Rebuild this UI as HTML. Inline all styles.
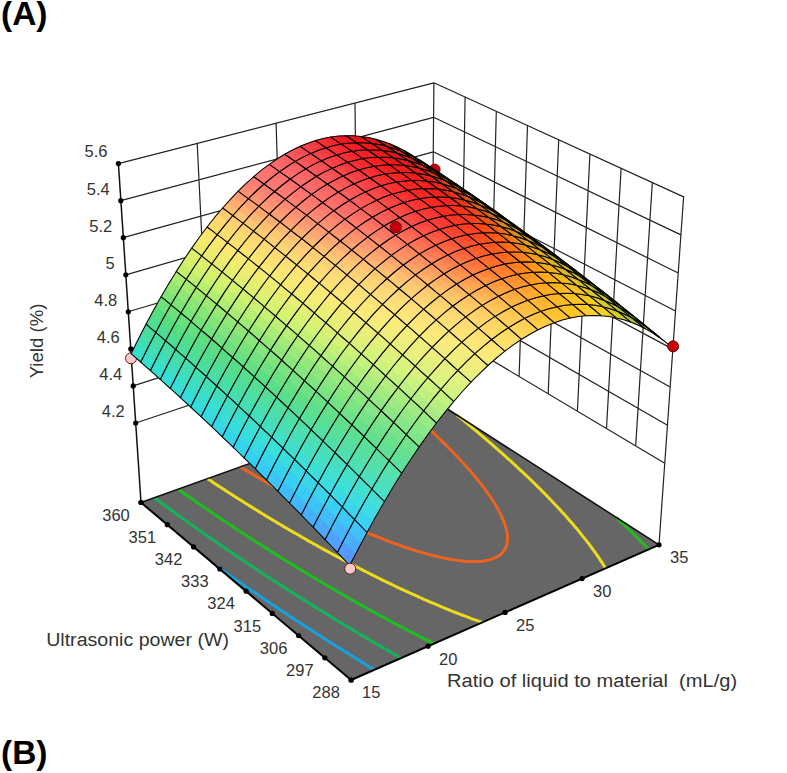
<!DOCTYPE html>
<html><head><meta charset="utf-8"><style>.m{fill:none;stroke:#000;stroke-width:1.05px;stroke-opacity:1;stroke-linejoin:round}html,body{margin:0;padding:0;background:#fff}body{width:787px;height:773px;position:relative;overflow:hidden}</style></head>
<body><svg width="787" height="773" viewBox="0 0 787 773" style="position:absolute;left:0;top:0"><path d="M135.7 423L431.7 324.4 M431.7 324.4L664.8 463.2 M133.2 385.9L432 289.9 M432 289.9L667.5 425.2 M130.8 348.9L432.3 255.4 M432.3 255.4L670.2 387.1 M128.3 311.8L432.6 220.9 M432.6 220.9L672.8 349.1 M125.8 274.8L433 186.3 M433 186.3L675.5 311 M123.3 237.7L433.3 151.8 M433.3 151.8L678.2 273 M120.8 200.7L433.6 117.3 M433.6 117.3L680.9 234.9 M118.4 163.6L433.9 82.8 M433.9 82.8L683.6 196.9 M209.7 398.4L197.2 143.4 M283.7 373.7L276.1 123.2 M357.7 349.1L355 103 M635.7 445.9L652.3 182.6 M606.5 428.5L621.1 168.4 M577.4 411.2L589.9 154.1 M548.2 393.8L558.7 139.8 M519.1 376.5L527.5 125.6 M490 359.1L496.3 111.3 M460.8 341.8L465.1 97.1 M431 398.5L433.9 82.8 M659 544.8L683.6 196.9" stroke="#222" stroke-width="1.2" fill="none" stroke-linecap="round"/><polygon points="351.1,680 659,544.8 431,398.5 141,502.5" fill="#666"/><polyline points="374.4,669.7 372.2,668.4 370.8,667.5 368.6,666.2 366.8,665.1 365,664 362.8,662.6 361.4,661.7 359.2,660.4 357.1,659.1 355.6,658.2 353.5,656.9 351.8,655.8 350,654.7 347.8,653.3 346.4,652.5 344.3,651.1 342.2,649.8 340.8,649 338.7,647.6 336.6,646.3 335.3,645.5 333.2,644.1 331.1,642.8 329.7,642 327.7,640.7 325.7,639.4 324.3,638.5 322.2,637.2 320.3,636 318.9,635 316.8,633.7 314.9,632.5 313.5,631.6 311.5,630.3 309.5,629 308.1,628.1 306.2,626.8 304.2,625.5 302.8,624.7 300.9,623.4 298.9,622.1 297.6,621.3 295.6,620 293.7,618.7 292.4,617.8 290.4,616.6 288.5,615.3 286.7,614.1 285.3,613.2 283.4,611.9 281.5,610.6 280.2,609.8 278.3,608.5 276.4,607.2 274.9,606.2 273.2,605.1 271.3,603.9 269.5,602.6 268.2,601.8 266.4,600.5 264.5,599.3 262.7,598.1 261.4,597.2 259.5,595.9 257.7,594.7 256.4,593.8 254.6,592.6 252.8,591.4 251,590.1 249.8,589.3 248,588.1 246.2,586.8 244.3,585.6 243.2,584.8 241.4,583.5 239.6,582.3 237.8,581.1 236.6,580.2 234.8,579 233.1,577.8 231.3,576.6 230.1,575.7 228.4,574.5 226.6,573.3 224.9,572.1 223.3,571 222,570 220.2,568.8 218.5,567.6 216.8,566.4 216.3,566" fill="none" stroke="#18a0dc" stroke-width="3" stroke-linejoin="round"/><polyline points="401.1,658 398.8,656.7 397.3,655.9 395.1,654.6 393.6,653.8 391.3,652.5 389.8,651.6 387.6,650.3 385.7,649.2 383.9,648.2 381.7,646.9 380.2,646.1 378,644.8 376.6,643.9 374.4,642.7 372.3,641.5 370.7,640.6 368.6,639.3 367.1,638.4 365,637.2 363.2,636.1 361.4,635.1 359.3,633.8 357.8,632.9 355.7,631.7 353.9,630.6 352.2,629.6 350.1,628.3 348.7,627.5 346.6,626.2 344.5,625 343.1,624.1 341,622.9 339.6,622 337.6,620.8 335.5,619.5 334.1,618.7 332.1,617.4 330.1,616.2 328.7,615.3 326.7,614.1 324.8,613 323.3,612 321.3,610.8 319.8,609.8 317.9,608.7 315.9,607.5 314.6,606.6 312.6,605.4 310.6,604.2 309.3,603.3 307.4,602.1 305.4,600.9 304.1,600 302.1,598.8 300.2,597.6 298.9,596.8 297,595.5 295,594.3 293.6,593.4 291.8,592.3 289.9,591 288.1,589.9 286.7,589 284.8,587.8 282.9,586.6 281.7,585.8 279.8,584.5 277.9,583.3 276.7,582.5 274.8,581.3 272.9,580.1 271.2,579 269.8,578.1 268,576.9 266.2,575.7 264.9,574.9 263.1,573.7 261.3,572.5 259.5,571.3 258.2,570.5 256.4,569.3 254.6,568.1 253.4,567.3 251.6,566.1 249.8,564.9 248.1,563.7 246.9,562.9 245.1,561.7 243.3,560.5 241.5,559.3 240.4,558.5 238.6,557.3 236.9,556.2 235.1,555 234,554.2 232.2,553 230.5,551.8 228.8,550.7 227.6,549.9 225.9,548.7 224.2,547.5 222.5,546.4 221.2,545.5 219.6,544.4 218,543.2 216.3,542.1 214.6,540.9 213.5,540.1 211.8,539 210.1,537.8 208.4,536.7 207.1,535.7 205.7,534.7 204,533.6 202.4,532.4 200.7,531.3 199.6,530.5 198,529.4 196.4,528.2 194.8,527.1 193.1,525.9 192,525.1 190.5,524 188.9,522.9 187.3,521.7 185.7,520.6 184.1,519.5 183,518.7 181.4,517.6 179.8,516.4 178.3,515.3 176.7,514.2 175.6,513.4 174.1,512.3 172.5,511.2 171,510 169.4,508.9 167.9,507.8 166.9,507 165.3,505.9 163.8,504.8 162.3,503.7 160.7,502.6 159.2,501.5 157.7,500.3 156.7,499.6 155.2,498.5 154.2,497.8" fill="none" stroke="#14b45a" stroke-width="3" stroke-linejoin="round"/><polyline points="433.9,643.6 431.5,642.5 429.9,641.6 428,640.7 425.9,639.6 424.4,638.8 422,637.6 420.4,636.8 418.1,635.6 416.5,634.8 414.2,633.6 412.6,632.8 410.3,631.6 408.8,630.8 406.5,629.6 404.9,628.8 402.6,627.6 401.1,626.8 398.9,625.6 397.3,624.8 395.1,623.6 393.6,622.8 391.3,621.6 389.8,620.8 387.6,619.6 386.1,618.8 383.9,617.6 382.4,616.8 380.2,615.6 378.8,614.8 376.6,613.6 375.1,612.8 372.9,611.6 371.2,610.6 369.3,609.6 367.2,608.4 365.7,607.6 363.6,606.4 362.2,605.6 360,604.4 358.6,603.6 356.5,602.4 354.6,601.4 353,600.4 350.9,599.2 349.5,598.4 347.4,597.2 346,596.5 343.9,595.3 341.9,594.1 340.5,593.3 338.5,592.1 337.1,591.3 335,590.1 333,588.9 331.7,588.1 329.6,587 328.3,586.2 326.3,585 324.3,583.8 322.9,583 320.9,581.8 319.1,580.8 317.6,579.9 315.6,578.7 314.3,577.9 312.4,576.7 310.4,575.6 309.1,574.8 307.2,573.6 305.2,572.4 303.9,571.7 302,570.5 300.1,569.3 298.8,568.5 296.9,567.4 295,566.2 293.7,565.4 291.8,564.3 289.9,563.1 288.6,562.3 286.8,561.2 284.9,560 283.6,559.2 281.8,558.1 279.9,556.9 278.7,556.1 276.8,555 275,553.8 273.8,553 271.9,551.9 270.1,550.7 268.8,549.9 267.1,548.8 265.3,547.7 263.5,546.5 262.3,545.8 260.5,544.6 258.7,543.5 257.5,542.7 255.7,541.6 253.9,540.4 252.2,539.3 251,538.5 249.2,537.4 247.5,536.2 246,535.3 244.6,534.3 242.8,533.2 241.1,532.1 240,531.3 238.2,530.2 236.5,529.1 234.8,527.9 233.7,527.2 232,526 230.3,524.9 228.6,523.8 227.4,523 225.8,521.9 224.1,520.8 222.4,519.7 220.9,518.7 219.6,517.8 218,516.7 216.3,515.6 214.7,514.5 213.6,513.7 211.9,512.6 210.3,511.5 208.7,510.4 207.1,509.3 206,508.5 204.3,507.4 202.7,506.3 201.1,505.2 199.8,504.3 198.5,503.4 196.9,502.3 195.3,501.2 193.7,500.1 192.2,499.1 191.1,498.3 189.5,497.2 187.9,496.1 186.4,495 184.8,493.9 183.8,493.2 182.2,492.1 180.7,491 179.2,489.9 178.1,489.2" fill="none" stroke="#1ebe1e" stroke-width="3" stroke-linejoin="round"/><polyline points="616.5,517.6 617.6,518.6 618.9,519.8 620,520.9 621.3,522.1 622.4,523.2 623.6,524.3 624.8,525.5 625.9,526.5 627.2,527.8 628.2,528.8 629.6,530.2 630.6,531.1 632,532.5 633,533.5 634.4,534.9 635.4,535.8 636.8,537.3 637.7,538.2 638.9,539.4 640.1,540.6 641.1,541.6 642.5,543 643.5,544 644.9,545.5 645.8,546.4 647,547.6 648.2,548.9 648.7,549.4" fill="none" stroke="#1ebe1e" stroke-width="3" stroke-linejoin="round"/><polyline points="482.3,622.4 480.4,621.8 478.5,621.1 476.6,620.4 474.3,619.6 472,618.8 470.2,618.1 468.4,617.4 466.6,616.7 464.5,615.9 462.1,615 460.3,614.4 458.6,613.7 456.8,613 454.3,612 452.4,611.3 450.7,610.6 449,609.9 446.4,608.8 444.7,608.1 443,607.4 441,606.6 438.7,605.7 437.1,604.9 435.4,604.2 432.9,603.2 431.2,602.5 429.6,601.8 427.1,600.7 425.5,600 423.8,599.3 421.4,598.2 419.8,597.5 418.2,596.7 415.8,595.7 414.2,594.9 412.5,594.2 410.2,593.1 408.6,592.4 406.4,591.4 404.7,590.6 403.2,589.9 400.8,588.8 399.3,588.1 397.1,587.1 395.4,586.3 393.9,585.5 391.6,584.4 390.1,583.7 387.8,582.6 386.3,581.9 384.2,580.9 382.6,580.1 380.9,579.3 378.9,578.2 377.4,577.5 375.2,576.4 373.7,575.7 371.5,574.6 370,573.8 367.9,572.7 366.4,572 364.2,570.9 362.8,570.2 360.7,569.1 359.2,568.3 357.1,567.2 355.7,566.5 353.6,565.4 352.2,564.7 350.1,563.6 348.7,562.8 346.6,561.7 345.2,561 343.1,559.9 341.7,559.2 339.7,558 338.2,557.2 336.2,556.2 334.3,555.2 332.8,554.4 330.8,553.3 329.5,552.5 327.5,551.4 326.1,550.7 324.1,549.6 322.4,548.7 320.8,547.8 318.8,546.7 317.5,545.9 315.5,544.8 314.2,544.1 312.3,543 310.3,541.9 309,541.2 307.1,540.1 305.7,539.3 303.9,538.3 302,537.2 300.7,536.4 298.8,535.3 297,534.3 295.6,533.5 293.7,532.4 292.5,531.7 290.6,530.6 288.7,529.5 287.5,528.8 285.6,527.7 283.8,526.6 282.6,525.9 280.7,524.8 278.9,523.7 277.7,523 275.9,521.9 274,520.8 272.8,520.1 271,519 269.2,517.9 268,517.2 266.3,516.1 264.5,515 263.3,514.3 261.5,513.2 259.8,512.1 258.6,511.4 256.8,510.3 255.1,509.2 253.3,508.1 252.2,507.4 250.5,506.4 248.7,505.3 247.6,504.6 245.9,503.5 244.2,502.4 242.5,501.3 241.3,500.6 239.6,499.5 237.9,498.5 236.6,497.6 235.1,496.7 233.5,495.6 231.8,494.6 230.6,493.8 229,492.8 227.4,491.7 225.7,490.7 224.5,489.8 223,488.9 221.4,487.8 219.7,486.8 218.1,485.7 217,485 215.4,483.9 213.8,482.9 212.2,481.8 211.2,481.1 209.6,480.1 208,479 207.5,478.7" fill="none" stroke="#ebdc1e" stroke-width="3" stroke-linejoin="round"/><polyline points="456.7,415 457.9,415.9 459.2,417 460.6,418.1 461.5,418.8 462.8,419.9 464.1,421 465,421.7 466.4,422.8 467.7,423.9 468.6,424.7 469.9,425.8 471.3,426.9 472.2,427.6 473.5,428.8 474.9,429.9 475.7,430.6 477.1,431.7 478.4,432.9 479.3,433.6 480.7,434.8 482,435.9 482.9,436.6 484.2,437.8 485.6,438.9 486.5,439.7 487.8,440.8 489.1,442 490,442.8 491.4,443.9 492.3,444.7 493.6,445.9 494.9,447 495.8,447.8 497.2,449 498.3,450 499.4,451 500.7,452.1 501.6,452.9 503,454.1 504.1,455.2 505.2,456.1 506.5,457.3 507.4,458.1 508.7,459.3 509.7,460.2 511,461.3 512.3,462.6 513.2,463.4 514.5,464.6 515.4,465.4 516.7,466.6 517.6,467.5 518.9,468.7 520.1,469.8 521.2,470.8 522.5,472 523.4,472.8 524.7,474.1 525.6,474.9 526.9,476.2 527.8,477 529.1,478.3 530,479.2 531.3,480.4 532.2,481.3 533.5,482.6 534.4,483.4 535.7,484.7 536.6,485.6 537.9,486.9 538.8,487.7 540.1,489 540.9,489.9 542.2,491.2 543.1,492.1 544.4,493.4 545.3,494.3 546.6,495.6 547.5,496.5 548.8,497.9 549.6,498.8 550.8,500 551.8,501 552.7,502 553.9,503.3 554.8,504.2 556.1,505.5 556.9,506.4 558.2,507.8 559.1,508.7 560,509.7 561.2,511 562,512 563.3,513.4 564.2,514.3 565.1,515.3 566.3,516.6 567.1,517.6 568.3,519 569.2,520 570,520.9 571.3,522.3 572.1,523.3 573,524.3 574.2,525.7 575,526.7 575.9,527.8 577.1,529.1 577.9,530.1 578.8,531.2 579.9,532.6 580.7,533.6 581.5,534.6 582.7,536.1 583.5,537.1 584.3,538.1 585.4,539.4 586.3,540.6 587.1,541.6 587.9,542.6 589.1,544.2 589.8,545.2 590.6,546.2 591.4,547.3 592.5,548.8 593.3,549.9 594,550.9 594.8,552 595.8,553.4 596.7,554.6 597.4,555.7 598.1,556.8 598.9,557.8 599.8,559.2 600.7,560.6 601.4,561.6 602.1,562.7 602.8,563.8 603.5,565 604.2,566.2 605.1,567.5 605.6,568.3" fill="none" stroke="#ebdc1e" stroke-width="3" stroke-linejoin="round"/><polyline points="405.2,407.7 406.5,408.8 407.3,409.5 408.6,410.6 409.8,411.7 410.7,412.4 411.9,413.5 413.2,414.6 414,415.3 415.3,416.4 416.4,417.4 417.3,418.2 418.6,419.3 419.4,420.1 420.7,421.2 421.9,422.3 422.7,423.1 424,424.2 425.2,425.3 426,426.1 427.3,427.2 428.1,428 429.3,429.1 430.5,430.2 431.4,431 432.6,432.2 433.4,432.9 434.6,434.1 435.6,435 436.7,436 437.9,437.2 438.7,438 439.9,439.1 440.7,439.9 441.9,441.1 442.7,441.9 444,443.1 444.8,443.9 446,445.1 447,446.1 448,447.1 449.1,448.2 450,449.1 451.1,450.2 451.9,451.1 453.1,452.3 453.9,453.1 455,454.3 455.9,455.2 456.9,456.2 457.9,457.3 458.7,458.2 459.8,459.3 460.6,460.2 461.7,461.4 462.5,462.3 463.7,463.5 464.4,464.4 465.6,465.7 466.3,466.5 467.2,467.5 468.2,468.7 469,469.5 470.1,470.8 470.9,471.7 471.8,472.8 472.7,473.9 473.5,474.8 474.6,476.1 475.3,477 476.1,477.9 477.1,479.2 477.9,480.1 478.7,481.1 479.7,482.3 480.4,483.2 481.2,484.2 482.2,485.5 482.9,486.4 483.6,487.4 484.6,488.7 485.3,489.7 486,490.6 486.8,491.8 487.6,493 488.3,493.9 489,494.9 489.9,496.1 490.6,497.2 491.3,498.2 491.9,499.2 492.6,500.3 493.5,501.6 494.1,502.6 494.7,503.6 495.3,504.6 495.9,505.6 496.6,506.8 497.4,508.1 497.9,509.1 498.5,510.1 499,511.2 499.6,512.2 500.1,513.2 500.6,514.3 501.1,515.3 501.7,516.5 502.2,517.6 502.7,518.7 503.2,519.8 503.6,520.9 504,522 504.4,523 504.8,524.1 505.1,525.1 505.5,526.3 505.8,527.4 506.1,528.6 506.4,529.8 506.7,530.9 506.9,531.9 507,532.8 507.2,534 507.4,535.2 507.4,536.3 507.5,537.1 507.5,538.4 507.5,539.5 507.5,540.4 507.3,541.8 507.2,542.6 507,543.9 506.8,544.7 506.4,546 506,547 505.6,548 505,549.2 504.3,550.3 503.6,551.3 502.7,552.3 501.7,553.5 500.7,554.4 499.6,555.3 497.8,556.4 496.4,557.2 494.3,558.2 492,559.1 490.2,559.6 487.7,560.2 485.8,560.6 483.9,560.9 481.6,561.2 479.6,561.4 477.6,561.5 475.3,561.5 472.9,561.6 471.1,561.5 469.2,561.5 466.8,561.3 465.3,561.2 462.8,561 461.2,560.8 459,560.6 457,560.3 455.3,560.1 453,559.7 450.9,559.4 449.4,559.1 447.3,558.7 445.2,558.3 443,557.8 441.2,557.4 439.5,557.1 437.8,556.7 435.8,556.2 433.8,555.7 431.8,555.2 429.8,554.7 427.9,554.2 426,553.6 424.1,553.1 422.2,552.6 420.3,552 418.5,551.5 416.7,550.9 414.9,550.4 413.1,549.8 411.1,549.2 409,548.5 406.9,547.8 405.1,547.2 403.4,546.6 401.7,546 400,545.4 398.1,544.7 395.8,543.9 394.1,543.3 392.5,542.7 390.8,542.1 388.8,541.3 386.7,540.5 385.1,539.9 383.5,539.3 381.6,538.5 379.5,537.7 378,537.1 376.4,536.5 374,535.5 372.5,534.9 371,534.3 368.8,533.4 367.1,532.7 365.6,532 363.5,531.1 361.8,530.4 360.3,529.8 358.1,528.8 356.6,528.1 355.2,527.5 353,526.5 351.5,525.9 349.5,525 347.9,524.2 346.4,523.6 344.3,522.6 342.9,521.9 340.7,520.9 339.3,520.3 337.6,519.5 335.8,518.6 334.4,517.9 332.3,517 331,516.3 328.9,515.3 327.5,514.6 325.5,513.6 324.1,513 322.1,512 320.7,511.3 318.7,510.3 317.4,509.6 315.4,508.6 314.1,507.9 312.1,506.9 310.8,506.3 308.8,505.3 307.5,504.6 305.6,503.6 304.3,502.9 302.3,501.9 300.8,501.1 299.1,500.2 297.2,499.2 296,498.5 294.1,497.5 292.8,496.9 290.9,495.8 289.5,495.1 287.8,494.2 286,493.1 284.7,492.5 282.9,491.5 281.5,490.7 279.8,489.8 278,488.8 276.8,488.1 275,487.1 273.3,486.1 272,485.4 270.2,484.4 269,483.7 267.2,482.7 265.5,481.7 264.3,481 262.5,480 260.8,479 259.6,478.3 257.9,477.3 256.1,476.3 255,475.6 253.3,474.6 251.6,473.6 250.4,472.9 248.7,471.9 247,470.9 245.7,470.1 244.2,469.2 242.5,468.2 240.9,467.2 240.3,466.9" fill="none" stroke="#ec6420" stroke-width="3" stroke-linejoin="round"/><path d="M141 502.5L431 398.5L659 544.8" stroke="#111" stroke-width="1.6" fill="none"/><path d="M141 502.5L351.1 680L659 544.8" stroke="#000" stroke-width="2" fill="none" stroke-linejoin="round"/><path d="M141 502.5L118.4 163.6" stroke="#111" stroke-width="1.5"/><circle cx="131" cy="358.3" r="5.5" fill="#ffc8c8" stroke="#602020" stroke-width="1"/><circle cx="434.6" cy="169.6" r="5.5" fill="#c8000a" stroke="#700000" stroke-width="1"/><path fill="#49e0c8" d="M384.4 502.1L390.5 491.8 383.8 485.2 377.7 495.4z"/><path fill="#4ae0c4" d="M378.1 495.7L384.2 485.5 377.5 478.9 371.4 489.1z"/><path fill="#50e0b9" d="M390.2 492.3L396.3 482.3 389.6 475.7 383.5 485.7z"/><path fill="#51e0b5" d="M383.9 485.9L390 476 383.3 469.5 377.2 479.4z"/><path fill="#56e0ab" d="M396 482.8L402.1 473.1 395.4 466.5 389.3 476.2z"/><path fill="#57e0a8" d="M389.6 476.4L395.7 466.8 389 460.3 382.9 469.9z"/><path class="m" stroke="#044633" d="M384.4 501.7 393.1 487.1 401.8 473.1 395.4 466.8 389 460.6 380.4 474.5 371.8 489 378.1 495.3z"/><path fill="#5de09f" d="M401.8 473.5L407.9 464.1 401.2 457.5 395.1 466.9z"/><path fill="#5ee09b" d="M395.4 467.2L401.5 457.8 394.8 451.3 388.7 460.7z"/><path fill="#63e093" d="M407.6 464.5L413.7 455.3 406.9 448.8 400.8 457.9z"/><path fill="#64e08f" d="M401.2 458.2L407.3 449.1 400.6 442.6 394.5 451.7z"/><path fill="#6fe28d" d="M413.4 455.7L419.5 446.8 412.7 440.3 406.6 449.2z"/><path fill="#72e38b" d="M407 449.5L413.1 440.6 406.3 434.2 400.2 443z"/><path class="m" stroke="#09451f" d="M401.8 473.1 410.5 459.7 419.2 446.9 412.7 440.7 406.3 434.5 397.7 447.3 389 460.6 395.4 466.8z"/><path fill="#3cd2f4" d="M367 532.8L373.1 521.9 366.5 515.2 360.4 526.1z"/><path fill="#3cd3f1" d="M360.8 526.4L366.8 515.4 360.3 508.8 354.2 519.7z"/><path fill="#3edae6" d="M372.8 522.3L378.9 511.6 372.3 505 366.2 515.6z"/><path fill="#3edce3" d="M366.5 515.9L372.6 505.2 366 498.6 359.9 509.3z"/><path fill="#42e0d8" d="M378.6 512.1L384.7 501.6 378.1 495 372 505.4z"/><path fill="#43e0d4" d="M372.3 505.7L378.4 495.2 371.8 488.7 365.7 499.1z"/><path class="m" stroke="#004449" d="M367 532.5 375.7 516.8 384.4 501.7 378.1 495.3 371.8 489 363.1 504 354.5 519.6 360.8 526z"/><path fill="#7de48a" d="M419.2 447.2L425.3 438.6 418.5 432.1 412.4 440.7z"/><path fill="#81e589" d="M412.8 441L418.9 432.4 412.1 426 406 434.6z"/><path fill="#8be788" d="M425 439L431.1 430.6 424.3 424.2 418.2 432.5z"/><path fill="#8ee786" d="M418.5 432.8L424.6 424.5 417.8 418.1 411.7 426.4z"/><path fill="#97e986" d="M430.8 431L436.9 422.9 430 416.5 423.9 424.5z"/><path fill="#9aea84" d="M424.3 424.9L430.4 416.8 423.6 410.4 417.5 418.5z"/><path class="m" stroke="#1a4817" d="M419.2 446.9 427.9 434.6 436.5 423 430 416.8 423.6 410.7 415 422.3 406.3 434.5 412.7 440.7z"/><path fill="#5598fd" d="M349.7 565.8L355.8 554.1 349.2 547.4 343.2 559z"/><path fill="#539cfd" d="M343.5 559.2L349.6 547.6 343 540.9 337 552.5z"/><path fill="#4cacfa" d="M355.5 554.6L361.6 543.1 355 536.4 348.9 547.8z"/><path fill="#49b0fa" d="M349.2 548.1L355.3 536.6 348.8 530 342.7 541.4z"/><path fill="#43c0f7" d="M361.3 543.6L367.4 532.4 360.7 525.7 354.7 536.9z"/><path fill="#41c4f7" d="M355 537.1L361.1 525.9 354.5 519.3 348.4 530.4z"/><path class="m" stroke="#083252" d="M349.7 565.5 358.4 548.7 367 532.5 360.8 526 354.5 519.6 345.9 535.7 337.3 552.4 343.5 558.9z"/><path fill="#a5ec84" d="M436.6 423.3L442.7 415.5 435.8 409 429.7 416.9z"/><path fill="#aaec83" d="M430.1 417.2L436.1 409.4 429.3 403 423.2 410.8z"/><path fill="#b4ee83" d="M442.3 415.9L448.4 408.3 441.5 401.9 435.4 409.4z"/><path fill="#b9ef82" d="M435.8 409.7L441.9 402.2 435 395.9 429 403.4z"/><path fill="#c2f182" d="M448.1 408.7L454.2 401.4 447.2 395 441.2 402.3z"/><path fill="#c7f281" d="M441.6 402.6L447.6 395.3 440.7 389 434.7 396.2z"/><path class="m" stroke="#2e4b12" d="M436.5 423 445.2 411.9 453.8 401.4 447.3 395.3 440.8 389.3 432.2 399.7 423.6 410.7 430 416.8z"/><path fill="#cff380" d="M453.8 401.7L459.9 394.7 453 388.4 446.9 395.3z"/><path fill="#d4f47f" d="M447.3 395.7L453.3 388.7 446.4 382.4 440.4 389.4z"/><path fill="#d9f380" d="M459.6 395.1L465.6 388.4 458.7 382 452.6 388.7z"/><path fill="#dcf37f" d="M453 389.1L459 382.3 452.1 376 446.1 382.7z"/><path fill="#e0f280" d="M465.3 388.7L471.3 382.2 464.4 375.9 458.3 382.3z"/><path fill="#e3f17f" d="M458.7 382.7L464.7 376.2 457.8 370 451.8 376.4z"/><path class="m" stroke="#404e0d" d="M453.8 401.4 462.4 391.5 471 382.2 464.4 376.2 457.8 370.3 449.3 379.5 440.8 389.3 447.3 395.3z"/><path fill="#4be0c1" d="M371.8 489.4L377.9 479.2 371.2 472.7 365.2 482.9z"/><path fill="#4ce0bd" d="M365.5 483.1L371.6 473 365 466.6 359 476.7z"/><path fill="#52e0b2" d="M377.5 479.6L383.6 469.7 377 463.3 370.9 473.2z"/><path fill="#53e0ae" d="M371.3 473.4L377.3 463.5 370.7 457.2 364.7 467z"/><path fill="#58e0a4" d="M383.3 470.2L389.4 460.5 382.7 454.1 376.7 463.7z"/><path fill="#59e0a0" d="M377 464L383.1 454.4 376.4 448 370.4 457.6z"/><path class="m" stroke="#054630" d="M371.8 489 380.4 474.5 389 460.6 382.7 454.5 376.5 448.4 367.9 462.2 359.3 476.6 365.5 482.8z"/><path fill="#e6f07f" d="M471 382.6L477 376.4 470.1 370.1 464 376.2z"/><path fill="#e9f07e" d="M464.4 376.6L470.4 370.4 463.5 364.2 457.5 370.3z"/><path fill="#ecef7e" d="M476.7 376.7L482.7 370.8 475.7 364.5 469.7 370.4z"/><path fill="#eeee7d" d="M470.1 370.8L476.1 364.9 469.1 358.6 463.2 364.5z"/><path fill="#f1ed7c" d="M482.4 371.2L488.4 365.5 481.4 359.2 475.4 364.8z"/><path fill="#f4ed7c" d="M475.8 365.2L481.8 359.6 474.8 353.3 468.8 358.9z"/><path class="m" stroke="#4a4b0b" d="M471 382.2 479.5 373.6 488 365.5 481.4 359.6 474.8 353.7 466.4 361.7 457.8 370.3 464.4 376.2z"/><path fill="#5fe097" d="M389.1 461L395.1 451.6 388.5 445.2 382.4 454.5z"/><path fill="#60e094" d="M382.7 454.8L388.8 445.5 382.2 439.1 376.1 448.5z"/><path fill="#67e08d" d="M394.8 452L400.9 442.9 394.2 436.5 388.1 445.6z"/><path fill="#6ae18b" d="M388.5 445.9L394.6 436.8 387.9 430.5 381.8 439.5z"/><path fill="#76e38a" d="M400.6 443.3L406.7 434.5 399.9 428.1 393.9 436.9z"/><path fill="#79e488" d="M394.2 437.2L400.3 428.4 393.6 422.1 387.6 430.9z"/><path class="m" stroke="#0c461d" d="M389 460.6 397.7 447.3 406.3 434.5 400 428.4 393.6 422.4 385 435.1 376.5 448.4 382.7 454.5z"/><path fill="#3cd5ee" d="M354.5 520L360.6 509.1 354 502.5 348 513.4z"/><path fill="#3cd7eb" d="M348.3 513.6L354.4 502.7 347.9 496.3 341.8 507.1z"/><path fill="#3edde0" d="M360.3 509.5L366.3 498.9 359.8 492.3 353.7 503z"/><path fill="#3edfdd" d="M354.1 503.2L360.1 492.6 353.6 486.1 347.5 496.7z"/><path fill="#44e0d0" d="M366 499.3L372.1 488.9 365.5 482.4 359.4 492.8z"/><path fill="#45e0cd" d="M359.8 493L365.8 482.7 359.3 476.2 353.2 486.6z"/><path class="m" stroke="#004646" d="M354.5 519.6 363.1 504 371.8 489 365.5 482.8 359.3 476.6 350.7 491.5 342.2 507 348.3 513.3z"/><path fill="#84e687" d="M406.3 434.9L412.4 426.3 405.7 419.9 399.6 428.5z"/><path fill="#87e686" d="M400 428.8L406 420.2 399.3 414 393.3 422.5z"/><path fill="#91e885" d="M412.1 426.7L418.2 418.4 411.4 412 405.3 420.3z"/><path fill="#95e984" d="M405.7 420.6L411.8 412.3 405.1 406.1 399 414.4z"/><path fill="#9fea83" d="M417.8 418.8L423.9 410.7 417.1 404.4 411.1 412.4z"/><path fill="#a4eb82" d="M411.4 412.7L417.5 404.7 410.8 398.5 404.7 406.5z"/><path class="m" stroke="#1d4916" d="M406.3 434.5 415 422.3 423.6 410.7 417.2 404.7 410.8 398.8 402.2 410.3 393.6 422.4 400 428.4z"/><path fill="#50a0fc" d="M337.3 552.8L343.4 541.1 336.9 534.5 330.9 546.1z"/><path fill="#4ea3fb" d="M331.2 546.3L337.2 534.7 330.8 528.2 324.8 539.8z"/><path fill="#47b4f9" d="M343.1 541.6L349.1 530.2 342.6 523.6 336.6 535z"/><path fill="#45b8f8" d="M336.9 535.2L342.9 523.8 336.5 517.3 330.5 528.6z"/><path fill="#3ec7f6" d="M348.8 530.7L354.8 519.5 348.3 512.9 342.3 524.1z"/><path fill="#3ccbf6" d="M342.6 524.3L348.7 513.2 342.2 506.7 336.1 517.8z"/><path class="m" stroke="#063552" d="M337.3 552.4 345.9 535.7 354.5 519.6 348.3 513.3 342.2 507 333.6 523.1 325.1 539.6 331.2 546z"/><path fill="#afed82" d="M423.6 411.1L429.7 403.3 422.9 397 416.8 404.8z"/><path fill="#b4ee81" d="M417.2 405.1L423.2 397.3 416.5 391.1 410.4 398.9z"/><path fill="#bef081" d="M429.3 403.7L435.4 396.2 428.6 389.9 422.5 397.4z"/><path fill="#c3f180" d="M422.9 397.7L428.9 390.2 422.2 384 416.1 391.5z"/><path fill="#ccf280" d="M435.1 396.6L441.1 389.3 434.3 383.1 428.2 390.3z"/><path fill="#d1f37e" d="M428.6 390.6L434.6 383.4 427.9 377.2 421.8 384.4z"/><path class="m" stroke="#334c10" d="M423.6 410.7 432.2 399.7 440.8 389.3 434.3 383.4 427.9 377.5 419.3 387.9 410.8 398.8 417.2 404.7z"/><path fill="#f5ec7a" d="M488.1 365.8L494 360.5 487 354.2 481.1 359.5z"/><path fill="#f8eb79" d="M481.4 359.9L487.4 354.6 480.4 348.3 474.5 353.7z"/><path fill="#faea77" d="M493.7 360.8L499.7 355.7 492.6 349.4 486.7 354.5z"/><path fill="#fce976" d="M487.1 354.9L493 349.8 486 343.6 480.1 348.7z"/><path fill="#fce773" d="M499.3 356L505.3 351.2 498.2 345 492.3 349.7z"/><path fill="#fde573" d="M492.7 350.1L498.6 345.3 491.6 339.1 485.7 343.9z"/><path class="m" stroke="#52490a" d="M488 365.5 496.5 358 504.9 351.2 498.3 345.3 491.6 339.5 483.2 346.3 474.8 353.7 481.4 359.6z"/><path fill="#d8f47f" d="M440.8 389.7L446.8 382.7 440 376.5 433.9 383.4z"/><path fill="#daf37e" d="M434.3 383.8L440.3 376.8 433.5 370.6 427.5 377.6z"/><path fill="#dff27f" d="M446.5 383.1L452.5 376.4 445.6 370.2 439.6 376.8z"/><path fill="#e2f17e" d="M440 377.2L446 370.5 439.2 364.3 433.2 371z"/><path fill="#e6f07f" d="M452.2 376.7L458.2 370.3 451.3 364.1 445.3 370.5z"/><path fill="#e8f07e" d="M445.7 370.9L451.7 364.4 444.9 358.3 438.9 364.7z"/><path class="m" stroke="#434d0d" d="M440.8 389.3 449.3 379.5 457.8 370.3 451.3 364.5 444.9 358.7 436.4 367.8 427.9 377.5 434.3 383.4z"/><path fill="#ecef7e" d="M457.9 370.7L463.9 364.5 457 358.3 451 364.4z"/><path fill="#eeee7e" d="M451.4 364.8L457.4 358.7 450.5 352.5 444.5 358.7z"/><path fill="#f1ed7d" d="M463.5 364.9L469.5 359 462.6 352.8 456.7 358.7z"/><path fill="#f4ed7d" d="M457 359L463 353.2 456.1 347 450.2 352.9z"/><path fill="#f6ec7b" d="M469.2 359.3L475.2 353.7 468.2 347.5 462.3 353.1z"/><path fill="#f9eb7b" d="M462.7 353.5L468.6 347.9 461.7 341.8 455.8 347.4z"/><path class="m" stroke="#4d4a0b" d="M457.8 370.3 466.4 361.7 474.8 353.7 468.3 347.9 461.8 342.2 453.3 350.1 444.9 358.7 451.3 364.5z"/><path fill="#4de0b9" d="M359.3 476.9L365.4 466.8 358.8 460.5 352.8 470.6z"/><path fill="#4ee0b5" d="M353.1 470.8L359.2 460.8 352.7 454.5 346.7 464.5z"/><path fill="#54e0aa" d="M365 467.3L371.1 457.4 364.5 451.1 358.5 460.9z"/><path fill="#54e0a7" d="M358.8 461.2L364.9 451.4 358.3 445.2 352.3 454.9z"/><path fill="#5ae09d" d="M370.7 457.9L376.8 448.3 370.2 442 364.2 451.6z"/><path fill="#5be099" d="M364.5 451.8L370.6 442.3 364 436.1 358 445.6z"/><path class="m" stroke="#06462d" d="M359.3 476.6 367.9 462.2 376.5 448.4 370.2 442.4 364 436.4 355.5 450.1 347 464.4 353.1 470.5z"/><path fill="#61e090" d="M376.5 448.7L382.5 439.4 375.9 433.1 369.9 442.4z"/><path fill="#62e08c" d="M370.2 442.7L376.3 433.4 369.7 427.2 363.7 436.5z"/><path fill="#6ee28a" d="M382.2 439.8L388.3 430.7 381.6 424.5 375.6 433.6z"/><path fill="#71e289" d="M375.9 433.8L382 424.8 375.4 418.6 369.4 427.6z"/><path fill="#7de487" d="M387.9 431.2L394 422.4 387.3 416.1 381.3 424.9z"/><path fill="#80e586" d="M381.7 425.2L387.7 416.4 381.1 410.3 375.1 419z"/><path class="m" stroke="#0f461c" d="M376.5 448.4 385 435.1 393.6 422.4 387.3 416.5 381.1 410.6 372.6 423.2 364 436.4 370.2 442.4z"/><path fill="#fde36f" d="M505 351.5L510.8 347 503.8 340.7 497.9 345.3z"/><path fill="#fde16e" d="M498.3 345.7L504.2 341.1 497.2 334.9 491.3 339.4z"/><path fill="#fde069" d="M510.5 347.3L516.4 343 509.3 336.8 503.5 341z"/><path fill="#fedd69" d="M503.9 341.4L509.7 337.2 502.7 331 496.9 335.2z"/><path fill="#fedc64" d="M516.1 343.3L522 339.3 514.9 333.1 509 337.1z"/><path fill="#fed963" d="M509.4 337.5L515.3 333.5 508.2 327.4 502.4 331.3z"/><path class="m" stroke="#534408" d="M504.9 351.2 513.3 344.9 521.6 339.3 514.9 333.5 508.3 327.7 500 333.3 491.6 339.5 498.3 345.3z"/><path fill="#3cd8e8" d="M342.2 507.4L348.2 496.5 341.7 490.1 335.7 500.9z"/><path fill="#3cdae5" d="M336.1 501.2L342.1 490.4 335.6 484 329.7 494.8z"/><path fill="#3ee0da" d="M347.9 497L353.9 486.4 347.4 480 341.4 490.6z"/><path fill="#3fe0d6" d="M341.7 490.8L347.8 480.2 341.3 473.9 335.3 484.5z"/><path fill="#46e0c9" d="M353.6 486.8L359.6 476.5 353.1 470.1 347.1 480.5z"/><path fill="#47e0c5" d="M347.4 480.7L353.5 470.4 347 464.1 341 474.4z"/><path class="m" stroke="#004743" d="M342.2 507 350.7 491.5 359.3 476.6 353.1 470.5 347 464.4 338.5 479.3 330 494.7 336.1 500.8z"/><path fill="#8be785" d="M393.6 422.8L399.7 414.2 393 408 387 416.6z"/><path fill="#8ee783" d="M387.4 416.8L393.4 408.3 386.8 402.2 380.8 410.7z"/><path fill="#98e982" d="M399.4 414.7L405.4 406.4 398.7 400.2 392.7 408.4z"/><path fill="#9cea81" d="M393.1 408.7L399.1 400.5 392.5 394.4 386.4 402.6z"/><path fill="#a8ec81" d="M405.1 406.8L411.1 398.8 404.4 392.6 398.4 400.6z"/><path fill="#aded80" d="M398.8 400.9L404.8 392.9 398.1 386.8 392.1 394.8z"/><path class="m" stroke="#214915" d="M393.6 422.4 402.2 410.3 410.8 398.8 404.4 392.9 398.2 387.2 389.6 398.6 381.1 410.6 387.3 416.5z"/><path fill="#4ca7fb" d="M325.1 540L331.1 528.4 324.7 521.9 318.7 533.5z"/><path fill="#4aabfa" d="M319.1 533.7L325 522.1 318.7 515.7 312.7 527.3z"/><path fill="#43bbf8" d="M330.8 528.9L336.8 517.5 330.4 511.1 324.4 522.4z"/><path fill="#40bff7" d="M324.7 522.6L330.7 511.3 324.3 504.9 318.4 516.2z"/><path fill="#3acff5" d="M336.5 518L342.5 506.9 336 500.5 330.1 511.6z"/><path fill="#39d1f3" d="M330.4 511.8L336.4 500.7 330 494.4 324 505.4z"/><path class="m" stroke="#053951" d="M325.1 539.6 333.6 523.1 342.2 507 336.1 500.8 330 494.7 321.5 510.7 313.1 527.1 319.1 533.3z"/><path fill="#b9ef80" d="M410.8 399.2L416.8 391.4 410.1 385.3 404.1 393z"/><path fill="#bdf07f" d="M404.5 393.3L410.5 385.6 403.8 379.5 397.8 387.2z"/><path fill="#c8f27f" d="M416.5 391.8L422.5 384.3 415.8 378.2 409.8 385.7z"/><path fill="#ccf27d" d="M410.2 386L416.2 378.5 409.5 372.5 403.5 379.9z"/><path fill="#d5f47e" d="M422.2 384.7L428.2 377.5 421.5 371.4 415.5 378.6z"/><path fill="#d8f37d" d="M415.8 378.9L421.8 371.7 415.1 365.7 409.1 372.8z"/><path class="m" stroke="#384d0f" d="M410.8 398.8 419.3 387.9 427.9 377.5 421.5 371.8 415.2 366 406.7 376.3 398.2 387.2 404.4 392.9z"/><path fill="#fbea79" d="M474.8 354L480.8 348.7 473.9 342.6 467.9 347.9z"/><path fill="#fce878" d="M468.3 348.2L474.2 342.9 467.3 336.9 461.4 342.1z"/><path fill="#fde676" d="M480.5 349L486.4 344 479.5 337.9 473.5 342.9z"/><path fill="#fde475" d="M473.9 343.3L479.8 338.2 472.9 332.2 467 337.2z"/><path fill="#fde272" d="M486.1 344.3L492 339.5 485 333.4 479.1 338.2z"/><path fill="#fee071" d="M479.5 338.5L485.4 333.8 478.5 327.7 472.6 332.5z"/><path class="m" stroke="#534609" d="M474.8 353.7 483.2 346.3 491.6 339.5 485.1 333.8 478.5 328.1 470.2 334.8 461.8 342.2 468.3 347.9z"/><path fill="#ddf27e" d="M427.9 377.9L433.9 371 427.1 364.9 421.1 371.8z"/><path fill="#e0f17d" d="M421.5 372.1L427.5 365.2 420.8 359.2 414.8 366.1z"/><path fill="#e4f17e" d="M433.6 371.3L439.6 364.7 432.8 358.6 426.8 365.2z"/><path fill="#e7f07e" d="M427.2 365.6L433.2 358.9 426.4 352.9 420.5 359.5z"/><path fill="#ebef7e" d="M439.2 365L445.2 358.6 438.4 352.6 432.5 358.9z"/><path fill="#eeee7d" d="M432.8 359.3L438.8 352.9 432.1 346.9 426.1 353.3z"/><path class="m" stroke="#464c0c" d="M427.9 377.5 436.4 367.8 444.9 358.7 438.5 352.9 432.1 347.3 423.6 356.4 415.2 366 421.5 371.8z"/><path fill="#fed85d" d="M521.7 339.6L527.5 335.9 520.4 329.7 514.6 333.4z"/><path fill="#fed55c" d="M515 333.8L520.8 330.1 513.7 324 507.9 327.6z"/><path fill="#fed457" d="M527.2 336.2L533 332.8 525.9 326.6 520.1 330z"/><path fill="#ffd156" d="M520.5 330.4L526.3 327 519.2 320.8 513.4 324.2z"/><path fill="#ffd150" d="M532.7 333L538.4 329.9 531.3 323.7 525.6 326.8z"/><path fill="#ffcd4f" d="M526 327.3L531.7 324.1 524.7 318 518.9 321.1z"/><path class="m" stroke="#544007" d="M521.6 339.3 529.9 334.2 538.1 329.8 531.4 324 524.7 318.3 516.5 322.7 508.3 327.7 514.9 333.5z"/><path fill="#f1ed7d" d="M444.9 359L450.9 352.9 444.1 346.8 438.1 352.9z"/><path fill="#f4ed7d" d="M438.5 353.3L444.4 347.2 437.7 341.2 431.7 347.3z"/><path fill="#f7ec7c" d="M450.6 353.2L456.5 347.4 449.7 341.4 443.7 347.2z"/><path fill="#faeb7c" d="M444.1 347.5L450.1 341.7 443.3 335.7 437.3 341.5z"/><path fill="#fcea7b" d="M456.2 347.7L462.1 342.2 455.3 336.2 449.4 341.7z"/><path fill="#fce87a" d="M449.7 342.1L455.7 336.5 448.9 330.6 443 336.1z"/><path class="m" stroke="#50490a" d="M444.9 358.7 453.3 350.1 461.8 342.2 455.3 336.5 448.9 330.9 440.5 338.8 432.1 347.3 438.5 352.9z"/><path fill="#4fdfb2" d="M347 464.8L353 454.7 346.6 448.6 340.6 458.6z"/><path fill="#4fdfae" d="M340.9 458.8L346.9 448.8 340.5 442.7 334.5 452.7z"/><path fill="#55dfa3" d="M352.7 455.2L358.7 445.4 352.2 439.2 346.2 449z"/><path fill="#56df9f" d="M346.6 449.3L352.6 439.5 346.1 433.4 340.2 443.1z"/><path fill="#5cdf95" d="M358.4 445.9L364.4 436.3 357.9 430.2 351.9 439.7z"/><path fill="#5ddf92" d="M352.2 439.9L358.2 430.4 351.8 424.4 345.8 433.8z"/><path class="m" stroke="#074629" d="M347 464.4 355.5 450.1 364 436.4 357.9 430.5 351.8 424.7 343.3 438.4 334.9 452.6 340.9 458.5z"/><path fill="#fede6d" d="M491.7 339.8L497.6 335.3 490.6 329.2 484.7 333.7z"/><path fill="#fedc6c" d="M485.1 334.1L491 329.6 484 323.6 478.2 328z"/><path fill="#feda68" d="M497.2 335.6L503.1 331.4 496.1 325.3 490.3 329.5z"/><path fill="#ffd767" d="M490.7 329.9L496.5 325.7 489.6 319.7 483.7 323.9z"/><path fill="#ffd662" d="M502.8 331.7L508.6 327.8 501.6 321.7 495.8 325.6z"/><path fill="#ffd361" d="M496.2 326L502 322.1 495.1 316 489.3 320z"/><path class="m" stroke="#544107" d="M491.6 339.5 500 333.3 508.3 327.7 501.7 322 495.1 316.4 486.8 321.9 478.5 328.1 485.1 333.8z"/><path fill="#64e08b" d="M364.1 436.8L370.1 427.5 363.6 421.3 357.6 430.6z"/><path fill="#68e189" d="M357.9 430.9L363.9 421.6 357.4 415.6 351.4 424.8z"/><path fill="#74e387" d="M369.7 427.9L375.8 418.9 369.2 412.8 363.2 421.8z"/><path fill="#78e386" d="M363.6 422L369.6 413.1 363.1 407 357.1 416z"/><path fill="#83e584" d="M375.4 419.3L381.4 410.6 374.9 404.5 368.9 413.2z"/><path fill="#86e683" d="M369.2 413.5L375.2 404.7 368.7 398.7 362.7 407.4z"/><path class="m" stroke="#12471a" d="M364 436.4 372.6 423.2 381.1 410.6 374.9 404.8 368.7 399.1 360.3 411.6 351.8 424.7 357.9 430.5z"/><path fill="#3cdbe2" d="M330 495.1L336 484.3 329.6 478 323.6 488.8z"/><path fill="#3cdddf" d="M324 489L329.9 478.2 323.6 472.1 317.6 482.8z"/><path fill="#40e0d2" d="M335.7 484.7L341.6 474.2 335.2 467.9 329.3 478.5z"/><path fill="#41e0cf" d="M329.6 478.7L335.6 468.2 329.2 462 323.3 472.5z"/><path fill="#48e0c1" d="M341.3 474.6L347.3 464.3 340.9 458.1 334.9 468.4z"/><path fill="#48dfbe" d="M335.3 468.6L341.2 458.4 334.8 452.2 328.9 462.5z"/><path class="m" stroke="#014640" d="M330 494.7 338.5 479.3 347 464.4 340.9 458.5 334.9 452.6 326.4 467.4 318 482.7 324 488.7z"/><path fill="#91e882" d="M381.1 411L387.1 402.5 380.6 396.4 374.6 404.9z"/><path fill="#94e881" d="M374.9 405.2L380.9 396.7 374.4 390.7 368.4 399.2z"/><path fill="#a1eb80" d="M386.8 402.9L392.8 394.7 386.2 388.6 380.2 396.8z"/><path fill="#a5eb7f" d="M380.6 397.1L386.6 388.9 380 382.9 374 391.1z"/><path fill="#b2ee7f" d="M392.5 395.1L398.5 387.1 391.9 381.1 385.9 389z"/><path fill="#b7ef7e" d="M386.3 389.3L392.2 381.4 385.7 375.4 379.7 383.3z"/><path class="m" stroke="#254a13" d="M381.1 410.6 389.6 398.6 398.2 387.2 391.9 381.4 385.7 375.8 377.2 387.1 368.7 399.1 374.9 404.8z"/><path fill="#48aefa" d="M313.1 527.5L319 516 312.7 509.6 306.8 521.1z"/><path fill="#46b2f9" d="M307.1 521.3L313 509.8 306.7 503.6 300.8 515z"/><path fill="#3ec3f7" d="M318.7 516.4L324.7 505.1 318.3 498.8 312.4 510.1z"/><path fill="#3cc6f6" d="M312.7 510.3L318.6 499.1 312.3 492.8 306.4 504.1z"/><path fill="#39d3f0" d="M324.3 505.6L330.3 494.6 323.9 488.3 318 499.3z"/><path fill="#39d4ed" d="M318.3 499.5L324.3 488.5 318 482.3 312 493.3z"/><path class="m" stroke="#033c51" d="M313.1 527.1 321.5 510.7 330 494.7 324 488.7 318 482.7 309.6 498.5 301.2 514.9 307.1 521z"/><path fill="#c2f17d" d="M398.2 387.5L404.2 379.8 397.5 373.8 391.6 381.5z"/><path fill="#c7f17c" d="M391.9 381.8L397.9 374.1 391.3 368.2 385.3 375.8z"/><path fill="#d1f37c" d="M403.8 380.2L409.8 372.8 403.2 366.8 397.2 374.2z"/><path fill="#d5f47c" d="M397.6 374.5L403.6 367.1 397 361.2 391 368.5z"/><path fill="#dbf37d" d="M409.5 373.2L415.5 366 408.8 360 402.9 367.2z"/><path fill="#ddf27c" d="M403.2 367.5L409.2 360.3 402.6 354.4 396.6 361.5z"/><path class="m" stroke="#3d4e0e" d="M398.2 387.2 406.7 376.3 415.2 366 408.9 360.4 402.6 354.8 394.2 365 385.7 375.8 391.9 381.4z"/><path fill="#ffce49" d="M538.1 330.2L543.9 327.3 536.8 321.1 531 323.9z"/><path fill="#ffc948" d="M531.4 324.4L537.2 321.5 530.1 315.4 524.4 318.2z"/><path fill="#ffcb42" d="M543.6 327.5L549.3 324.9 542.2 318.7 536.5 321.3z"/><path fill="#ffc542" d="M536.9 321.8L542.6 319.2 535.5 313.1 529.8 315.6z"/><path fill="#ffc83c" d="M549 325.2L554.7 322.8 547.5 316.7 541.9 319z"/><path fill="#ffc23b" d="M542.3 319.4L547.9 317.1 540.9 311 535.2 313.3z"/><path class="m" stroke="#543e06" d="M538.1 329.8 546.2 326 554.3 322.7 547.6 317 540.9 311.3 532.8 314.5 524.7 318.3 531.4 324z"/><path fill="#fde678" d="M461.8 342.5L467.7 337.2 460.9 331.2 455 336.5z"/><path fill="#fde477" d="M455.3 336.8L461.3 331.6 454.4 325.6 448.5 330.9z"/><path fill="#fde274" d="M467.4 337.6L473.3 332.5 466.4 326.5 460.6 331.5z"/><path fill="#fedf74" d="M460.9 331.9L466.8 326.9 460 321 454.1 326z"/><path fill="#fedd70" d="M473 332.9L478.9 328.1 472 322.1 466.1 326.8z"/><path fill="#fedb70" d="M466.5 327.2L472.4 322.5 465.6 316.6 459.7 321.3z"/><path class="m" stroke="#534308" d="M461.8 342.2 470.2 334.8 478.5 328.1 472 322.5 465.6 316.9 457.3 323.6 448.9 330.9 455.3 336.5z"/><path fill="#e3f17d" d="M415.2 366.4L421.2 359.5 414.5 353.5 408.5 360.4z"/><path fill="#e5f07d" d="M408.9 360.7L414.8 353.9 408.2 348 402.2 354.8z"/><path fill="#eaef7d" d="M420.8 359.9L426.8 353.2 420.1 347.3 414.1 353.9z"/><path fill="#ecee7d" d="M414.5 354.2L420.5 347.6 413.8 341.8 407.9 348.3z"/><path fill="#f0ee7d" d="M426.5 353.6L432.4 347.3 425.7 341.3 419.8 347.7z"/><path fill="#f3ed7d" d="M420.1 348L426.1 341.7 419.4 335.8 413.5 342.1z"/><path class="m" stroke="#494b0c" d="M415.2 366 423.6 356.4 432.1 347.3 425.7 341.7 419.4 336.2 411 345.2 402.6 354.8 408.9 360.4z"/><path fill="#ffd25c" d="M508.3 328.1L514.1 324.4 507.1 318.3 501.3 322z"/><path fill="#ffcd5b" d="M501.7 322.4L507.5 318.7 500.6 312.7 494.8 316.3z"/><path fill="#ffcd55" d="M513.8 324.7L519.6 321.3 512.6 315.2 506.8 318.6z"/><path fill="#ffc854" d="M507.2 319L513 315.6 506 309.6 500.3 313z"/><path fill="#ffc84e" d="M519.3 321.5L525 318.4 518 312.3 512.3 315.5z"/><path fill="#ffc34e" d="M512.7 315.9L518.4 312.8 511.4 306.8 505.7 309.9z"/><path class="m" stroke="#543c06" d="M508.3 327.7 516.5 322.7 524.7 318.3 518.1 312.7 511.5 307.1 503.3 311.5 495.1 316.4 501.7 322z"/><path fill="#f7ec7c" d="M432.1 347.6L438 341.5 431.3 335.6 425.4 341.7z"/><path fill="#f9eb7c" d="M425.8 342L431.7 336 425 330.1 419.1 336.2z"/><path fill="#fcea7b" d="M437.7 341.9L443.7 336.1 436.9 330.2 431 336z"/><path fill="#fce87b" d="M431.4 336.3L437.3 330.5 430.6 324.7 424.7 330.5z"/><path fill="#fde679" d="M443.3 336.4L449.2 330.9 442.5 325 436.6 330.5z"/><path fill="#fde479" d="M437 330.9L442.9 325.4 436.2 319.6 430.3 325z"/><path class="m" stroke="#53480a" d="M432.1 347.3 440.5 338.8 448.9 330.9 442.5 325.4 436.2 319.9 427.8 327.7 419.4 336.2 425.7 341.7z"/><path fill="#50dfab" d="M334.9 452.9L340.8 442.9 334.5 436.9 328.5 446.9z"/><path fill="#51dfa7" d="M328.9 447.1L334.8 437.1 328.5 431.2 322.5 441.1z"/><path fill="#57df9c" d="M340.5 443.4L346.5 433.6 340.1 427.6 334.1 437.3z"/><path fill="#58df99" d="M334.5 437.6L340.4 427.9 334.1 421.9 328.1 431.6z"/><path fill="#5edf8f" d="M346.1 434.1L352.1 424.6 345.7 418.6 339.8 428.1z"/><path fill="#5fdf8b" d="M340.1 428.3L346.1 418.9 339.7 412.9 333.7 422.4z"/><path class="m" stroke="#084626" d="M334.9 452.6 343.3 438.4 351.8 424.7 345.7 419 339.7 413.3 331.3 426.9 322.9 441 328.8 446.8z"/><path fill="#fed96c" d="M478.6 328.4L484.4 324 477.5 318 471.7 322.4z"/><path fill="#ffd76b" d="M472.1 322.8L477.9 318.4 471.1 312.5 465.2 316.9z"/><path fill="#ffd566" d="M484.1 324.3L489.9 320.1 483.1 314.1 477.2 318.3z"/><path fill="#ffd166" d="M477.6 318.7L483.4 314.5 476.6 308.6 470.8 312.8z"/><path fill="#ffcf61" d="M489.6 320.4L495.5 316.5 488.6 310.5 482.7 314.4z"/><path fill="#ffca60" d="M483.1 314.8L488.9 310.9 482.1 305 476.3 308.9z"/><path class="m" stroke="#543e06" d="M478.5 328.1 486.8 321.9 495.1 316.4 488.6 310.8 482.1 305.4 473.9 310.8 465.6 316.9 472 322.5z"/><path fill="#6be188" d="M351.8 425.1L357.8 415.8 351.3 409.8 345.4 419z"/><path fill="#6ee287" d="M345.7 419.3L351.7 410.1 345.3 404.2 339.4 413.4z"/><path fill="#7be485" d="M357.4 416.3L363.4 407.3 357 401.3 351 410.3z"/><path fill="#7ee483" d="M351.4 410.5L357.3 401.6 350.9 395.7 345 404.6z"/><path fill="#8ae782" d="M363.1 407.7L369.1 399 362.6 393.1 356.6 401.8z"/><path fill="#8de781" d="M357 402L363 393.3 356.5 387.5 350.6 396.1z"/><path class="m" stroke="#154719" d="M351.8 424.7 360.3 411.6 368.7 399.1 362.6 393.4 356.5 387.8 348.1 400.3 339.7 413.3 345.7 419z"/><path fill="#3bdedc" d="M318 483L323.9 472.3 317.6 466.2 311.7 476.9z"/><path fill="#3ce0d9" d="M312 477.1L317.9 466.4 311.7 460.3 305.8 471z"/><path fill="#42dfcb" d="M323.6 472.7L329.5 462.3 323.2 456.2 317.3 466.6z"/><path fill="#43dfc7" d="M317.6 466.9L323.6 456.4 317.3 450.4 311.4 460.8z"/><path fill="#49dfba" d="M329.2 462.7L335.2 452.5 328.8 446.4 322.9 456.6z"/><path fill="#4adfb7" d="M323.2 456.9L329.2 446.6 322.9 440.6 316.9 450.8z"/><path class="m" stroke="#02463d" d="M318 482.7 326.4 467.4 334.9 452.6 328.8 446.8 322.9 441 314.5 455.7 306.1 470.9 312 476.8z"/><path fill="#98e97f" d="M368.8 399.4L374.7 391 368.2 385.1 362.3 393.5z"/><path fill="#9cea7e" d="M362.6 393.8L368.6 385.3 362.1 379.5 356.2 387.9z"/><path fill="#aaec7e" d="M374.4 391.4L380.4 383.2 373.9 377.3 367.9 385.5z"/><path fill="#aeed7d" d="M368.3 385.8L374.2 377.6 367.8 371.8 361.8 379.9z"/><path fill="#bbef7d" d="M380.1 383.6L386 375.7 379.5 369.8 373.5 377.7z"/><path fill="#bff07c" d="M373.9 378L379.9 370.1 373.4 364.3 367.4 372.2z"/><path class="m" stroke="#2a4b12" d="M368.7 399.1 377.2 387.1 385.7 375.8 379.5 370.2 373.4 364.6 365 375.9 356.5 387.8 362.6 393.4z"/><path fill="#ffc636" d="M554.4 323.1L560 321 552.9 314.9 547.3 316.9z"/><path fill="#ffc035" d="M547.7 317.4L553.3 315.3 546.2 309.2 540.6 311.2z"/><path fill="#ffc531" d="M559.7 321.3L565.3 319.5 558.2 313.3 552.6 315.1z"/><path fill="#ffbf30" d="M553 315.5L558.6 313.8 551.5 307.7 545.9 309.4z"/><path fill="#ffc52c" d="M565.1 319.7L570.6 318.2 563.5 312 557.9 313.5z"/><path fill="#ffbf2b" d="M558.3 314L563.9 312.5 556.8 306.4 551.2 307.9z"/><path class="m" stroke="#543d06" d="M554.3 322.7 562.3 320.1 570.3 318 563.6 312.4 556.9 306.7 548.9 308.7 540.9 311.3 547.6 317z"/><path fill="#43b5f9" d="M301.2 515.3L307.1 503.8 300.8 497.6 295 509z"/><path fill="#41b9f8" d="M295.3 509.3L301.2 497.8 295 491.7 289.1 503.1z"/><path fill="#3acaf6" d="M306.8 504.3L312.7 493 306.4 486.9 300.5 498.1z"/><path fill="#38cdf5" d="M300.9 498.3L306.7 487.1 300.5 481 294.7 492.2z"/><path fill="#39d6eb" d="M312.4 493.5L318.3 482.5 312 476.4 306.1 487.4z"/><path fill="#39d7e8" d="M306.4 487.6L312.3 476.6 306.1 470.6 300.2 481.5z"/><path class="m" stroke="#013e50" d="M301.2 514.9 309.6 498.5 318 482.7 312 476.8 306.1 470.9 297.8 486.7 289.4 503 295.3 508.9z"/><path fill="#cbf27b" d="M385.7 376.1L391.7 368.5 385.1 362.6 379.2 370.2z"/><path fill="#cff37a" d="M379.5 370.5L385.5 362.9 379 357.1 373 364.7z"/><path fill="#d8f37b" d="M391.3 368.9L397.3 361.5 390.8 355.6 384.8 363z"/><path fill="#daf27b" d="M385.2 363.3L391.1 355.9 384.6 350.1 378.7 357.5z"/><path fill="#e0f17c" d="M397 361.9L402.9 354.7 396.4 348.9 390.4 356z"/><path fill="#e3f07b" d="M390.8 356.3L396.7 349.2 390.2 343.4 384.3 350.5z"/><path class="m" stroke="#404e0d" d="M385.7 375.8 394.2 365 402.6 354.8 396.4 349.3 390.2 343.8 381.8 353.9 373.4 364.6 379.5 370.2z"/><path fill="#ffc347" d="M524.8 318.7L530.5 315.8 523.5 309.8 517.7 312.6z"/><path fill="#ffbe47" d="M518.1 313L523.8 310.2 516.9 304.2 511.2 307z"/><path fill="#ffbf41" d="M530.2 316.1L535.9 313.5 528.8 307.5 523.2 310z"/><path fill="#ffba40" d="M523.6 310.5L529.2 307.9 522.2 301.9 516.6 304.5z"/><path fill="#ffbc3a" d="M535.6 313.8L541.2 311.4 534.2 305.4 528.6 307.7z"/><path fill="#ffb639" d="M529 308.1L534.6 305.8 527.6 299.9 522 302.2z"/><path class="m" stroke="#543906" d="M524.7 318.3 532.8 314.5 540.9 311.3 534.3 305.7 527.7 300.2 519.6 303.4 511.5 307.1 518.1 312.7z"/><path fill="#fee177" d="M448.9 331.3L454.8 326 448.1 320.1 442.2 325.4z"/><path fill="#fedf76" d="M442.5 325.7L448.4 320.5 441.7 314.7 435.8 319.9z"/><path fill="#fedd73" d="M454.5 326.3L460.4 321.3 453.6 315.5 447.7 320.4z"/><path fill="#ffdb73" d="M448.1 320.8L454 315.9 447.3 310 441.4 315z"/><path fill="#ffd96f" d="M460.1 321.7L465.9 317 459.1 311.1 453.3 315.8z"/><path fill="#ffd66f" d="M453.7 316.2L459.5 311.5 452.8 305.7 446.9 310.4z"/><path class="m" stroke="#544107" d="M448.9 330.9 457.3 323.6 465.6 316.9 459.2 311.5 452.8 306 444.5 312.7 436.2 319.9 442.5 325.4z"/><path fill="#e8ef7c" d="M402.6 355.1L408.6 348.3 402 342.5 396 349.3z"/><path fill="#eaef7c" d="M396.4 349.6L402.3 342.8 395.8 337 389.9 343.8z"/><path fill="#efee7c" d="M408.2 348.7L414.2 342.1 407.6 336.3 401.6 342.8z"/><path fill="#f2ed7c" d="M402 343.2L407.9 336.6 401.4 330.9 395.5 337.4z"/><path fill="#f6ec7c" d="M413.9 342.4L419.8 336.1 413.2 330.3 407.2 336.6z"/><path fill="#f8ec7c" d="M407.6 337L413.5 330.7 406.9 324.9 401 331.2z"/><path class="m" stroke="#4c4a0b" d="M402.6 354.8 411 345.2 419.4 336.2 413.2 330.7 407 325.3 398.6 334.3 390.2 343.8 396.4 349.3z"/><path fill="#ffc95a" d="M495.2 316.7L500.9 313.1 494 307.2 488.2 310.8z"/><path fill="#ffc45a" d="M488.6 311.2L494.4 307.6 487.5 301.7 481.8 305.3z"/><path fill="#ffc354" d="M500.6 313.4L506.4 310 499.5 304.1 493.7 307.4z"/><path fill="#ffbe53" d="M494.1 307.8L499.9 304.5 493 298.6 487.2 302z"/><path fill="#ffbd4d" d="M506.1 310.3L511.8 307.2 504.9 301.3 499.2 304.3z"/><path fill="#ffb84c" d="M499.6 304.8L505.3 301.7 498.4 295.8 492.7 298.9z"/><path class="m" stroke="#543705" d="M495.1 316.4 503.3 311.5 511.5 307.1 505 301.6 498.5 296.2 490.3 300.5 482.1 305.4 488.6 310.8z"/><path fill="#fceb7c" d="M419.5 336.5L425.4 330.5 418.7 324.7 412.8 330.7z"/><path fill="#fce97b" d="M413.2 331L419.1 325 412.5 319.3 406.6 325.3z"/><path fill="#fde67a" d="M425.1 330.8L431 325.1 424.3 319.3 418.4 325z"/><path fill="#fde479" d="M418.8 325.4L424.7 319.6 418.1 313.9 412.2 319.7z"/><path fill="#fee178" d="M430.6 325.4L436.5 319.9 429.9 314.2 424 319.6z"/><path fill="#fedf77" d="M424.4 320L430.2 314.5 423.6 308.8 417.7 314.3z"/><path class="m" stroke="#534509" d="M419.4 336.2 427.8 327.7 436.2 319.9 429.9 314.5 423.6 309.2 415.3 316.9 407 325.3 413.2 330.7z"/><path fill="#ffd36b" d="M465.6 317.3L471.5 312.8 464.7 307 458.8 311.4z"/><path fill="#ffcf6a" d="M459.2 311.8L465 307.4 458.3 301.6 452.5 306z"/><path fill="#ffcc65" d="M471.1 313.2L477 309 470.2 303.2 464.3 307.3z"/><path fill="#ffc865" d="M464.7 307.7L470.5 303.5 463.8 297.8 458 301.9z"/><path fill="#ffc660" d="M476.7 309.3L482.5 305.4 475.6 299.6 469.8 303.4z"/><path fill="#ffc15f" d="M470.2 303.9L476 300 469.2 294.2 463.5 298.1z"/><path class="m" stroke="#543906" d="M465.6 316.9 473.9 310.8 482.1 305.4 475.7 299.9 469.3 294.6 461.1 300 452.8 306 459.2 311.5z"/><path fill="#52dfa4" d="M322.9 441.3L328.8 431.4 322.5 425.5 316.6 435.4z"/><path fill="#53dfa0" d="M316.9 435.6L322.9 425.7 316.6 419.9 310.7 429.8z"/><path fill="#59df95" d="M328.5 431.9L334.4 422.2 328.1 416.3 322.2 425.9z"/><path fill="#5adf92" d="M322.5 426.2L328.4 416.5 322.2 410.7 316.3 420.3z"/><path fill="#60df89" d="M334.1 422.6L340 413.2 333.7 407.3 327.8 416.7z"/><path fill="#64e088" d="M328.1 417L334 407.6 327.8 401.8 321.8 411.1z"/><path class="m" stroke="#084523" d="M322.9 441 331.3 426.9 339.7 413.3 333.7 407.7 327.8 402.1 319.4 415.6 311 429.7 316.9 435.3z"/><path fill="#71e285" d="M339.7 413.6L345.6 404.4 339.3 398.6 333.4 407.8z"/><path fill="#74e384" d="M333.7 408L339.6 398.9 333.3 393.1 327.4 402.2z"/><path fill="#81e582" d="M345.3 404.9L351.3 396 344.9 390.1 339 399z"/><path fill="#84e581" d="M339.3 399.3L345.2 390.4 338.9 384.6 333 393.5z"/><path fill="#90e87f" d="M350.9 396.4L356.9 387.7 350.5 381.9 344.6 390.6z"/><path fill="#93e87e" d="M344.9 390.8L350.8 382.2 344.5 376.5 338.6 385.1z"/><path class="m" stroke="#184818" d="M339.7 413.3 348.1 400.3 356.5 387.8 350.5 382.3 344.5 376.8 336.1 389.2 327.8 402.1 333.7 407.7z"/><path fill="#3ddfd6" d="M306.1 471.3L312 460.6 305.8 454.6 299.9 465.2z"/><path fill="#3ddfd2" d="M300.2 465.5L306.1 454.8 299.9 448.9 294.1 459.5z"/><path fill="#44dfc4" d="M311.7 461L317.6 450.6 311.4 444.6 305.5 455.1z"/><path fill="#45dfc1" d="M305.8 455.3L311.7 444.9 305.5 439 299.6 449.4z"/><path fill="#4bdfb3" d="M317.3 451.1L323.2 440.9 316.9 434.9 311 445.1z"/><path fill="#4cdfb0" d="M311.4 445.3L317.3 435.2 311 429.3 305.2 439.5z"/><path class="m" stroke="#03463a" d="M306.1 470.9 314.5 455.7 322.9 441 316.9 435.3 311 429.7 302.7 444.3 294.4 459.4 300.2 465.1z"/><path fill="#ffc528" d="M570.4 318.4L575.9 317.1 568.7 311 563.2 312.2z"/><path fill="#ffc027" d="M563.6 312.7L569.1 311.4 562 305.4 556.5 306.6z"/><path fill="#fec625" d="M575.6 317.3L581.1 316.4 574 310.2 568.5 311.2z"/><path fill="#ffc224" d="M568.9 311.7L574.4 310.7 567.3 304.6 561.8 305.6z"/><path fill="#fec823" d="M580.9 316.6L586.3 315.8 579.1 309.7 573.7 310.4z"/><path fill="#ffc421" d="M574.1 310.9L579.5 310.2 572.4 304.1 567 304.8z"/><path class="m" stroke="#543f07" d="M570.3 318 578.2 316.6 586 315.7 579.2 310 572.5 304.4 564.7 305.3 556.9 306.7 563.6 312.4z"/><path fill="#a0eb7d" d="M356.6 388.2L362.5 379.8 356.1 374 350.2 382.3z"/><path fill="#a5eb7c" d="M350.5 382.6L356.4 374.2 350.1 368.5 344.2 376.9z"/><path fill="#b3ee7c" d="M362.2 380.2L368.1 372 361.7 366.3 355.8 374.4z"/><path fill="#b7ef7b" d="M356.1 374.7L362 366.6 355.7 360.8 349.7 368.9z"/><path fill="#c4f17b" d="M367.8 372.5L373.7 364.6 367.3 358.8 361.4 366.7z"/><path fill="#c8f27a" d="M361.7 367L367.6 359.1 361.2 353.4 355.3 361.3z"/><path class="m" stroke="#2f4c11" d="M356.5 387.8 365 375.9 373.4 364.6 367.3 359.2 361.3 353.8 352.9 365 344.5 376.8 350.5 382.3z"/><path fill="#ffba34" d="M541 311.7L546.6 309.6 539.5 303.6 533.9 305.6z"/><path fill="#ffb433" d="M534.3 306.1L539.9 304.1 532.9 298.1 527.3 300.1z"/><path fill="#ffb82f" d="M546.3 309.9L551.9 308.1 544.8 302.1 539.3 303.8z"/><path fill="#ffb22e" d="M539.7 304.3L545.2 302.5 538.2 296.6 532.7 298.3z"/><path fill="#ffb82a" d="M551.6 308.3L557.2 306.8 550.1 300.8 544.6 302.3z"/><path fill="#ffb229" d="M545 302.8L550.5 301.3 543.5 295.3 538 296.8z"/><path class="m" stroke="#543806" d="M540.9 311.3 548.9 308.7 556.9 306.7 550.2 301.2 543.6 295.7 535.7 297.7 527.7 300.2 534.3 305.7z"/><path fill="#3fbcf8" d="M289.4 503.3L295.3 491.9 289.1 485.8 283.3 497.2z"/><path fill="#3dbff7" d="M283.6 497.4L289.5 486.1 283.4 480.1 277.5 491.4z"/><path fill="#36d0f4" d="M295 492.4L300.9 481.2 294.7 475.2 288.8 486.3z"/><path fill="#36d1f2" d="M289.2 486.5L295 475.4 288.9 469.4 283 480.6z"/><path fill="#39d9e5" d="M300.5 481.7L306.4 470.8 300.2 464.8 294.4 475.7z"/><path fill="#39dae2" d="M294.7 475.9L300.6 465 294.4 459.1 288.6 469.9z"/><path class="m" stroke="#00414f" d="M289.4 503 297.8 486.7 306.1 470.9 300.2 465.1 294.4 459.4 286.1 475.1 277.9 491.3 283.6 497.1z"/><path fill="#d4f479" d="M373.4 365L379.3 357.4 372.9 351.6 367 359.2z"/><path fill="#d6f379" d="M367.3 359.5L373.2 351.9 366.8 346.3 360.9 353.8z"/><path fill="#ddf27a" d="M379 357.8L385 350.4 378.5 344.7 372.5 352z"/><path fill="#dff17a" d="M372.9 352.3L378.8 345 372.4 339.4 366.5 346.7z"/><path fill="#e5f07b" d="M384.6 350.8L390.6 343.8 384.1 338.1 378.1 345.1z"/><path fill="#e8ef7a" d="M378.5 345.4L384.4 338.4 378 332.7 372.1 339.8z"/><path class="m" stroke="#434d0d" d="M373.4 364.6 381.8 353.9 390.2 343.8 384.1 338.4 378 333.1 369.6 343.1 361.3 353.8 367.3 359.2z"/><path fill="#ffb846" d="M511.5 307.5L517.3 304.6 510.3 298.7 504.6 301.5z"/><path fill="#ffb145" d="M505 302L510.7 299.1 503.8 293.3 498.1 296.1z"/><path fill="#ffb43f" d="M517 304.9L522.6 302.3 515.7 296.4 510 299z"/><path fill="#ffab3f" d="M510.4 299.4L516.1 296.9 509.2 291 503.5 293.5z"/><path fill="#ffb039" d="M522.4 302.6L528 300.3 521 294.4 515.4 296.7z"/><path fill="#ffa638" d="M515.8 297.1L521.4 294.8 514.5 289 508.9 291.3z"/><path class="m" stroke="#543405" d="M511.5 307.1 519.6 303.4 527.7 300.2 521.1 294.7 514.6 289.3 506.5 292.5 498.5 296.2 505 301.6z"/><path fill="#fedd75" d="M436.2 320.3L442.1 315 435.4 309.3 429.5 314.5z"/><path fill="#ffdb75" d="M429.9 314.9L435.8 309.7 429.1 304 423.3 309.2z"/><path fill="#ffd872" d="M441.8 315.4L447.6 310.4 440.9 304.7 435.1 309.6z"/><path fill="#ffd571" d="M435.5 310L441.3 305.1 434.7 299.4 428.8 304.3z"/><path fill="#ffd26e" d="M447.3 310.7L453.2 306.1 446.5 300.3 440.6 305z"/><path fill="#ffce6e" d="M441 305.4L446.8 300.7 440.2 295.1 434.3 299.7z"/><path class="m" stroke="#543e07" d="M436.2 319.9 444.5 312.7 452.8 306 446.5 300.7 440.2 295.4 431.9 302 423.6 309.2 429.9 314.5z"/><path fill="#edee7b" d="M390.2 344.1L396.2 337.3 389.6 331.6 383.7 338.4z"/><path fill="#efed7b" d="M384.1 338.8L390 332 383.5 326.3 377.6 333.1z"/><path fill="#f4ec7b" d="M395.8 337.7L401.7 331.2 395.2 325.5 389.3 332z"/><path fill="#f6ec7b" d="M389.7 332.3L395.6 325.8 389.1 320.2 383.2 326.7z"/><path fill="#fbeb7b" d="M401.4 331.6L407.3 325.3 400.8 319.6 394.9 325.9z"/><path fill="#fcea7b" d="M395.2 326.2L401.1 319.9 394.6 314.4 388.8 320.6z"/><path class="m" stroke="#4f4a0b" d="M390.2 343.8 398.6 334.3 407 325.3 400.8 320 394.7 314.7 386.3 323.6 378 333.1 384.1 338.4z"/><path fill="#ffbf59" d="M482.1 305.7L487.9 302.1 481.1 296.3 475.3 299.9z"/><path fill="#ffb959" d="M475.7 300.3L481.5 296.7 474.7 290.9 468.9 294.5z"/><path fill="#ffb853" d="M487.6 302.4L493.4 299 486.5 293.2 480.8 296.5z"/><path fill="#ffaf52" d="M481.2 297L486.9 293.6 480.1 287.9 474.4 291.2z"/><path fill="#ffaf4c" d="M493.1 299.3L498.8 296.2 491.9 290.4 486.2 293.5z"/><path fill="#ffa74b" d="M486.6 293.9L492.3 290.9 485.5 285.1 479.8 288.2z"/><path class="m" stroke="#543205" d="M482.1 305.4 490.3 300.5 498.5 296.2 492 290.8 485.6 285.5 477.4 289.7 469.3 294.6 475.7 299.9z"/><path fill="#fde77a" d="M407 325.6L412.9 319.6 406.3 314 400.4 320z"/><path fill="#fde57a" d="M400.8 320.3L406.7 314.3 400.2 308.8 394.3 314.7z"/><path fill="#fee279" d="M412.6 320L418.4 314.3 411.9 308.6 406 314.3z"/><path fill="#fee078" d="M406.4 314.7L412.2 309 405.7 303.4 399.8 309.1z"/><path fill="#fedd77" d="M418.1 314.6L424 309.2 417.4 303.5 411.5 309z"/><path fill="#ffdb76" d="M411.9 309.3L417.8 303.9 411.2 298.3 405.4 303.8z"/><path class="m" stroke="#534308" d="M407 325.3 415.3 316.9 423.6 309.2 417.4 303.9 411.3 298.7 403 306.4 394.7 314.7 400.8 320z"/><path fill="#ffcb6a" d="M452.8 306.4L458.7 302 451.9 296.3 446.1 300.7z"/><path fill="#ffc769" d="M446.5 301L452.3 296.7 445.7 291 439.8 295.4z"/><path fill="#ffc464" d="M458.3 302.3L464.2 298.2 457.4 292.5 451.6 296.6z"/><path fill="#ffbf64" d="M452 297L457.8 292.9 451.1 287.2 445.3 291.3z"/><path fill="#ffbb5f" d="M463.8 298.5L469.6 294.6 462.9 288.9 457.1 292.8z"/><path fill="#ffb45e" d="M457.5 293.2L463.3 289.3 456.6 283.7 450.8 287.5z"/><path class="m" stroke="#543505" d="M452.8 306 461.1 300 469.3 294.6 462.9 289.3 456.6 284 448.4 289.4 440.2 295.4 446.5 300.7z"/><path fill="#54df9d" d="M311.1 430L316.9 420.1 310.7 414.3 304.9 424.2z"/><path fill="#54df9a" d="M305.2 424.4L311.1 414.6 304.9 408.9 299.1 418.7z"/><path fill="#5adf8f" d="M316.6 420.6L322.5 410.9 316.3 405.2 310.4 414.8z"/><path fill="#5bdf8c" d="M310.7 415L316.6 405.4 310.4 399.7 304.6 409.3z"/><path fill="#67e086" d="M322.2 411.4L328.1 402 321.8 396.3 316 405.6z"/><path fill="#6ae185" d="M316.3 405.9L322.2 396.5 316 390.9 310.1 400.2z"/><path class="m" stroke="#094520" d="M311 429.7 319.4 415.6 327.8 402.1 321.9 396.6 316 391.2 307.7 404.6 299.4 418.6 305.2 424.1z"/><path fill="#77e383" d="M327.8 402.5L333.7 393.3 327.4 387.6 321.5 396.7z"/><path fill="#7ae482" d="M321.9 397L327.7 387.9 321.5 382.2 315.6 391.3z"/><path fill="#87e680" d="M333.3 393.8L339.3 384.9 333 379.2 327.1 388.1z"/><path fill="#8ae67f" d="M327.4 388.3L333.3 379.5 327.1 373.8 321.2 382.7z"/><path fill="#96e97d" d="M338.9 385.3L344.8 376.7 338.5 371 332.6 379.6z"/><path fill="#9ae97c" d="M333 379.9L338.9 371.3 332.6 365.7 326.7 374.3z"/><path class="m" stroke="#1b4817" d="M327.8 402.1 336.1 389.2 344.5 376.8 338.5 371.4 332.6 366.1 324.3 378.4 316 391.2 321.9 396.6z"/><path fill="#3edfcf" d="M294.4 459.8L300.3 449.1 294.1 443.3 288.3 453.9z"/><path fill="#3fdfcc" d="M288.6 454.1L294.5 443.5 288.4 437.7 282.5 448.3z"/><path fill="#45dfbd" d="M299.9 449.6L305.8 439.2 299.7 433.4 293.8 443.8z"/><path fill="#46dfba" d="M294.1 444L300 433.6 293.9 427.9 288 438.2z"/><path fill="#4ddfad" d="M305.5 439.7L311.4 429.5 305.2 423.7 299.3 433.9z"/><path fill="#4ddfa9" d="M299.7 434.1L305.5 424 299.4 418.2 293.5 428.3z"/><path class="m" stroke="#034637" d="M294.4 459.4 302.7 444.3 311 429.7 305.2 424.1 299.4 418.6 291.1 433.1 282.9 448.2 288.6 453.8z"/><path fill="#ffb926" d="M556.9 307.1L562.4 305.8 555.4 299.8 549.9 301z"/><path fill="#ffb225" d="M550.3 301.5L555.8 300.3 548.8 294.3 543.3 295.5z"/><path fill="#ffbb23" d="M562.2 306.1L567.7 305.1 560.6 299.1 555.1 300z"/><path fill="#ffb422" d="M555.5 300.5L561 299.5 554 293.6 548.5 294.5z"/><path fill="#ffbe20" d="M567.4 305.3L572.8 304.6 565.8 298.6 560.3 299.3z"/><path fill="#ffb71f" d="M560.7 299.8L566.2 299.1 559.1 293.1 553.7 293.8z"/><path class="m" stroke="#543b06" d="M556.9 306.7 564.7 305.3 572.5 304.4 565.9 298.9 559.2 293.5 551.4 294.3 543.6 295.7 550.2 301.2z"/><path fill="#fdca21" d="M586.1 316L591.5 315.6 584.3 309.4 578.9 309.9z"/><path fill="#fec620" d="M579.3 310.4L584.7 309.9 577.6 303.9 572.2 304.3z"/><path fill="#fdcd20" d="M591.2 315.8L596.6 315.6 589.4 309.4 584.1 309.6z"/><path fill="#fec91f" d="M584.5 310.1L589.8 309.9 582.7 303.9 577.4 304z"/><path fill="#fcd120" d="M596.4 315.7L601.7 315.8 594.5 309.7 589.2 309.6z"/><path fill="#fdcd1e" d="M589.6 310.1L594.9 310.2 587.8 304.1 582.5 304z"/><path class="m" stroke="#544208" d="M586 315.7 593.7 315.4 601.3 315.7 594.6 310 587.9 304.5 580.2 304.2 572.5 304.4 579.2 310z"/><path fill="#a9ec7b" d="M344.5 377.2L350.4 368.8 344.1 363.1 338.2 371.5z"/><path fill="#aded7a" d="M338.6 371.7L344.5 363.4 338.2 357.8 332.3 366.1z"/><path fill="#bbef7a" d="M350.1 369.2L356 361.1 349.7 355.5 343.8 363.6z"/><path fill="#bff079" d="M344.1 363.8L350 355.8 343.7 350.2 337.8 358.2z"/><path fill="#ccf279" d="M355.7 361.5L361.6 353.7 355.2 348.1 349.3 355.9z"/><path fill="#d0f378" d="M349.7 356.2L355.6 348.4 349.3 342.8 343.4 350.6z"/><path class="m" stroke="#334c10" d="M344.5 376.8 352.9 365 361.3 353.8 355.2 348.4 349.3 343.2 340.9 354.3 332.6 366.1 338.5 371.4z"/><path fill="#ffad32" d="M527.7 300.6L533.3 298.5 526.4 292.6 520.8 294.6z"/><path fill="#ffa332" d="M521.2 295.1L526.8 293.1 519.8 287.2 514.2 289.2z"/><path fill="#ffac2d" d="M533.1 298.8L538.6 297 531.7 291.1 526.1 292.9z"/><path fill="#ffa12c" d="M526.5 293.3L532.1 291.6 525.1 285.8 519.6 287.5z"/><path fill="#ffab28" d="M538.4 297.3L543.9 295.8 536.9 289.9 531.4 291.4z"/><path fill="#ffa127" d="M531.8 291.8L537.3 290.4 530.4 284.5 524.9 286z"/><path class="m" stroke="#543305" d="M527.7 300.2 535.7 297.7 543.6 295.7 537 290.2 530.5 284.9 522.6 286.8 514.6 289.3 521.1 294.7z"/><path fill="#3bc3f7" d="M277.9 491.6L283.7 480.3 277.6 474.4 271.8 485.7z"/><path fill="#3ac6f6" d="M272.1 485.9L277.9 474.6 271.9 468.7 266.1 480z"/><path fill="#36d3ef" d="M283.4 480.8L289.2 469.7 283.1 463.8 277.3 474.9z"/><path fill="#36d4ec" d="M277.6 475.1L283.4 464 277.4 458.2 271.6 469.2z"/><path fill="#39dce0" d="M288.9 470.1L294.7 459.3 288.6 453.4 282.8 464.3z"/><path fill="#39dddd" d="M283.1 464.5L288.9 453.6 282.9 447.8 277 458.6z"/><path class="m" stroke="#00424d" d="M277.9 491.3 286.1 475.1 294.4 459.4 288.6 453.8 282.9 448.2 274.6 463.8 266.4 479.9 272.1 485.5z"/><path fill="#d9f279" d="M361.3 354.1L367.2 346.6 360.8 341 354.9 348.5z"/><path fill="#dbf278" d="M355.3 348.8L361.2 341.3 354.8 335.7 348.9 343.2z"/><path fill="#e2f079" d="M366.8 347L372.8 339.7 366.4 334.1 360.5 341.4z"/><path fill="#e4f079" d="M360.8 341.7L366.7 334.4 360.4 328.9 354.5 336.1z"/><path fill="#eaef7a" d="M372.4 340.1L378.3 333 371.9 327.5 366 334.5z"/><path fill="#edee79" d="M366.4 334.8L372.3 327.8 365.9 322.3 360 329.2z"/><path class="m" stroke="#454c0c" d="M361.3 353.8 369.6 343.1 378 333.1 371.9 327.8 365.9 322.6 357.6 332.6 349.3 343.2 355.2 348.4z"/><path fill="#ffa845" d="M498.5 296.5L504.2 293.7 497.3 287.9 491.6 290.7z"/><path fill="#ff9f44" d="M492 291.1L497.7 288.3 490.9 282.6 485.2 285.4z"/><path fill="#ffa13e" d="M503.9 294L509.6 291.4 502.7 285.7 497 288.2z"/><path fill="#ff983d" d="M497.4 288.6L503.1 286.1 496.3 280.4 490.6 282.9z"/><path fill="#ff9c37" d="M509.3 291.7L514.9 289.4 508 283.7 502.4 285.9z"/><path fill="#ff9237" d="M502.8 286.3L508.4 284.1 501.6 278.4 496 280.6z"/><path class="m" stroke="#542b04" d="M498.5 296.2 506.5 292.5 514.6 289.3 508.1 284 501.7 278.7 493.6 281.8 485.6 285.5 492 290.8z"/><path fill="#ffd974" d="M423.7 309.5L429.5 304.3 422.9 298.7 417.1 303.9z"/><path fill="#ffd574" d="M417.4 304.2L423.3 299.1 416.7 293.5 410.9 298.7z"/><path fill="#ffd171" d="M429.2 304.7L435 299.8 428.4 294.2 422.6 299z"/><path fill="#ffce70" d="M423 299.4L428.8 294.5 422.2 289 416.4 293.9z"/><path fill="#ffca6d" d="M434.7 300.1L440.5 295.4 433.9 289.8 428.1 294.5z"/><path fill="#ffc76d" d="M428.5 294.8L434.3 290.2 427.7 284.7 421.9 289.3z"/><path class="m" stroke="#543a06" d="M423.6 309.2 431.9 302 440.2 295.4 433.9 290.2 427.7 285 419.5 291.6 411.3 298.7 417.4 303.9z"/><path fill="#f2ed7a" d="M378 333.4L383.9 326.7 377.5 321.1 371.6 327.8z"/><path fill="#f4ec7a" d="M371.9 328.2L377.8 321.4 371.4 315.9 365.6 322.6z"/><path fill="#f9eb7b" d="M383.6 327L389.5 320.5 383 315 377.1 321.5z"/><path fill="#fbeb7a" d="M377.5 321.8L383.4 315.3 377 309.8 371.1 316.3z"/><path fill="#fde87a" d="M389.1 320.9L395 314.7 388.5 309.1 382.7 315.4z"/><path fill="#fde67a" d="M383 315.7L388.9 309.5 382.5 304 376.6 310.2z"/><path class="m" stroke="#51490a" d="M378 333.1 386.3 323.6 394.7 314.7 388.6 309.5 382.5 304.4 374.2 313.2 365.9 322.6 371.9 327.8z"/><path fill="#ffb158" d="M469.3 294.9L475.1 291.3 468.3 285.6 462.6 289.2z"/><path fill="#ffa958" d="M463 289.6L468.7 286 462 280.4 456.3 284z"/><path fill="#ffa752" d="M474.8 291.6L480.5 288.3 473.7 282.6 468 285.9z"/><path fill="#ff9f51" d="M468.4 286.3L474.1 283 467.4 277.4 461.7 280.7z"/><path fill="#ff9e4b" d="M480.2 288.6L485.9 285.5 479.1 279.9 473.4 282.9z"/><path fill="#ff954a" d="M473.8 283.3L479.5 280.3 472.8 274.7 467.1 277.7z"/><path class="m" stroke="#542a04" d="M469.3 294.6 477.4 289.7 485.6 285.5 479.2 280.2 472.8 275 464.7 279.2 456.6 284 462.9 289.3z"/><path fill="#fde379" d="M394.7 315.1L400.5 309.1 394.1 303.6 388.2 309.5z"/><path fill="#fee179" d="M388.6 309.8L394.4 303.9 388 298.4 382.2 304.4z"/><path fill="#fede78" d="M400.2 309.5L406.1 303.8 399.6 298.2 393.7 303.9z"/><path fill="#ffdc77" d="M394.1 304.3L400 298.6 393.5 293.1 387.7 298.8z"/><path fill="#ffd976" d="M405.7 304.1L411.6 298.7 405.1 293.2 399.3 298.6z"/><path fill="#ffd675" d="M399.6 298.9L405.5 293.5 399 288.1 393.2 293.5z"/><path class="m" stroke="#544107" d="M394.7 314.7 403 306.4 411.3 298.7 405.1 293.5 399 288.5 390.8 296.1 382.5 304.4 388.6 309.5z"/><path fill="#ffc369" d="M440.2 295.8L446 291.4 439.4 285.8 433.6 290.2z"/><path fill="#ffbc68" d="M434 290.5L439.8 286.2 433.2 280.7 427.4 285z"/><path fill="#ffb763" d="M445.7 291.7L451.5 287.6 444.9 282 439.1 286.1z"/><path fill="#ffb063" d="M439.5 286.5L445.2 282.4 438.6 276.9 432.9 281z"/><path fill="#ffac5e" d="M451.2 287.9L457 284.1 450.3 278.5 444.5 282.3z"/><path fill="#ffa55d" d="M444.9 282.7L450.7 278.9 444.1 273.4 438.3 277.2z"/><path class="m" stroke="#542e04" d="M440.2 295.4 448.4 289.4 456.6 284 450.3 278.9 444.1 273.8 435.9 279.1 427.7 285 433.9 290.2z"/><path fill="#55de97" d="M299.4 418.9L305.2 409.1 299.1 403.5 293.3 413.3z"/><path fill="#56de94" d="M293.6 413.5L299.4 403.7 293.4 398.1 287.5 407.9z"/><path fill="#5cde89" d="M304.9 409.6L310.8 400 304.6 394.4 298.8 403.9z"/><path fill="#5edf87" d="M299.1 404.2L305 394.6 298.9 389 293 398.6z"/><path fill="#6de184" d="M310.5 400.4L316.3 391.1 310.1 385.5 304.3 394.8z"/><path fill="#6fe283" d="M304.6 395.1L310.5 385.7 304.4 380.2 298.5 389.5z"/><path class="m" stroke="#0a451e" d="M299.4 418.6 307.7 404.6 316 391.2 310.2 385.9 304.4 380.6 296.1 393.9 287.9 407.8 293.6 413.2z"/><path fill="#7de480" d="M316 391.6L321.9 382.5 315.7 376.9 309.8 386z"/><path fill="#80e57f" d="M310.2 386.2L316 377.1 309.9 371.6 304 380.7z"/><path fill="#8de77d" d="M321.5 382.9L327.4 374.1 321.2 368.5 315.3 377.3z"/><path fill="#8fe77c" d="M315.7 377.6L321.5 368.8 315.4 363.3 309.5 372.1z"/><path fill="#9eea7b" d="M327.1 374.5L333 366 326.7 360.4 320.9 369z"/><path fill="#a2eb7a" d="M321.2 369.2L327.1 360.7 320.9 355.2 315 363.7z"/><path class="m" stroke="#1e4916" d="M316 391.2 324.3 378.4 332.6 366.1 326.7 360.8 320.9 355.6 312.6 367.8 304.4 380.6 310.2 385.9z"/><path fill="#ffac24" d="M543.6 296L549.2 294.8 542.2 288.9 536.7 290.1z"/><path fill="#ffa423" d="M537.1 290.6L542.6 289.4 535.6 283.6 530.1 284.8z"/><path fill="#ffae21" d="M548.9 295L554.4 294.1 547.4 288.2 541.9 289.1z"/><path fill="#ffa71f" d="M542.3 289.6L547.8 288.7 540.8 282.8 535.4 283.8z"/><path fill="#ffb11e" d="M554.1 294.3L559.5 293.6 552.6 287.7 547.1 288.4z"/><path fill="#ffaa1d" d="M547.5 288.9L553 288.2 546 282.4 540.6 283.1z"/><path class="m" stroke="#543605" d="M543.6 295.7 551.4 294.3 559.2 293.5 552.6 288.1 546.1 282.7 538.3 283.5 530.5 284.9 537 290.2z"/><path fill="#ffc21e" d="M572.6 304.8L578 304.3 570.9 298.3 565.5 298.8z"/><path fill="#ffbc1d" d="M565.9 299.3L571.3 298.8 564.3 292.9 558.9 293.3z"/><path fill="#fec51d" d="M577.8 304.5L583.1 304.4 576 298.4 570.7 298.5z"/><path fill="#ffc11c" d="M571.1 299L576.4 298.8 569.4 292.9 564.1 293.1z"/><path fill="#fdc91d" d="M582.9 304.5L588.2 304.6 581.1 298.6 575.8 298.5z"/><path fill="#fec51b" d="M576.2 299L581.5 299.1 574.5 293.2 569.2 293.1z"/><path class="m" stroke="#544007" d="M572.5 304.4 580.2 304.2 587.9 304.5 581.2 299 574.6 293.5 566.9 293.2 559.2 293.5 565.9 298.9z"/><path fill="#40dfc8" d="M282.9 448.5L288.7 437.9 282.6 432.2 276.8 442.8z"/><path fill="#41dfc5" d="M277.1 443L282.9 432.4 276.9 426.8 271.1 437.3z"/><path fill="#47dfb7" d="M288.4 438.4L294.2 428.1 288.1 422.4 282.3 432.7z"/><path fill="#48dfb4" d="M282.6 432.9L288.4 422.6 282.4 417 276.6 427.3z"/><path fill="#4edfa6" d="M293.9 428.6L299.7 418.5 293.6 412.8 287.8 422.9z"/><path fill="#4fdea3" d="M288.1 423.1L293.9 413 287.9 407.4 282.1 417.5z"/><path class="m" stroke="#044634" d="M282.9 448.2 291.1 433.1 299.4 418.6 293.6 413.2 287.9 407.8 279.7 422.2 271.5 437.2 277.1 442.6z"/><path fill="#b1ee79" d="M332.6 366.4L338.5 358.1 332.3 352.6 326.4 360.9z"/><path fill="#b5ee78" d="M326.7 361.1L332.6 352.8 326.4 347.4 320.6 355.6z"/><path fill="#c4f178" d="M338.2 358.5L344.1 350.5 337.8 345 331.9 353z"/><path fill="#c8f177" d="M332.3 353.3L338.2 345.2 331.9 339.8 326.1 347.8z"/><path fill="#d4f377" d="M343.7 350.9L349.6 343.1 343.3 337.6 337.5 345.4z"/><path fill="#d6f376" d="M337.8 345.7L343.7 337.9 337.4 332.5 331.6 340.2z"/><path class="m" stroke="#374d0f" d="M332.6 366.1 340.9 354.3 349.3 343.2 343.3 338 337.5 332.8 329.2 343.9 320.9 355.6 326.7 360.8z"/><path fill="#ff9831" d="M514.6 289.7L520.2 287.7 513.4 281.9 507.8 283.9z"/><path fill="#ff8e31" d="M508.2 284.3L513.7 282.4 506.9 276.7 501.3 278.6z"/><path fill="#ff962c" d="M520 287.9L525.5 286.2 518.6 280.4 513.1 282.2z"/><path fill="#ff8c2b" d="M513.5 282.6L519 280.9 512.2 275.2 506.6 276.9z"/><path fill="#ff9627" d="M525.3 286.4L530.8 285 523.9 279.2 518.4 280.7z"/><path fill="#ff8c26" d="M518.8 281.1L524.3 279.7 517.5 274 511.9 275.4z"/><path class="m" stroke="#542b04" d="M514.6 289.3 522.6 286.8 530.5 284.9 524 279.6 517.5 274.3 509.6 276.2 501.7 278.7 508.1 284z"/><path fill="#f9d420" d="M601.5 316L606.7 316.3 599.5 310.2 594.3 309.9z"/><path fill="#f9cf1e" d="M594.7 310.4L600 310.7 592.8 304.6 587.6 304.3z"/><path fill="#f2d420" d="M606.5 316.5L611.7 317 604.5 310.9 599.3 310.4z"/><path fill="#f2cf1e" d="M599.8 310.9L605 311.4 597.8 305.4 592.6 304.8z"/><path fill="#e7d11f" d="M611.5 317.2L616.7 318 609.5 311.9 604.4 311.1z"/><path fill="#ebcf1e" d="M604.8 311.6L609.9 312.4 602.8 306.4 597.6 305.6z"/><path class="m" stroke="#534709" d="M601.3 315.7 608.9 316.5 616.4 317.9 609.6 312.3 602.9 306.7 595.4 305.3 587.9 304.5 594.6 310z"/><path fill="#38c9f6" d="M266.4 480.2L272.2 468.9 266.2 463.1 260.5 474.4z"/><path fill="#36ccf5" d="M260.8 474.6L266.5 463.3 260.6 457.6 254.8 468.9z"/><path fill="#36d6ea" d="M271.9 469.4L277.7 458.4 271.7 452.6 265.9 463.6z"/><path fill="#36d7e7" d="M266.2 463.8L272 452.8 266 447.1 260.3 458.1z"/><path fill="#39dfdb" d="M277.4 458.9L283.2 448 277.1 442.3 271.3 453.1z"/><path fill="#39dfd8" d="M271.7 453.3L277.5 442.5 271.5 436.8 265.7 447.6z"/><path class="m" stroke="#00434b" d="M266.4 479.9 274.6 463.8 282.9 448.2 277.1 442.6 271.5 437.2 263.3 452.7 255.2 468.7 260.8 474.3z"/><path fill="#def178" d="M349.3 343.5L355.2 336 348.9 330.5 343 338z"/><path fill="#e0f077" d="M343.4 338.3L349.2 330.8 343 325.4 337.1 332.9z"/><path fill="#e7ef78" d="M354.8 336.4L360.7 329.2 354.4 323.7 348.5 330.9z"/><path fill="#e9ee78" d="M348.9 331.2L354.8 324 348.5 318.6 342.6 325.8z"/><path fill="#efed79" d="M360.4 329.6L366.3 322.6 359.9 317.1 354.1 324.1z"/><path fill="#f1ed79" d="M354.4 324.4L360.3 317.4 354 312 348.1 319z"/><path class="m" stroke="#484b0c" d="M349.3 343.2 357.6 332.6 365.9 322.6 359.9 317.5 354 312.4 345.7 322.3 337.5 332.8 343.3 338z"/><path fill="#ff9644" d="M485.6 285.8L491.3 283 484.5 277.4 478.8 280.1z"/><path fill="#ff8d43" d="M479.2 280.6L484.9 277.8 478.2 272.2 472.5 274.9z"/><path fill="#ff8e3d" d="M491 283.3L496.7 280.8 489.9 275.1 484.2 277.6z"/><path fill="#ff853c" d="M484.6 278.1L490.3 275.6 483.5 270 477.9 272.5z"/><path fill="#ff8836" d="M496.4 281.1L502 278.8 495.2 273.2 489.6 275.4z"/><path fill="#ff7f36" d="M490 275.8L495.6 273.6 488.8 268 483.2 270.2z"/><path class="m" stroke="#542404" d="M485.6 285.5 493.6 281.8 501.7 278.7 495.3 273.5 488.9 268.4 480.9 271.4 472.8 275 479.2 280.2z"/><path fill="#ffd273" d="M411.3 299L417.1 293.9 410.6 288.4 404.8 293.5z"/><path fill="#ffce73" d="M405.1 293.9L411 288.8 404.5 283.3 398.7 288.4z"/><path fill="#ffca70" d="M416.8 294.2L422.6 289.3 416.1 283.9 410.3 288.7z"/><path fill="#ffc770" d="M410.6 289.1L416.4 284.2 410 278.8 404.2 283.7z"/><path fill="#ffc16c" d="M422.3 289.7L428.1 285.1 421.5 279.6 415.8 284.2z"/><path fill="#ffbb6c" d="M416.1 284.6L421.9 280 415.4 274.6 409.6 279.1z"/><path class="m" stroke="#543605" d="M411.3 298.7 419.5 291.6 427.7 285 421.6 279.9 415.4 274.9 407.2 281.4 399 288.5 405.1 293.5z"/><path fill="#ffa157" d="M456.6 284.4L462.4 280.8 455.7 275.3 450 278.8z"/><path fill="#ff9a57" d="M450.4 279.2L456.1 275.7 449.5 270.2 443.7 273.7z"/><path fill="#ff9751" d="M462.1 281.1L467.8 277.8 461.1 272.3 455.4 275.6z"/><path fill="#ff8f50" d="M455.8 276L461.5 272.7 454.9 267.2 449.2 270.5z"/><path fill="#ff8d4a" d="M467.5 278.1L473.2 275.1 466.5 269.5 460.8 272.6z"/><path fill="#ff8549" d="M461.2 273L466.9 270 460.2 264.5 454.6 267.5z"/><path class="m" stroke="#542204" d="M456.6 284 464.7 279.2 472.8 275 466.5 269.9 460.3 264.8 452.2 269 444.1 273.8 450.3 278.9z"/><path fill="#f6ec7a" d="M365.9 323L371.8 316.2 365.4 310.8 359.6 317.5z"/><path fill="#f9eb79" d="M359.9 317.8L365.8 311.1 359.5 305.7 353.6 312.4z"/><path fill="#fce97a" d="M371.5 316.6L377.3 310.1 371 304.7 365.1 311.2z"/><path fill="#fde779" d="M365.5 311.5L371.3 305 365 299.7 359.2 306.1z"/><path fill="#fde479" d="M377 310.5L382.9 304.3 376.5 298.9 370.6 305.1z"/><path fill="#fee278" d="M371 305.4L376.8 299.3 370.5 293.9 364.7 300.1z"/><path class="m" stroke="#534709" d="M365.9 322.6 374.2 313.2 382.5 304.4 376.5 299.3 370.5 294.3 362.3 303 354 312.4 359.9 317.5z"/><path fill="#ffb568" d="M427.8 285.4L433.6 281 427 275.6 421.2 279.9z"/><path fill="#ffae67" d="M421.6 280.3L427.4 276 420.9 270.6 415.1 274.9z"/><path fill="#ffa963" d="M433.2 281.4L439 277.3 432.4 271.8 426.7 275.9z"/><path fill="#ffa262" d="M427.1 276.3L432.8 272.2 426.3 266.8 420.5 270.9z"/><path fill="#ff9e5d" d="M438.7 277.6L444.4 273.8 437.9 268.4 432.1 272.1z"/><path fill="#ff965d" d="M432.5 272.5L438.2 268.8 431.7 263.4 426 267.2z"/><path class="m" stroke="#542604" d="M427.7 285 435.9 279.1 444.1 273.8 437.9 268.7 431.7 263.7 423.6 269 415.4 274.9 421.6 279.9z"/><path fill="#fedf78" d="M382.5 304.7L388.4 298.8 382 293.4 376.1 299.3z"/><path fill="#fedd77" d="M376.5 299.6L382.3 293.7 376 288.4 370.2 294.3z"/><path fill="#ffda76" d="M388 299.1L393.9 293.5 387.5 288.1 381.6 293.7z"/><path fill="#ffd776" d="M382 294.1L387.8 288.4 381.5 283.1 375.6 288.7z"/><path fill="#ffd375" d="M393.5 293.8L399.4 288.5 392.9 283.1 387.1 288.5z"/><path fill="#ffcf74" d="M387.5 288.8L393.3 283.4 386.9 278.1 381.1 283.5z"/><path class="m" stroke="#543e07" d="M382.5 304.4 390.8 296.1 399 288.5 393 283.4 387 278.5 378.7 286.1 370.5 294.3 376.5 299.3z"/><path fill="#57de91" d="M287.9 408.1L293.7 398.3 287.6 392.8 281.8 402.6z"/><path fill="#57de8e" d="M282.2 402.8L288 393.1 282 387.6 276.2 397.4z"/><path fill="#61df86" d="M293.4 398.8L299.2 389.3 293.1 383.8 287.3 393.3z"/><path fill="#64e084" d="M287.7 393.5L293.5 384 287.4 378.6 281.6 388.1z"/><path fill="#72e282" d="M298.9 389.7L304.7 380.5 298.6 375 292.8 384.2z"/><path fill="#75e381" d="M293.1 384.5L298.9 375.2 292.9 369.8 287.1 379.1z"/><path class="m" stroke="#0d461d" d="M287.9 407.8 296.1 393.9 304.4 380.6 298.6 375.3 292.9 370.2 284.7 383.4 276.5 397.2 282.2 402.5z"/><path fill="#83e57e" d="M304.4 380.9L310.2 371.9 304.1 366.4 298.3 375.4z"/><path fill="#85e67d" d="M298.6 375.7L304.4 366.7 298.4 361.3 292.6 370.3z"/><path fill="#92e87b" d="M309.9 372.3L315.7 363.6 309.6 358.1 303.8 366.9z"/><path fill="#95e87a" d="M304.1 367.1L309.9 358.4 303.8 353 298 361.7z"/><path fill="#a6eb79" d="M315.4 364L321.2 355.5 315.1 350.1 309.3 358.6z"/><path fill="#aaec78" d="M309.6 358.8L315.4 350.3 309.3 345 303.5 353.4z"/><path class="m" stroke="#214915" d="M304.4 380.6 312.6 367.8 320.9 355.6 315.1 350.4 309.3 345.3 301.1 357.5 292.9 370.2 298.6 375.3z"/><path fill="#ff9822" d="M530.5 285.2L536 284 529.1 278.3 523.6 279.4z"/><path fill="#ff8d22" d="M524 279.9L529.5 278.7 522.7 273 517.2 274.2z"/><path fill="#ff9c1f" d="M535.8 284.2L541.2 283.3 534.3 277.6 528.9 278.5z"/><path fill="#ff911e" d="M529.3 279L534.7 278 527.9 272.3 522.4 273.3z"/><path fill="#ffa31c" d="M541 283.5L546.4 282.9 539.5 277.1 534.1 277.8z"/><path fill="#ff971b" d="M534.5 278.2L539.9 277.6 533 271.9 527.6 272.5z"/><path class="m" stroke="#542f05" d="M530.5 284.9 538.3 283.5 546.1 282.7 539.6 277.5 533.1 272.2 525.4 273 517.5 274.3 524 279.6z"/><path fill="#ffb51c" d="M559.3 293.8L564.7 293.4 557.7 287.5 552.3 287.9z"/><path fill="#ffae1b" d="M552.7 288.4L558.1 288 551.2 282.2 545.8 282.6z"/><path fill="#ffbb1b" d="M564.5 293.6L569.8 293.4 562.8 287.5 557.5 287.7z"/><path fill="#ffb41a" d="M557.9 288.2L563.2 288 556.3 282.2 550.9 282.4z"/><path fill="#ffc11a" d="M569.6 293.6L574.9 293.7 567.9 287.8 562.6 287.7z"/><path fill="#ffbb19" d="M563 288.2L568.3 288.3 561.3 282.5 556 282.4z"/><path class="m" stroke="#543c06" d="M559.2 293.5 566.9 293.2 574.6 293.5 568 288.2 561.4 282.9 553.8 282.5 546.1 282.7 552.6 288.1z"/><path fill="#41dfc2" d="M271.5 437.5L277.2 427 271.3 421.4 265.5 431.9z"/><path fill="#42dfbf" d="M265.8 432.1L271.6 421.6 265.6 416.1 259.9 426.6z"/><path fill="#49deb1" d="M276.9 427.5L282.7 417.2 276.7 411.7 270.9 421.9z"/><path fill="#49deae" d="M271.3 422.1L277 411.9 271.1 406.4 265.3 416.6z"/><path fill="#50dea0" d="M282.4 417.7L288.2 407.7 282.2 402.1 276.4 412.1z"/><path fill="#50de9d" d="M276.7 412.4L282.5 402.4 276.5 396.9 270.7 406.9z"/><path class="m" stroke="#054631" d="M271.5 437.2 279.7 422.2 287.9 407.8 282.2 402.5 276.5 397.2 268.4 411.6 260.2 426.5 265.8 431.8z"/><path fill="#ff8430" d="M501.7 279.1L507.3 277.1 500.5 271.5 494.9 273.4z"/><path fill="#ff7a2f" d="M495.3 273.9L500.9 271.9 494.1 266.3 488.6 268.3z"/><path fill="#ff822a" d="M507 277.3L512.6 275.6 505.8 270 500.2 271.7z"/><path fill="#ff772a" d="M500.6 272.1L506.2 270.5 499.4 264.9 493.9 266.6z"/><path fill="#ff8125" d="M512.3 275.9L517.8 274.4 511 268.8 505.5 270.2z"/><path fill="#ff7625" d="M505.9 270.7L511.4 269.3 504.7 263.7 499.1 265.1z"/><path class="m" stroke="#542304" d="M501.7 278.7 509.6 276.2 517.5 274.3 511.1 269.2 504.7 264 496.8 265.9 488.9 268.4 495.3 273.5z"/><path fill="#b9ef77" d="M320.9 355.9L326.8 347.6 320.6 342.2 314.8 350.5z"/><path fill="#bdf076" d="M315.1 350.8L320.9 342.5 314.8 337.2 309 345.4z"/><path fill="#cbf276" d="M326.4 348.1L332.3 340.1 326.1 334.7 320.2 342.7z"/><path fill="#cff375" d="M320.6 342.9L326.4 335 320.3 329.7 314.5 337.6z"/><path fill="#d9f276" d="M331.9 340.5L337.8 332.8 331.6 327.4 325.8 335.1z"/><path fill="#dbf175" d="M326.1 335.4L331.9 327.7 325.8 322.4 320 330.1z"/><path class="m" stroke="#3b4e0e" d="M320.9 355.6 329.2 343.9 337.5 332.8 331.6 327.7 325.8 322.7 317.6 333.7 309.3 345.3 315.1 350.4z"/><path fill="#f9cb1d" d="M588 304.8L593.2 305.1 586.2 299.1 580.9 298.8z"/><path fill="#f9c61b" d="M581.3 299.3L586.6 299.6 579.5 293.7 574.3 293.4z"/><path fill="#f2cb1d" d="M593.1 305.3L598.3 305.9 591.2 299.9 586 299.3z"/><path fill="#f2c61b" d="M586.4 299.8L591.6 300.4 584.5 294.5 579.3 293.9z"/><path fill="#ebcb1d" d="M598.1 306.1L603.2 306.9 596.1 300.9 591 300.1z"/><path fill="#ebc71c" d="M591.4 300.6L596.6 301.4 589.5 295.5 584.3 294.7z"/><path class="m" stroke="#534509" d="M587.9 304.5 595.4 305.3 602.9 306.7 596.3 301.3 589.6 295.8 582.1 294.4 574.6 293.5 581.2 299z"/><path fill="#34cff5" d="M255.2 469.1L260.9 457.8 255 452.2 249.3 463.4z"/><path fill="#34d0f2" d="M249.6 463.6L255.3 452.4 249.4 446.8 243.7 458z"/><path fill="#36d8e5" d="M260.6 458.3L266.3 447.3 260.4 441.7 254.7 452.7z"/><path fill="#36dae3" d="M255 452.9L260.7 441.9 254.8 436.3 249.1 447.3z"/><path fill="#3adfd5" d="M266 447.8L271.8 437 265.8 431.4 260.1 442.2z"/><path fill="#3bdfd2" d="M260.4 442.4L266.1 431.7 260.2 426.1 254.5 436.8z"/><path class="m" stroke="#004449" d="M255.2 468.7 263.3 452.7 271.5 437.2 265.8 431.8 260.2 426.5 252.1 441.9 244 457.8 249.6 463.2z"/><path fill="#ff8443" d="M472.9 275.4L478.6 272.6 471.9 267.1 466.2 269.8z"/><path fill="#ff7d43" d="M466.6 270.2L472.3 267.5 465.6 262 459.9 264.8z"/><path fill="#ff7c3c" d="M478.3 272.9L483.9 270.4 477.2 264.9 471.6 267.3z"/><path fill="#ff753c" d="M472 267.8L477.6 265.3 470.9 259.8 465.3 262.3z"/><path fill="#ff7635" d="M483.6 270.7L489.2 268.5 482.5 262.9 476.9 265.1z"/><path fill="#ff6f36" d="M477.3 265.6L482.9 263.4 476.2 257.9 470.6 260.1z"/><path class="m" stroke="#541c03" d="M472.8 275 480.9 271.4 488.9 268.4 482.6 263.3 476.3 258.3 468.3 261.3 460.3 264.8 466.5 269.9z"/><path fill="#e2f077" d="M337.5 333.2L343.3 325.7 337.1 320.3 331.3 327.8z"/><path fill="#e5ef76" d="M331.6 328.1L337.4 320.6 331.3 315.3 325.4 322.8z"/><path fill="#ebee77" d="M343 326.1L348.8 318.9 342.6 313.6 336.8 320.7z"/><path fill="#eded77" d="M337.1 321L342.9 313.8 336.7 308.6 330.9 315.8z"/><path fill="#f3ec78" d="M348.5 319.3L354.3 312.3 348.1 307 342.3 313.9z"/><path fill="#f6eb78" d="M342.6 314.3L348.4 307.3 342.2 302.1 336.4 309z"/><path class="m" stroke="#4a4b0b" d="M337.5 332.8 345.7 322.3 354 312.4 348.1 307.4 342.2 302.4 334 312.3 325.8 322.7 331.6 327.7z"/><path fill="#dacd1f" d="M616.5 318.2L621.6 319.3 614.4 313.2 609.3 312.1z"/><path fill="#decc1e" d="M609.8 312.6L614.9 313.7 607.7 307.7 602.6 306.6z"/><path fill="#cdca20" d="M621.5 319.4L626.5 320.8 619.3 314.7 614.3 313.3z"/><path fill="#d1c81f" d="M614.7 313.8L619.8 315.2 612.6 309.1 607.6 307.8z"/><path fill="#bfc720" d="M626.4 320.9L631.4 322.5 624.2 316.4 619.2 314.8z"/><path fill="#c3c51f" d="M619.6 315.3L624.6 316.9 617.5 310.9 612.5 309.3z"/><path class="m" stroke="#4c4a0b" d="M616.4 317.9 623.8 319.8 631.1 322.3 624.3 316.7 617.6 311.2 610.3 308.7 602.9 306.7 609.6 312.3z"/><path fill="#ffcb72" d="M399 288.8L404.9 283.7 398.4 278.3 392.6 283.4z"/><path fill="#ffc872" d="M393 283.8L398.8 278.7 392.4 273.4 386.6 278.5z"/><path fill="#ffc16f" d="M404.5 284L410.3 279.2 403.9 273.8 398.1 278.7z"/><path fill="#ffbb6f" d="M398.5 279L404.3 274.2 397.8 268.9 392.1 273.7z"/><path fill="#ffb46c" d="M410 279.5L415.8 274.9 409.3 269.6 403.6 274.2z"/><path fill="#ffae6b" d="M403.9 274.5L409.7 270 403.3 264.7 397.5 269.2z"/><path class="m" stroke="#543005" d="M399 288.5 407.2 281.4 415.4 274.9 409.4 269.9 403.3 265 395.1 271.5 387 278.5 393 283.4z"/><path fill="#ff9257" d="M444.1 274.1L449.9 270.6 443.3 265.1 437.6 268.7z"/><path fill="#ff8b57" d="M437.9 269.1L443.7 265.5 437.1 260.2 431.4 263.7z"/><path fill="#ff8850" d="M449.5 270.9L455.3 267.6 448.7 262.2 443 265.4z"/><path fill="#ff8251" d="M443.3 265.8L449 262.6 442.5 257.2 436.8 260.5z"/><path fill="#ff7f4a" d="M454.9 267.9L460.6 264.9 454 259.5 448.4 262.5z"/><path fill="#ff794a" d="M448.7 262.9L454.4 259.9 447.8 254.5 442.2 257.5z"/><path class="m" stroke="#541c03" d="M444.1 273.8 452.2 269 460.3 264.8 454.1 259.8 447.9 254.9 439.8 259 431.7 263.7 437.9 268.7z"/><path fill="#fbea79" d="M354 312.7L359.9 306 353.6 300.7 347.8 307.4z"/><path fill="#fce978" d="M348.1 307.7L353.9 301 347.7 295.8 341.9 302.5z"/><path fill="#fde578" d="M359.5 306.4L365.4 300 359.1 294.7 353.2 301.1z"/><path fill="#fde378" d="M353.6 301.4L359.4 295 353.2 289.8 347.4 296.2z"/><path fill="#fee078" d="M365 300.4L370.9 294.2 364.6 289 358.7 295.1z"/><path fill="#fede77" d="M359.1 295.4L364.9 289.3 358.7 284.1 352.8 290.2z"/><path class="m" stroke="#534509" d="M354 312.4 362.3 303 370.5 294.3 364.6 289.3 358.7 284.4 350.5 293.1 342.2 302.4 348.1 307.4z"/><path fill="#ffa867" d="M415.5 275.3L421.2 271 414.8 265.6 409 269.9z"/><path fill="#ffa267" d="M409.4 270.3L415.1 266 408.7 260.7 403 265z"/><path fill="#ff9c62" d="M420.9 271.3L426.7 267.2 420.2 261.9 414.4 265.9z"/><path fill="#ff9562" d="M414.8 266.3L420.6 262.3 414.1 257 408.4 261z"/><path fill="#ff905c" d="M426.4 267.5L432.1 263.8 425.6 258.5 419.9 262.2z"/><path fill="#ff8b5d" d="M420.2 262.6L426 258.8 419.5 253.6 413.8 257.3z"/><path class="m" stroke="#541f03" d="M415.4 274.9 423.6 269 431.7 263.7 425.6 258.8 419.5 253.9 411.4 259.2 403.3 265 409.4 269.9z"/><path fill="#ffdb77" d="M370.5 294.6L376.3 288.7 370 283.5 364.2 289.3z"/><path fill="#ffd976" d="M364.6 289.7L370.4 283.8 364.1 278.6 358.3 284.4z"/><path fill="#ffd475" d="M376 289.1L381.8 283.5 375.5 278.2 369.7 283.8z"/><path fill="#ffd175" d="M370.1 284.2L375.9 278.6 369.6 273.4 363.8 278.9z"/><path fill="#ffcc74" d="M381.5 283.8L387.3 278.5 381 273.2 375.2 278.6z"/><path fill="#ffc973" d="M375.5 278.9L381.3 273.6 375 268.4 369.2 273.7z"/><path class="m" stroke="#543b06" d="M370.5 294.3 378.7 286.1 387 278.5 381 273.6 375 268.7 366.9 276.3 358.7 284.4 364.6 289.3z"/><path fill="#ffa81a" d="M546.2 283.1L551.6 282.7 544.7 276.9 539.3 277.3z"/><path fill="#ff9f19" d="M539.7 277.8L545.1 277.4 538.2 271.7 532.8 272.1z"/><path fill="#ffad18" d="M551.3 282.9L556.7 282.7 549.8 277 544.4 277.1z"/><path fill="#ffa717" d="M544.8 277.6L550.2 277.4 543.3 271.8 538 271.9z"/><path fill="#ffb418" d="M556.5 282.9L561.8 283 554.8 277.3 549.5 277.2z"/><path fill="#ffad17" d="M549.9 277.6L555.2 277.8 548.4 272.1 543.1 272z"/><path class="m" stroke="#543705" d="M546.1 282.7 553.8 282.5 561.4 282.9 554.9 277.6 548.5 272.4 540.8 272 533.1 272.2 539.6 277.5z"/><path fill="#ff8221" d="M517.6 274.7L523.1 273.5 516.3 267.9 510.8 269z"/><path fill="#ff7820" d="M511.2 269.5L516.7 268.3 509.9 262.8 504.4 263.9z"/><path fill="#ff861d" d="M522.8 273.7L528.3 272.8 521.5 267.2 516 268.1z"/><path fill="#ff7b1c" d="M516.4 268.6L521.9 267.6 515.1 262.1 509.6 263z"/><path fill="#ff8c1a" d="M528 273L533.4 272.4 526.6 266.7 521.2 267.4z"/><path fill="#ff811a" d="M521.6 267.9L527 267.2 520.2 261.7 514.8 262.3z"/><path class="m" stroke="#542704" d="M517.5 274.3 525.4 273 533.1 272.2 526.7 267.1 520.3 262 512.6 262.7 504.7 264 511.1 269.2z"/><path fill="#58de8b" d="M276.5 397.6L282.3 387.8 276.3 382.5 270.6 392.2z"/><path fill="#59de88" d="M270.9 392.4L276.7 382.7 270.7 377.4 265 387z"/><path fill="#66e083" d="M282 388.3L287.8 378.8 281.8 373.5 276 382.9z"/><path fill="#69e182" d="M276.3 383.2L282.1 373.7 276.1 368.4 270.4 377.8z"/><path fill="#78e37f" d="M287.4 379.3L293.2 370.1 287.2 364.7 281.4 373.9z"/><path fill="#7ae47e" d="M281.8 374.2L287.5 365 281.6 359.7 275.8 368.9z"/><path class="m" stroke="#0f461c" d="M276.5 397.2 284.7 383.4 292.9 370.2 287.2 365.1 281.6 360 273.4 373.2 265.3 386.9 270.9 392z"/><path fill="#88e67c" d="M292.9 370.5L298.7 361.5 292.7 356.2 286.9 365.2z"/><path fill="#8be77b" d="M287.2 365.4L293 356.5 287 351.2 281.2 360.1z"/><path fill="#99e979" d="M298.4 362L304.2 353.3 298.1 347.9 292.3 356.7z"/><path fill="#9dea78" d="M292.7 356.9L298.5 348.2 292.5 343 286.7 351.6z"/><path fill="#aeed77" d="M303.8 353.7L309.7 345.2 303.6 339.9 297.8 348.4z"/><path fill="#b2ed76" d="M298.1 348.6L303.9 340.2 297.9 335 292.1 343.4z"/><path class="m" stroke="#244a14" d="M292.9 370.2 301.1 357.5 309.3 345.3 303.6 340.3 297.9 335.3 289.7 347.4 281.6 360 287.2 365.1z"/><path fill="#43debc" d="M260.2 426.8L266 416.3 260.1 410.9 254.3 421.3z"/><path fill="#43deb9" d="M254.7 421.5L260.4 411.1 254.5 405.7 248.8 416.1z"/><path fill="#4adeab" d="M265.6 416.8L271.4 406.6 265.5 401.2 259.7 411.4z"/><path fill="#4bdea8" d="M260.1 411.6L265.8 401.4 259.9 396 254.2 406.2z"/><path fill="#51de9a" d="M271.1 407.1L276.8 397.1 270.9 391.7 265.1 401.7z"/><path fill="#52de97" d="M265.5 401.9L271.2 391.9 265.3 386.6 259.6 396.5z"/><path class="m" stroke="#06462f" d="M260.2 426.5 268.4 411.6 276.5 397.2 270.9 392 265.3 386.9 257.2 401.2 249.1 416 254.7 421.2z"/><path fill="#fac21a" d="M574.7 293.9L579.9 294.2 572.9 288.4 567.7 288z"/><path fill="#fabd19" d="M568.1 288.5L573.4 288.8 566.4 283.1 561.1 282.7z"/><path fill="#f3c21a" d="M579.7 294.4L585 295 577.9 289.1 572.7 288.5z"/><path fill="#f3bd19" d="M573.2 289L578.4 289.6 571.4 283.8 566.2 283.2z"/><path fill="#ecc21a" d="M584.8 295.2L589.9 296 582.9 290.2 577.8 289.3z"/><path fill="#ecbe19" d="M578.2 289.8L583.3 290.7 576.4 284.9 571.2 284z"/><path class="m" stroke="#544208" d="M574.6 293.5 582.1 294.4 589.6 295.8 583 290.5 576.5 285.2 569 283.8 561.4 282.9 568 288.2z"/><path fill="#ff712f" d="M488.9 268.7L494.5 266.8 487.8 261.2 482.2 263.2z"/><path fill="#ff6a30" d="M482.6 263.6L488.2 261.7 481.5 256.2 476 258.2z"/><path fill="#ff6e29" d="M494.3 267L499.8 265.3 493.1 259.8 487.5 261.5z"/><path fill="#ff662a" d="M487.9 261.9L493.5 260.3 486.8 254.8 481.3 256.5z"/><path fill="#ff6c24" d="M499.5 265.6L505.1 264.1 498.3 258.6 492.8 260z"/><path fill="#ff6424" d="M493.2 260.5L498.7 259.1 492 253.6 486.5 255z"/><path class="m" stroke="#541c03" d="M488.9 268.4 496.8 265.9 504.7 264 498.4 259 492.1 254 484.2 255.8 476.3 258.3 482.6 263.3z"/><path fill="#c1f075" d="M309.3 345.7L315.1 337.4 309.1 332.2 303.3 340.4z"/><path fill="#c5f175" d="M303.6 340.6L309.4 332.4 303.4 327.2 297.6 335.4z"/><path fill="#d3f374" d="M314.8 337.9L320.6 329.9 314.5 324.7 308.7 332.6z"/><path fill="#d5f374" d="M309.1 332.9L314.9 324.9 308.8 319.7 303 327.7z"/><path fill="#ddf175" d="M320.3 330.4L326.1 322.7 320 317.4 314.2 325.1z"/><path fill="#dff075" d="M314.5 325.4L320.3 317.7 314.3 312.5 308.5 320.2z"/><path class="m" stroke="#3e4e0e" d="M309.3 345.3 317.6 333.7 325.8 322.7 320 317.8 314.3 312.9 306.1 323.8 297.9 335.3 303.6 340.3z"/><path fill="#34d2f0" d="M244 458.2L249.7 447 243.9 441.5 238.2 452.6z"/><path fill="#34d3ee" d="M238.5 452.8L244.2 441.7 238.4 436.2 232.7 447.3z"/><path fill="#36dbe0" d="M249.4 447.5L255.1 436.5 249.3 431 243.6 442z"/><path fill="#36dcde" d="M243.9 442.2L249.6 431.2 243.8 425.8 238.1 436.7z"/><path fill="#3bdfcf" d="M254.8 437L260.5 426.3 254.7 420.8 248.9 431.5z"/><path fill="#3cdfcc" d="M249.3 431.7L255 421.1 249.1 415.6 243.4 426.3z"/><path class="m" stroke="#004547" d="M244 457.8 252.1 441.9 260.2 426.5 254.7 421.2 249.1 416 241.1 431.3 233.1 447.2 238.5 452.5z"/><path fill="#e2ca1e" d="M603.1 307.1L608.2 308.2 601.1 302.2 596 301.1z"/><path fill="#e4c71c" d="M596.4 301.6L601.5 302.7 594.4 296.8 589.3 295.7z"/><path fill="#d5c71e" d="M608 308.3L613.1 309.6 606 303.7 600.9 302.3z"/><path fill="#d9c51d" d="M601.3 302.8L606.4 304.2 599.3 298.3 594.3 296.9z"/><path fill="#c7c41e" d="M612.9 309.8L617.9 311.4 610.8 305.4 605.8 303.8z"/><path fill="#cbc21d" d="M606.3 304.3L611.3 305.9 604.2 300 599.2 298.4z"/><path class="m" stroke="#50490a" d="M602.9 306.7 610.3 308.7 617.6 311.2 611 305.7 604.3 300.4 597 297.8 589.6 295.8 596.3 301.3z"/><path fill="#ff7643" d="M460.3 265.2L466 262.5 459.4 257 453.7 259.8z"/><path fill="#ff7044" d="M454.1 260.2L459.8 257.5 453.2 252.1 447.5 254.8z"/><path fill="#ff6f3d" d="M465.7 262.7L471.3 260.3 464.7 254.9 459.1 257.3z"/><path fill="#ff683d" d="M459.5 257.7L465.1 255.3 458.5 249.9 452.9 252.4z"/><path fill="#ff6836" d="M471 260.5L476.6 258.3 470 252.9 464.4 255.1z"/><path fill="#ff6237" d="M464.8 255.6L470.4 253.4 463.8 248 458.2 250.2z"/><path class="m" stroke="#541704" d="M460.3 264.8 468.3 261.3 476.3 258.3 470.1 253.3 463.9 248.4 455.9 251.3 447.9 254.9 454.1 259.8z"/><path fill="#e7ef76" d="M325.8 323.1L331.6 315.6 325.5 310.4 319.7 317.8z"/><path fill="#e9ee75" d="M320 318.1L325.8 310.7 319.7 305.5 313.9 312.9z"/><path fill="#f0ed77" d="M331.3 316L337.1 308.9 330.9 303.7 325.1 310.8z"/><path fill="#f2ec76" d="M325.5 311.1L331.3 304 325.2 298.8 319.4 305.9z"/><path fill="#f8eb77" d="M336.8 309.3L342.6 302.4 336.4 297.2 330.6 304.1z"/><path fill="#faea77" d="M331 304.4L336.8 297.5 330.6 292.3 324.8 299.2z"/><path class="m" stroke="#4c4a0b" d="M325.8 322.7 334 312.3 342.2 302.4 336.4 297.5 330.6 292.7 322.5 302.5 314.3 312.9 320 317.8z"/><path fill="#ffc271" d="M387 278.8L392.8 273.7 386.4 268.5 380.6 273.6z"/><path fill="#ffbc71" d="M381 273.9L386.8 268.9 380.5 263.7 374.7 268.7z"/><path fill="#ffb56f" d="M392.4 274.1L398.2 269.3 391.8 264 386.1 268.8z"/><path fill="#ffaf6e" d="M386.4 269.2L392.2 264.4 385.9 259.2 380.1 264z"/><path fill="#ffa86b" d="M397.9 269.6L403.7 265.1 397.3 259.8 391.5 264.4z"/><path fill="#ffa26b" d="M391.9 264.7L397.6 260.2 391.3 255.1 385.6 259.6z"/><path class="m" stroke="#542a04" d="M387 278.5 395.1 271.5 403.3 265 397.3 260.2 391.3 255.4 383.2 261.8 375 268.7 381 273.6z"/><path fill="#b2c420" d="M631.2 322.6L636.2 324.4 629 318.4 624 316.5z"/><path fill="#b6c220" d="M624.5 317L629.4 318.9 622.3 312.9 617.3 311z"/><path fill="#a5c121" d="M636.1 324.6L641 326.6 633.8 320.6 628.9 318.5z"/><path fill="#a9c020" d="M629.3 319L634.2 321.1 627.1 315.1 622.2 313z"/><path fill="#98bf22" d="M640.9 326.7L645.7 329.1 638.5 323 633.6 320.7z"/><path fill="#9cbd21" d="M634.1 321.2L639 323.5 631.8 317.5 626.9 315.2z"/><path class="m" stroke="#434d0d" d="M631.1 322.3 638.3 325.3 645.4 328.9 638.7 323.3 632 317.8 624.8 314.2 617.6 311.2 624.3 316.7z"/><path fill="#ff8657" d="M431.8 264.1L437.5 260.6 431 255.3 425.3 258.8z"/><path fill="#ff8158" d="M425.7 259.2L431.4 255.7 424.9 250.4 419.2 253.9z"/><path fill="#ff7c51" d="M437.2 260.9L442.9 257.6 436.4 252.3 430.7 255.6z"/><path fill="#ff7752" d="M431 256L436.7 252.7 430.3 247.5 424.6 250.7z"/><path fill="#ff734b" d="M442.6 257.9L448.2 255 441.7 249.7 436 252.6z"/><path fill="#ff6d4b" d="M436.4 253L442.1 250.1 435.6 244.8 429.9 247.8z"/><path class="m" stroke="#541604" d="M431.7 263.7 439.8 259 447.9 254.9 441.7 250 435.6 245.2 427.6 249.3 419.5 253.9 425.6 258.8z"/><path fill="#fce778" d="M342.2 302.8L348.1 296.1 341.9 290.9 336.1 297.6z"/><path fill="#fde577" d="M336.4 297.9L342.2 291.2 336.1 286.1 330.3 292.7z"/><path fill="#fde277" d="M347.7 296.5L353.5 290.1 347.3 285 341.5 291.3z"/><path fill="#fee077" d="M341.9 291.6L347.7 285.3 341.5 280.2 335.7 286.5z"/><path fill="#fedc77" d="M353.2 290.5L359 284.4 352.8 279.2 347 285.3z"/><path fill="#ffdb76" d="M347.4 285.7L353.2 279.6 347 274.5 341.2 280.5z"/><path class="m" stroke="#534308" d="M342.2 302.4 350.5 293.1 358.7 284.4 352.8 279.6 347 274.8 338.8 283.5 330.6 292.7 336.4 297.5z"/><path fill="#ff9b66" d="M403.3 265.4L409.1 261.1 402.7 255.9 396.9 260.2z"/><path fill="#ff9666" d="M397.3 260.5L403.1 256.3 396.7 251.1 391 255.4z"/><path fill="#ff9062" d="M408.8 261.4L414.5 257.4 408.1 252.2 402.4 256.2z"/><path fill="#ff8c62" d="M402.7 256.6L408.5 252.6 402.1 247.5 396.4 251.4z"/><path fill="#ff865d" d="M414.2 257.7L419.9 254 413.5 248.8 407.8 252.5z"/><path fill="#ff815e" d="M408.1 252.9L413.9 249.2 407.5 244 401.8 247.8z"/><path class="m" stroke="#541a04" d="M403.3 265 411.4 259.2 419.5 253.9 413.5 249.1 407.5 244.4 399.4 249.6 391.3 255.4 397.3 260.2z"/><path fill="#ffd676" d="M358.7 284.8L364.5 278.9 358.2 273.8 352.5 279.6z"/><path fill="#ffd375" d="M352.8 279.9L358.6 274.1 352.4 269 346.6 274.8z"/><path fill="#ffce75" d="M364.1 279.3L369.9 273.7 363.7 268.6 357.9 274.1z"/><path fill="#ffcb74" d="M358.3 274.5L364.1 268.9 357.8 263.8 352.1 269.4z"/><path fill="#ffc473" d="M369.6 274.1L375.4 268.7 369.1 263.6 363.4 268.9z"/><path fill="#ffbf73" d="M363.7 269.3L369.5 264 363.3 258.9 357.5 264.2z"/><path class="m" stroke="#543705" d="M358.7 284.4 366.9 276.3 375 268.7 369.1 264 363.3 259.2 355.1 266.7 347 274.8 352.8 279.6z"/><path fill="#ff9418" d="M533.2 272.6L538.6 272.2 531.8 266.6 526.4 267z"/><path fill="#ff8817" d="M526.8 267.4L532.2 267 525.4 261.5 520 261.9z"/><path fill="#ff9e16" d="M538.4 272.4L543.7 272.3 536.9 266.6 531.5 266.8z"/><path fill="#ff9316" d="M531.9 267.2L537.3 267.1 530.5 261.6 525.1 261.7z"/><path fill="#fea616" d="M543.5 272.4L548.8 272.6 541.9 267 536.6 266.8z"/><path fill="#fe9e15" d="M537 267.3L542.3 267.4 535.5 261.9 530.2 261.8z"/><path class="m" stroke="#543105" d="M533.1 272.2 540.8 272 548.5 272.4 542 267.3 535.6 262.2 528 261.8 520.3 262 526.7 267.1z"/><path fill="#ff6d1f" d="M504.8 264.4L510.3 263.2 503.5 257.7 498.1 258.9z"/><path fill="#ff641f" d="M498.5 259.3L503.9 258.2 497.2 252.7 491.8 253.9z"/><path fill="#ff701c" d="M510 263.4L515.5 262.6 508.7 257 503.3 257.9z"/><path fill="#ff661b" d="M503.7 258.4L509.1 257.5 502.4 252.1 497 253z"/><path fill="#ff7619" d="M515.2 262.8L520.6 262.1 513.9 256.6 508.5 257.3z"/><path fill="#ff6b18" d="M508.9 257.7L514.3 257.1 507.6 251.7 502.2 252.3z"/><path class="m" stroke="#542003" d="M504.7 264 512.6 262.7 520.3 262 514 257 507.7 252 499.9 252.7 492.1 254 498.4 259z"/><path fill="#59de85" d="M265.3 387.3L271.1 377.6 265.2 372.3 259.4 382z"/><path fill="#5cde84" d="M259.8 382.2L265.5 372.6 259.6 367.4 253.9 377z"/><path fill="#6ce181" d="M270.7 378.1L276.5 368.6 270.6 363.4 264.8 372.8z"/><path fill="#6ee180" d="M265.2 373L270.9 363.6 265 358.4 259.3 367.8z"/><path fill="#7de47d" d="M276.2 369.1L281.9 359.9 276 354.7 270.2 363.8z"/><path fill="#7fe57c" d="M270.6 364.1L276.3 354.9 270.4 349.8 264.7 358.9z"/><path class="m" stroke="#12471b" d="M265.3 386.9 273.4 373.2 281.6 360 276 355 270.4 350.1 262.3 363.2 254.2 376.9 259.8 381.9z"/><path fill="#8de77a" d="M281.6 360.4L287.3 351.4 281.4 346.2 275.6 355.1z"/><path fill="#90e779" d="M276 355.4L281.7 346.5 275.8 341.3 270.1 350.2z"/><path fill="#a1ea77" d="M287 351.9L292.8 343.2 286.8 338 281.1 346.7z"/><path fill="#a4eb76" d="M281.4 346.9L287.2 338.3 281.2 333.2 275.5 341.8z"/><path fill="#b5ee75" d="M292.5 343.7L298.2 335.2 292.2 330.1 286.5 338.5z"/><path fill="#b9ef74" d="M286.8 338.7L292.6 330.3 286.6 325.2 280.9 333.6z"/><path class="m" stroke="#284a13" d="M281.6 360 289.7 347.4 297.9 335.3 292.3 330.4 286.6 325.6 278.5 337.6 270.4 350.1 276 355z"/><path fill="#f9b817" d="M561.5 283.2L566.8 283.5 559.9 277.8 554.6 277.4z"/><path fill="#f9b116" d="M555 277.9L560.3 278.3 553.4 272.6 548.1 272.3z"/><path fill="#f3b917" d="M566.6 283.7L571.8 284.3 564.9 278.6 559.7 278z"/><path fill="#f3b516" d="M560.1 278.5L565.3 279.1 558.4 273.4 553.2 272.8z"/><path fill="#ecba18" d="M571.6 284.5L576.8 285.4 569.9 279.7 564.7 278.8z"/><path fill="#ecb617" d="M565.1 279.3L570.3 280.2 563.4 274.5 558.2 273.6z"/><path class="m" stroke="#543f07" d="M561.4 282.9 569 283.8 576.5 285.2 570 280 563.5 274.8 556 273.3 548.5 272.4 554.9 277.6z"/><path fill="#ff6330" d="M476.3 258.6L481.9 256.7 475.3 251.3 469.7 253.2z"/><path fill="#ff5c31" d="M470.1 253.6L475.7 251.7 469.1 246.4 463.5 248.3z"/><path fill="#ff5f2a" d="M481.6 256.9L487.2 255.3 480.5 249.9 475 251.5z"/><path fill="#ff582b" d="M475.4 252L480.9 250.3 474.3 245 468.8 246.6z"/><path fill="#ff5d25" d="M486.9 255.5L492.4 254.1 485.8 248.7 480.3 250.1z"/><path fill="#ff5625" d="M480.7 250.6L486.2 249.2 479.6 243.8 474.1 245.2z"/><path class="m" stroke="#541604" d="M476.3 258.3 484.2 255.8 492.1 254 485.8 249.1 479.6 244.2 471.8 246 463.9 248.4 470.1 253.3z"/><path fill="#44deb6" d="M249.1 416.3L254.8 405.9 249 400.6 243.3 411z"/><path fill="#45deb4" d="M243.6 411.2L249.3 400.8 243.5 395.5 237.9 405.9z"/><path fill="#4bdea5" d="M254.5 406.4L260.2 396.2 254.4 390.9 248.7 401.1z"/><path fill="#4cdea2" d="M249 401.3L254.7 391.2 248.9 385.9 243.2 396z"/><path fill="#52de95" d="M259.9 396.7L265.6 386.8 259.8 381.5 254 391.4z"/><path fill="#53de92" d="M254.4 391.6L260.1 381.7 254.2 376.5 248.6 386.4z"/><path class="m" stroke="#06462c" d="M249.1 416 257.2 401.2 265.3 386.9 259.8 381.9 254.2 376.9 246.2 391.1 238.2 405.8 243.6 410.9z"/><path fill="#c9f274" d="M297.9 335.7L303.7 327.5 297.7 322.3 291.9 330.5z"/><path fill="#ccf273" d="M292.3 330.8L298 322.6 292.1 317.5 286.3 325.7z"/><path fill="#d7f273" d="M303.4 327.9L309.2 320 303.1 314.9 297.3 322.8z"/><path fill="#d9f173" d="M297.7 323L303.5 315.2 297.5 310.1 291.7 318z"/><path fill="#e1f074" d="M308.8 320.4L314.6 312.8 308.6 307.7 302.8 315.3z"/><path fill="#e4ef74" d="M303.1 315.6L308.9 308 302.9 302.9 297.1 310.5z"/><path class="m" stroke="#404d0d" d="M297.9 335.3 306.1 323.8 314.3 312.9 308.6 308 302.9 303.2 294.8 314.1 286.6 325.6 292.3 330.4z"/><path fill="#e5c31b" d="M589.8 296.2L594.9 297.3 587.9 291.4 582.7 290.3z"/><path fill="#e5bf1a" d="M583.2 290.8L588.3 291.9 581.3 286.2 576.2 285z"/><path fill="#dcc41c" d="M594.7 297.4L599.8 298.8 592.7 293 587.7 291.6z"/><path fill="#dec11b" d="M588.1 292.1L593.2 293.5 586.2 287.7 581.1 286.3z"/><path fill="#cfc11c" d="M599.6 298.9L604.6 300.5 597.6 294.7 592.6 293.1z"/><path fill="#d3bf1c" d="M593 293.6L598.1 295.2 591.1 289.4 586 287.8z"/><path class="m" stroke="#53480a" d="M589.6 295.8 597 297.8 604.3 300.4 597.8 295 591.2 289.8 583.9 287.2 576.5 285.2 583 290.5z"/><path fill="#34d4ec" d="M233.1 447.5L238.7 436.4 232.9 431 227.3 442.1z"/><path fill="#34d5e9" d="M227.6 442.3L233.3 431.2 227.5 425.9 221.9 436.9z"/><path fill="#36dddc" d="M238.4 436.9L244.1 426 238.3 420.6 232.6 431.5z"/><path fill="#36deda" d="M233 431.7L238.6 420.8 232.8 415.5 227.2 426.4z"/><path fill="#3ddfc9" d="M243.8 426.5L249.4 415.8 243.6 410.5 238 421.1z"/><path fill="#3ddec6" d="M238.3 421.3L244 410.7 238.2 405.4 232.5 416z"/><path class="m" stroke="#004645" d="M233.1 447.2 241.1 431.3 249.1 416 243.6 410.9 238.2 405.8 230.2 421 222.2 436.8 227.6 441.9z"/><path fill="#ff6a44" d="M447.9 255.2L453.6 252.5 447 247.2 441.4 249.9z"/><path fill="#ff6545" d="M441.8 250.4L447.4 247.7 440.9 242.4 435.3 245.1z"/><path fill="#ff623e" d="M453.3 252.8L458.9 250.4 452.4 245.1 446.7 247.5z"/><path fill="#fe5d3e" d="M447.1 247.9L452.7 245.5 446.2 240.3 440.6 242.7z"/><path fill="#ff5b37" d="M458.6 250.6L464.2 248.5 457.6 243.2 452.1 245.3z"/><path fill="#fe5638" d="M452.4 245.8L458 243.6 451.5 238.4 445.9 240.6z"/><path class="m" stroke="#541204" d="M447.9 254.9 455.9 251.3 463.9 248.4 457.7 243.5 451.6 238.7 443.6 241.7 435.6 245.2 441.7 250z"/><path fill="#ebee75" d="M314.3 313.2L320.1 305.8 314 300.7 308.2 308.1z"/><path fill="#eded75" d="M308.6 308.4L314.4 301 308.3 296 302.6 303.3z"/><path fill="#f4ec76" d="M319.7 306.2L325.5 299.1 319.4 294 313.7 301.1z"/><path fill="#f6eb75" d="M314 301.4L319.8 294.3 313.7 289.3 308 296.4z"/><path fill="#fcea77" d="M325.2 299.5L331 292.6 324.9 287.6 319.1 294.4z"/><path fill="#fce876" d="M319.5 294.7L325.2 287.9 319.2 282.8 313.4 289.7z"/><path class="m" stroke="#4f4a0b" d="M314.3 312.9 322.5 302.5 330.6 292.7 324.9 287.9 319.2 283.2 311 292.9 302.9 303.2 308.6 308z"/><path fill="#ffb771" d="M375.1 269.1L380.8 264 374.5 258.9 368.8 264z"/><path fill="#ffb170" d="M369.2 264.3L374.9 259.3 368.7 254.2 362.9 259.2z"/><path fill="#ffa96e" d="M380.5 264.4L386.3 259.6 380 254.5 374.2 259.3z"/><path fill="#ffa46e" d="M374.6 259.6L380.3 254.9 374.1 249.8 368.3 254.6z"/><path fill="#ff9c6a" d="M385.9 259.9L391.7 255.4 385.4 250.3 379.6 254.8z"/><path fill="#ff986a" d="M380 255.2L385.7 250.7 379.5 245.7 373.7 250.1z"/><path class="m" stroke="#542304" d="M375 268.7 383.2 261.8 391.3 255.4 385.4 250.7 379.5 246 371.4 252.3 363.3 259.2 369.1 264z"/><path fill="#bac11f" d="M617.8 311.5L622.7 313.4 615.6 307.4 610.7 305.6z"/><path fill="#bebf1e" d="M611.1 306.1L616.1 307.9 609 302 604 300.2z"/><path fill="#adbe1f" d="M622.6 313.5L627.5 315.6 620.4 309.6 615.5 307.5z"/><path fill="#b0bd1f" d="M616 308L620.9 310.1 613.8 304.2 608.9 302.1z"/><path fill="#9fbc20" d="M627.4 315.7L632.3 318 625.1 312.1 620.3 309.7z"/><path fill="#a3ba1f" d="M620.8 310.2L625.6 312.6 618.5 306.7 613.7 304.4z"/><path class="m" stroke="#464c0c" d="M617.6 311.2 624.8 314.2 632 317.8 625.3 312.4 618.7 307 611.6 303.4 604.3 300.4 611 305.7z"/><path fill="#ff7c58" d="M419.6 254.3L425.3 250.8 418.8 245.6 413.2 249.1z"/><path fill="#ff7758" d="M413.5 249.5L419.2 246 412.8 240.9 407.2 244.4z"/><path fill="#ff7252" d="M425 251.1L430.6 247.9 424.2 242.7 418.5 245.9z"/><path fill="#fe6d53" d="M418.9 246.3L424.6 243.1 418.2 238 412.5 241.2z"/><path fill="#ff684c" d="M430.3 248.2L436 245.2 429.5 240.1 423.9 243z"/><path fill="#fe644c" d="M424.3 243.4L429.9 240.5 423.5 235.4 417.9 238.3z"/><path class="m" stroke="#541104" d="M419.5 253.9 427.6 249.3 435.6 245.2 429.6 240.4 423.5 235.7 415.5 239.8 407.5 244.4 413.5 249.1z"/><path fill="#fde476" d="M330.6 293L336.4 286.4 330.3 281.4 324.5 288z"/><path fill="#fde276" d="M324.9 288.3L330.7 281.7 324.6 276.7 318.8 283.2z"/><path fill="#fede76" d="M336.1 286.8L341.9 280.5 335.8 275.4 330 281.8z"/><path fill="#fedc76" d="M330.3 282.1L336.1 275.7 330 270.8 324.3 277.1z"/><path fill="#ffd976" d="M341.5 280.9L347.3 274.8 341.2 269.7 335.4 275.8z"/><path fill="#ffd675" d="M335.8 276.1L341.5 270.1 335.4 265.1 329.7 271.1z"/><path class="m" stroke="#544107" d="M330.6 292.7 338.8 283.5 347 274.8 341.2 270.1 335.4 265.4 327.3 274 319.2 283.2 324.9 287.9z"/><path fill="#86b824" d="M645.6 329.2L650.4 331.7 643.2 325.7 638.4 323.1z"/><path fill="#8cb922" d="M638.9 323.6L643.7 326.2 636.5 320.2 631.7 317.6z"/><path fill="#73b127" d="M650.3 331.8L655 334.6 647.8 328.6 643.1 325.8z"/><path fill="#79b225" d="M643.6 326.2L648.3 329.1 641.1 323.1 636.4 320.3z"/><path fill="#60aa29" d="M655 334.7L659.6 337.7 652.4 331.7 647.7 328.6z"/><path fill="#66aa28" d="M648.2 329.1L652.9 332.2 645.7 326.2 641.1 323.2z"/><path class="m" stroke="#334c10" d="M645.4 328.9 652.4 332.9 659.3 337.5 652.6 332 646 326.5 639 321.9 632 317.8 638.7 323.3z"/><path fill="#ff9267" d="M391.3 255.8L397.1 251.5 390.8 246.4 385 250.6z"/><path fill="#ff8d67" d="M385.4 251L391.1 246.8 384.9 241.8 379.1 246z"/><path fill="#ff8763" d="M396.8 251.8L402.5 247.8 396.1 242.8 390.4 246.7z"/><path fill="#ff8363" d="M390.8 247.1L396.5 243.1 390.2 238.1 384.5 242.1z"/><path fill="#ff7d5e" d="M402.1 248.2L407.9 244.4 401.5 239.4 395.8 243.1z"/><path fill="#ff785f" d="M396.2 243.5L401.9 239.8 395.6 234.7 389.9 238.4z"/><path class="m" stroke="#541504" d="M391.3 255.4 399.4 249.6 407.5 244.4 401.5 239.7 395.6 235.1 387.6 240.3 379.5 246 385.4 250.7z"/><path fill="#ff7d17" d="M520.4 262.3L525.8 262 519 256.5 513.6 256.8z"/><path fill="#ff7316" d="M514 257.3L519.4 256.9 512.7 251.5 507.3 251.9z"/><path fill="#ff8715" d="M525.5 262.2L530.9 262.1 524.1 256.6 518.8 256.7z"/><path fill="#ff7c14" d="M519.2 257.2L524.5 257 517.8 251.6 512.5 251.7z"/><path fill="#fd9214" d="M530.7 262.2L536 262.4 529.2 256.9 523.9 256.8z"/><path fill="#fd8713" d="M524.3 257.2L529.6 257.4 522.9 252 517.6 251.8z"/><path class="m" stroke="#542904" d="M520.3 262 528 261.8 535.6 262.2 529.3 257.2 523 252.3 515.3 251.9 507.7 252 514 257z"/><path fill="#ffd075" d="M347 275.2L352.8 269.3 346.6 264.3 340.8 270.1z"/><path fill="#ffcd74" d="M341.2 270.4L347 264.6 340.8 259.7 335.1 265.5z"/><path fill="#ffc874" d="M352.4 269.7L358.2 264.2 352 259.1 346.3 264.7z"/><path fill="#ffc373" d="M346.6 265L352.4 259.5 346.3 254.5 340.5 260z"/><path fill="#ffba72" d="M357.9 264.5L363.6 259.2 357.4 254.2 351.7 259.5z"/><path fill="#ffb472" d="M352.1 259.8L357.8 254.6 351.7 249.6 345.9 254.9z"/><path class="m" stroke="#543305" d="M347 274.8 355.1 266.7 363.3 259.2 357.5 254.6 351.7 250 343.6 257.4 335.4 265.4 341.2 270.1z"/><path fill="#ff5d20" d="M492.2 254.3L497.6 253.2 491 247.8 485.5 248.9z"/><path fill="#ff5520" d="M485.9 249.4L491.4 248.3 484.8 242.9 479.3 244.1z"/><path fill="#ff5e1c" d="M497.4 253.4L502.8 252.5 496.2 247.2 490.7 248z"/><path fill="#ff561c" d="M491.1 248.5L496.6 247.6 489.9 242.3 484.5 243.2z"/><path fill="#ff6118" d="M502.6 252.8L508 252.1 501.3 246.8 495.9 247.4z"/><path fill="#ff5918" d="M496.3 247.8L501.7 247.2 495.1 241.9 489.7 242.5z"/><path class="m" stroke="#541a04" d="M492.1 254 499.9 252.7 507.7 252 501.4 247.1 495.2 242.3 487.4 242.9 479.6 244.2 485.8 249.1z"/><path fill="#5edf83" d="M254.3 377.2L260 367.6 254.1 362.4 248.4 372.1z"/><path fill="#61df82" d="M248.8 372.3L254.5 362.7 248.7 357.6 243 367.2z"/><path fill="#71e27f" d="M259.6 368.1L265.3 358.7 259.5 353.6 253.8 362.9z"/><path fill="#73e27e" d="M254.1 363.1L259.8 353.8 254 348.7 248.4 358.1z"/><path fill="#82e57b" d="M265 359.1L270.7 350 264.9 344.9 259.2 354z"/><path fill="#84e57a" d="M259.5 354.3L265.2 345.1 259.4 340.1 253.7 349.2z"/><path class="m" stroke="#14471a" d="M254.2 376.9 262.3 363.2 270.4 350.1 264.9 345.3 259.4 340.5 251.4 353.5 243.3 367 248.8 371.9z"/><path fill="#f8aa15" d="M548.6 272.8L553.8 273.1 547 267.5 541.7 267.1z"/><path fill="#f8a314" d="M542.1 267.6L547.4 268 540.6 262.5 535.3 262.1z"/><path fill="#f2ae15" d="M553.6 273.3L558.8 273.9 552 268.3 546.8 267.7z"/><path fill="#f2a814" d="M547.2 268.2L552.4 268.8 545.6 263.3 540.4 262.6z"/><path fill="#ecb215" d="M558.6 274.1L563.8 275 557 269.4 551.8 268.5z"/><path fill="#ecad14" d="M552.2 269L557.4 269.9 550.6 264.3 545.4 263.5z"/><path class="m" stroke="#543b06" d="M548.5 272.4 556 273.3 563.5 274.8 557.1 269.7 550.7 264.7 543.2 263.2 535.6 262.2 542 267.3z"/><path fill="#92e878" d="M270.4 350.5L276.1 341.6 270.3 336.5 264.5 345.4z"/><path fill="#95e877" d="M264.9 345.6L270.6 336.7 264.8 331.7 259.1 340.6z"/><path fill="#a8ec75" d="M275.8 342L281.6 333.4 275.7 328.3 269.9 337z"/><path fill="#abec75" d="M270.3 337.2L276 328.6 270.1 323.6 264.4 332.2z"/><path fill="#bcef74" d="M281.2 333.9L287 325.5 281.1 320.4 275.3 328.8z"/><path fill="#c0f073" d="M275.7 329L281.4 320.7 275.5 315.7 269.8 324z"/><path class="m" stroke="#2b4b12" d="M270.4 350.1 278.5 337.6 286.6 325.6 281.1 320.8 275.5 316 267.4 328 259.4 340.5 264.9 345.3z"/><path fill="#ff5531" d="M463.9 248.7L469.5 246.8 462.9 241.5 457.4 243.4z"/><path fill="#fe5032" d="M457.7 243.9L463.3 242 456.8 236.8 451.2 238.7z"/><path fill="#ff512b" d="M469.2 247.1L474.7 245.4 468.2 240.2 462.6 241.8z"/><path fill="#fe4b2c" d="M463 242.2L468.5 240.6 462 235.4 456.5 237z"/><path fill="#ff4f26" d="M474.4 245.7L479.9 244.3 473.4 239 467.9 240.4z"/><path fill="#fe4826" d="M468.3 240.8L473.8 239.5 467.2 234.3 461.7 235.6z"/><path class="m" stroke="#541104" d="M463.9 248.4 471.8 246 479.6 244.2 473.4 239.4 467.3 234.6 459.5 236.4 451.6 238.7 457.7 243.5z"/><path fill="#45deb1" d="M238.2 406.1L243.8 395.8 238.1 390.6 232.4 400.9z"/><path fill="#46deae" d="M232.8 401.1L238.4 390.8 232.7 385.6 227.1 395.9z"/><path fill="#4dde9f" d="M243.5 396.2L249.2 386.1 243.4 380.9 237.8 391z"/><path fill="#4dde9d" d="M238.1 391.3L243.7 381.2 238 376 232.4 386.1z"/><path fill="#54de8f" d="M248.9 386.6L254.6 376.7 248.8 371.6 243.1 381.4z"/><path fill="#54de8d" d="M243.4 381.6L249.1 371.8 243.3 366.7 237.7 376.5z"/><path class="m" stroke="#07462a" d="M238.2 405.8 246.2 391.1 254.2 376.9 248.8 371.9 243.3 367 235.3 381.2 227.4 395.8 232.8 400.7z"/><path fill="#d0f372" d="M286.6 325.9L292.4 317.8 286.5 312.8 280.7 320.9z"/><path fill="#d2f371" d="M281.1 321.1L286.8 313 280.9 308.1 275.2 316.1z"/><path fill="#dbf172" d="M292.1 318.2L297.8 310.4 291.9 305.3 286.1 313.2z"/><path fill="#ddf072" d="M286.5 313.5L292.2 305.6 286.3 300.7 280.6 308.5z"/><path fill="#e6ef73" d="M297.5 310.8L303.2 303.2 297.3 298.2 291.5 305.8z"/><path fill="#e8ee73" d="M291.9 306L297.6 298.5 291.7 293.5 286 301.1z"/><path class="m" stroke="#434d0d" d="M286.6 325.6 294.8 314.1 302.9 303.2 297.3 298.5 291.7 293.9 283.6 304.7 275.5 316 281.1 320.8z"/><path fill="#e5bb19" d="M576.6 285.5L581.7 286.7 574.8 280.9 569.7 279.8z"/><path fill="#e5b717" d="M570.1 280.3L575.2 281.4 568.3 275.8 563.2 274.7z"/><path fill="#debd1a" d="M581.6 286.8L586.6 288.2 579.7 282.5 574.6 281.1z"/><path fill="#deb918" d="M575.1 281.6L580.1 283 573.2 277.3 568.2 275.9z"/><path fill="#d6be1b" d="M586.5 288.3L591.5 289.9 584.6 284.2 579.5 282.6z"/><path fill="#d7bb1a" d="M580 283.1L585 284.7 578.1 279.1 573.1 277.5z"/><path class="m" stroke="#534609" d="M576.5 285.2 583.9 287.2 591.2 289.8 584.7 284.6 578.2 279.4 570.9 276.8 563.5 274.8 570 280z"/><path fill="#34d6e7" d="M222.2 437.1L227.8 426 222.2 420.8 216.6 431.8z"/><path fill="#34d8e5" d="M216.9 432L222.5 421 216.8 415.8 211.2 426.8z"/><path fill="#37dfd7" d="M227.5 426.6L233.2 415.7 227.5 410.5 221.8 421.3z"/><path fill="#37ded4" d="M222.2 421.5L227.8 410.7 222.1 405.5 216.5 416.3z"/><path fill="#3edec3" d="M232.9 416.2L238.5 405.6 232.8 400.4 227.1 411z"/><path fill="#3fdec1" d="M227.5 411.2L233.1 400.6 227.4 395.4 221.8 406z"/><path class="m" stroke="#004743" d="M222.2 436.8 230.2 421 238.2 405.8 232.8 400.7 227.4 395.8 219.5 410.9 211.6 426.6 216.9 431.7z"/><path fill="#fe6045" d="M435.7 245.5L441.3 242.9 434.9 237.7 429.2 240.4z"/><path fill="#fd5b46" d="M429.6 240.8L435.2 238.1 428.8 233 423.2 235.7z"/><path fill="#fe583f" d="M441 243.1L446.6 240.7 440.2 235.6 434.6 238z"/><path fill="#fd5340" d="M434.9 238.4L440.5 236 434.1 230.9 428.5 233.3z"/><path fill="#fd5039" d="M446.3 241L451.9 238.8 445.4 233.7 439.9 235.8z"/><path fill="#fc4b39" d="M440.2 236.2L445.8 234.1 439.4 229 433.8 231.1z"/><path class="m" stroke="#530d04" d="M435.6 245.2 443.6 241.7 451.6 238.7 445.5 234 439.4 229.4 431.5 232.3 423.5 235.7 429.6 240.4z"/><path fill="#efec74" d="M302.9 303.6L308.7 296.2 302.7 291.3 296.9 298.6z"/><path fill="#f1ec74" d="M297.3 298.9L303 291.5 297.1 286.6 291.3 293.9z"/><path fill="#f8ea75" d="M308.3 296.7L314.1 289.6 308.1 284.6 302.3 291.7z"/><path fill="#faea75" d="M302.7 292L308.4 284.9 302.5 280 296.7 287z"/><path fill="#fde675" d="M313.8 290L319.5 283.1 313.5 278.2 307.8 285z"/><path fill="#fde575" d="M308.1 285.3L313.9 278.5 307.9 273.6 302.1 280.4z"/><path class="m" stroke="#51490a" d="M302.9 303.2 311 292.9 319.2 283.2 313.5 278.5 307.9 273.9 299.8 283.6 291.7 293.9 297.3 298.5z"/><path fill="#ffac70" d="M363.3 259.6L369 254.6 362.8 249.6 357.1 254.6z"/><path fill="#ffa770" d="M357.5 254.9L363.2 249.9 357 245 351.3 250z"/><path fill="#ff9e6d" d="M368.7 254.9L374.4 250.2 368.2 245.2 362.5 249.9z"/><path fill="#ff9a6d" d="M362.9 250.3L368.6 245.5 362.4 240.6 356.7 245.3z"/><path fill="#ff946b" d="M374.1 250.5L379.8 246 373.6 241 367.9 245.5z"/><path fill="#ff906b" d="M368.3 245.9L374 241.4 367.8 236.5 362.1 241z"/><path class="m" stroke="#541d03" d="M363.3 259.2 371.4 252.3 379.5 246 373.6 241.4 367.8 236.8 359.8 243.1 351.7 250 357.5 254.6z"/><path fill="#c1be1d" d="M604.5 300.7L609.5 302.5 602.4 296.7 597.5 294.8z"/><path fill="#c5bc1c" d="M597.9 295.3L602.9 297.2 595.9 291.4 590.9 289.6z"/><path fill="#b4bb1e" d="M609.3 302.6L614.3 304.7 607.2 298.9 602.3 296.8z"/><path fill="#b8ba1d" d="M602.8 297.3L607.7 299.4 600.7 293.7 595.8 291.6z"/><path fill="#a7b91f" d="M614.2 304.8L619 307.2 611.9 301.4 607.1 299z"/><path fill="#aab81e" d="M607.6 299.5L612.4 301.9 605.4 296.1 600.6 293.8z"/><path class="m" stroke="#494b0c" d="M604.3 300.4 611.6 303.4 618.7 307 612.1 301.7 605.6 296.4 598.5 292.8 591.2 289.8 597.8 295z"/><path fill="#fe7259" d="M407.5 244.7L413.2 241.3 406.9 236.2 401.2 239.7z"/><path fill="#fe6e59" d="M401.6 240.1L407.2 236.6 400.9 231.6 395.3 235z"/><path fill="#fe6953" d="M412.9 241.6L418.6 238.4 412.2 233.4 406.5 236.5z"/><path fill="#fd6454" d="M406.9 236.9L412.6 233.8 406.3 228.8 400.6 231.9z"/><path fill="#fd5f4d" d="M418.2 238.7L423.9 235.8 417.5 230.7 411.9 233.6z"/><path fill="#fc5b4e" d="M412.3 234L417.9 231.1 411.6 226.1 405.9 229z"/><path class="m" stroke="#530d04" d="M407.5 244.4 415.5 239.8 423.5 235.7 417.6 231.1 411.6 226.5 403.6 230.5 395.6 235.1 401.5 239.7z"/><path fill="#fee075" d="M319.2 283.5L325 277 318.9 272 313.2 278.6z"/><path fill="#fedf75" d="M313.5 278.9L319.3 272.3 313.3 267.5 307.5 274z"/><path fill="#ffdb75" d="M324.6 277.4L330.4 271.1 324.3 266.1 318.6 272.4z"/><path fill="#ffd974" d="M318.9 272.7L324.7 266.4 318.7 261.6 312.9 267.9z"/><path fill="#ffd375" d="M330 271.5L335.8 265.4 329.7 260.5 324 266.5z"/><path fill="#ffd074" d="M324.3 266.8L330.1 260.8 324 256 318.3 262z"/><path class="m" stroke="#543f07" d="M319.2 283.2 327.3 274 335.4 265.4 329.7 260.8 324.1 256.3 316 264.8 307.9 273.9 313.5 278.5z"/><path fill="#92b921" d="M632.2 318.1L637 320.7 629.8 314.8 625 312.2z"/><path fill="#96b820" d="M625.5 312.7L630.3 315.2 623.2 309.4 618.4 306.8z"/><path fill="#7fb224" d="M636.9 320.8L641.6 323.6 634.5 317.7 629.7 314.8z"/><path fill="#85b322" d="M630.2 315.3L635 318.2 627.9 312.3 623.1 309.5z"/><path fill="#6cab26" d="M641.6 323.6L646.2 326.7 639.1 320.8 634.4 317.7z"/><path fill="#72ac25" d="M634.9 318.2L639.6 321.3 632.5 315.4 627.8 312.4z"/><path class="m" stroke="#384d0f" d="M632 317.8 639 321.9 646 326.5 639.3 321.1 632.7 315.7 625.8 311.1 618.7 307 625.3 312.4z"/><path fill="#ff6815" d="M507.7 252.4L513.1 252 506.4 246.6 501.1 247z"/><path fill="#ff5e15" d="M501.5 247.4L506.8 247.1 500.2 241.8 494.8 242.1z"/><path fill="#ff7113" d="M512.9 252.2L518.2 252.1 511.5 246.7 506.2 246.8z"/><path fill="#ff6713" d="M506.6 247.3L511.9 247.2 505.3 241.9 500 242z"/><path fill="#fc7c12" d="M518 252.3L523.3 252.4 516.6 247.1 511.3 246.9z"/><path fill="#fc7111" d="M511.7 247.4L517 247.6 510.4 242.2 505.1 242.1z"/><path class="m" stroke="#542204" d="M507.7 252 515.3 251.9 523 252.3 516.7 247.4 510.5 242.6 502.8 242.1 495.2 242.3 501.4 247.1z"/><path fill="#ff8968" d="M379.5 246.4L385.2 242.1 379 237.2 373.3 241.4z"/><path fill="#ff8568" d="M373.7 241.7L379.4 237.5 373.2 232.6 367.5 236.8z"/><path fill="#ff7e64" d="M384.9 242.5L390.6 238.5 384.4 233.5 378.7 237.5z"/><path fill="#fe7b64" d="M379 237.9L384.7 233.9 378.5 229 372.8 232.9z"/><path fill="#fe745f" d="M390.3 238.8L396 235.1 389.7 230.2 384 233.9z"/><path fill="#fd7160" d="M384.4 234.2L390.1 230.6 383.9 225.7 378.2 229.3z"/><path class="m" stroke="#541104" d="M379.5 246 387.6 240.3 395.6 235.1 389.7 230.5 383.9 226 375.9 231.1 367.8 236.8 373.6 241.4z"/><path fill="#ff4e21" d="M479.7 244.5L485.2 243.4 478.6 238.1 473.1 239.3z"/><path fill="#ff4721" d="M473.5 239.7L479 238.6 472.4 233.4 467 234.5z"/><path fill="#ff4f1c" d="M484.9 243.6L490.3 242.8 483.8 237.5 478.3 238.4z"/><path fill="#ff481d" d="M478.7 238.8L484.1 238 477.6 232.8 472.2 233.6z"/><path fill="#ff5219" d="M490.1 243L495.5 242.4 488.9 237.1 483.5 237.7z"/><path fill="#ff4a19" d="M483.9 238.2L489.3 237.6 482.7 232.4 477.3 233z"/><path class="m" stroke="#541404" d="M479.6 244.2 487.4 242.9 495.2 242.3 489 237.5 482.8 232.7 475.1 233.4 467.3 234.6 473.4 239.4z"/><path fill="#ffca74" d="M335.5 265.8L341.2 260 335.1 255.1 329.4 260.9z"/><path fill="#ffc874" d="M329.7 261.2L335.5 255.4 329.4 250.6 323.7 256.3z"/><path fill="#ffbe73" d="M340.9 260.4L346.6 254.9 340.5 250 334.8 255.5z"/><path fill="#ffb973" d="M335.1 255.8L340.9 250.3 334.8 245.5 329.1 251z"/><path fill="#ffaf72" d="M346.3 255.2L352 250 345.9 245.1 340.2 250.3z"/><path fill="#ffaa71" d="M340.5 250.7L346.3 245.4 340.2 240.6 334.5 245.8z"/><path class="m" stroke="#542e04" d="M335.4 265.4 343.6 257.4 351.7 250 345.9 245.4 340.2 241 332.1 248.3 324.1 256.3 329.7 260.8z"/><path fill="#f79d13" d="M535.7 262.6L541 263 534.2 257.5 529 257.1z"/><path fill="#f79212" d="M529.4 257.6L534.6 258 527.9 252.5 522.7 252.1z"/><path fill="#f1a113" d="M540.8 263.1L546 263.8 539.2 258.3 534 257.7z"/><path fill="#f19b12" d="M534.4 258.1L539.7 258.8 532.9 253.4 527.7 252.7z"/><path fill="#eba613" d="M545.8 264L551 264.8 544.2 259.4 539 258.5z"/><path fill="#eba012" d="M539.5 259L544.6 259.9 537.9 254.4 532.7 253.5z"/><path class="m" stroke="#543705" d="M535.6 262.2 543.2 263.2 550.7 264.7 544.3 259.7 538 254.8 530.5 253.3 523 252.3 529.3 257.2z"/><path fill="#63e081" d="M243.3 367.4L249 357.8 243.3 352.8 237.6 362.4z"/><path fill="#66e080" d="M237.9 362.6L243.6 353 237.9 348.1 232.2 357.6z"/><path fill="#75e37d" d="M248.7 358.3L254.4 349 248.6 344 242.9 353.3z"/><path fill="#78e37c" d="M243.3 353.5L248.9 344.2 243.2 339.3 237.5 348.5z"/><path fill="#86e679" d="M254 349.4L259.7 340.3 253.9 335.4 248.3 344.4z"/><path fill="#89e678" d="M248.6 344.7L254.3 335.6 248.5 330.7 242.9 339.7z"/><path class="m" stroke="#164719" d="M243.3 367 251.4 353.5 259.4 340.5 253.9 335.7 248.5 331 240.5 344 232.6 357.5 237.9 362.2z"/><path fill="#99e976" d="M259.4 340.8L265.1 332 259.3 327 253.6 335.8z"/><path fill="#9cea75" d="M253.9 336.1L259.6 327.2 253.8 322.3 248.2 331.1z"/><path fill="#afed74" d="M264.8 332.4L270.5 323.8 264.6 318.9 259 327.5z"/><path fill="#b2ed73" d="M259.3 327.7L265 319.1 259.2 314.3 253.5 322.8z"/><path fill="#c3f172" d="M270.1 324.3L275.9 315.9 270 311 264.3 319.3z"/><path fill="#c7f171" d="M264.6 319.6L270.3 311.3 264.5 306.4 258.9 314.7z"/><path class="m" stroke="#2f4c11" d="M259.4 340.5 267.4 328 275.5 316 270 311.4 264.5 306.8 256.5 318.6 248.5 331 253.9 335.7z"/><path fill="#fd4a32" d="M451.6 239.1L457.2 237.2 450.7 232.1 445.1 233.9z"/><path fill="#fc4533" d="M445.5 234.4L451.1 232.5 444.6 227.4 439.1 229.3z"/><path fill="#fd462d" d="M456.9 237.5L462.4 235.8 455.9 230.7 450.4 232.3z"/><path fill="#fc402d" d="M450.8 232.7L456.3 231.1 449.9 226 444.3 227.6z"/><path fill="#fd4327" d="M462.1 236.1L467.6 234.7 461.1 229.6 455.6 230.9z"/><path fill="#fc3d28" d="M456 231.4L461.5 230 455.1 224.9 449.6 226.3z"/><path class="m" stroke="#530d04" d="M451.6 238.7 459.5 236.4 467.3 234.6 461.2 229.9 455.1 225.3 447.3 227 439.4 229.4 445.5 234z"/><path fill="#47deac" d="M227.4 396.1L233 385.8 227.3 380.7 221.7 391z"/><path fill="#47dea9" d="M222 391.2L227.6 380.9 222 375.9 216.4 386.2z"/><path fill="#4ede9a" d="M232.7 386.3L238.3 376.2 232.6 371.2 227 381.2z"/><path fill="#4ede98" d="M227.3 381.4L232.9 371.4 227.3 366.4 221.7 376.4z"/><path fill="#55de8a" d="M238 376.7L243.7 366.9 237.9 361.9 232.3 371.7z"/><path fill="#55dd88" d="M232.6 371.9L238.3 362.1 232.6 357.1 227 366.9z"/><path class="m" stroke="#074628" d="M227.4 395.8 235.3 381.2 243.3 367 237.9 362.2 232.6 357.5 224.6 371.5 216.7 386 222 390.9z"/><path fill="#d4f271" d="M275.5 316.4L281.2 308.3 275.4 303.4 269.7 311.5z"/><path fill="#d6f270" d="M270 311.7L275.7 303.7 269.9 298.8 264.2 306.9z"/><path fill="#dff072" d="M280.9 308.8L286.6 300.9 280.8 296 275 303.8z"/><path fill="#e1ef71" d="M275.4 304.1L281.1 296.3 275.3 291.5 269.6 299.3z"/><path fill="#eaed72" d="M286.3 301.4L292 293.8 286.1 288.9 280.4 296.5z"/><path fill="#ebed72" d="M280.8 296.7L286.5 289.2 280.6 284.4 274.9 291.9z"/><path class="m" stroke="#454c0d" d="M275.5 316 283.6 304.7 291.7 293.9 286.1 289.3 280.6 284.7 272.6 295.5 264.5 306.8 270 311.4z"/><path fill="#e5b316" d="M563.6 275.2L568.8 276.3 561.9 270.7 556.8 269.6z"/><path fill="#e5af15" d="M557.2 270L562.3 271.2 555.5 265.7 550.4 264.5z"/><path fill="#deb517" d="M568.6 276.4L573.7 277.8 566.8 272.2 561.7 270.8z"/><path fill="#deb116" d="M562.2 271.3L567.2 272.7 560.4 267.2 555.3 265.8z"/><path fill="#d7b719" d="M573.5 278L578.5 279.6 571.7 274 566.6 272.4z"/><path fill="#d7b317" d="M567.1 272.9L572.1 274.5 565.3 269 560.2 267.3z"/><path class="m" stroke="#534308" d="M563.5 274.8 570.9 276.8 578.2 279.4 571.8 274.3 565.4 269.3 558.1 266.7 550.7 264.7 557.1 269.7z"/><path fill="#fc5647" d="M423.6 236.1L429.2 233.4 422.8 228.4 417.2 231z"/><path fill="#fc5147" d="M417.6 231.4L423.2 228.8 416.9 223.8 411.3 226.4z"/><path fill="#fc4e40" d="M428.9 233.7L434.5 231.3 428.1 226.3 422.5 228.6z"/><path fill="#fb4941" d="M422.9 229.1L428.5 226.7 422.1 221.7 416.6 224.1z"/><path fill="#fc463a" d="M434.2 231.6L439.8 229.4 433.4 224.4 427.8 226.5z"/><path fill="#fb423a" d="M428.2 226.9L433.8 224.8 427.4 219.8 421.8 222z"/><path class="m" stroke="#530905" d="M423.5 235.7 431.5 232.3 439.4 229.4 433.4 224.7 427.4 220.2 419.5 223.1 411.6 226.5 417.6 231.1z"/><path fill="#34d9e3" d="M211.6 427L217.1 415.9 211.5 410.8 206 421.8z"/><path fill="#33dae1" d="M206.3 422L211.8 411 206.2 405.9 200.7 416.9z"/><path fill="#38ded2" d="M216.8 416.5L222.4 405.7 216.8 400.6 211.2 411.3z"/><path fill="#38decf" d="M211.5 411.5L217.1 400.7 211.5 395.7 205.9 406.4z"/><path fill="#3fdebe" d="M222.1 406.2L227.7 395.6 222 390.5 216.4 401.1z"/><path fill="#40debc" d="M216.8 401.3L222.4 390.7 216.7 385.7 211.2 396.2z"/><path class="m" stroke="#014641" d="M211.6 426.6 219.5 410.9 227.4 395.8 222 390.9 216.7 386 208.9 401.1 201 416.7 206.3 421.6z"/><path fill="#4da32c" d="M659.6 337.8L664.2 341.1 657 335.1 652.4 331.8z"/><path fill="#53a32b" d="M652.9 332.2L657.5 335.5 650.3 329.6 645.7 326.3z"/><path fill="#3f9d30" d="M664.2 341.1L668.7 344.6 661.5 338.7 656.9 335.1z"/><path fill="#439d2e" d="M657.5 335.6L662 339.1 654.8 333.2 650.3 329.6z"/><path fill="#329833" d="M668.7 344.6L673.2 348.4 665.9 342.5 661.5 338.7z"/><path fill="#369932" d="M662 339.1L666.5 342.9 659.3 337 654.8 333.2z"/><path class="m" stroke="#1e4916" d="M659.3 337.5 666.2 342.6 672.9 348.2 666.2 342.7 659.5 337.2 652.8 331.6 646 326.5 652.6 332z"/><path fill="#f3eb73" d="M291.7 294.2L297.4 286.9 291.5 282 285.8 289.3z"/><path fill="#f5eb73" d="M286.1 289.6L291.9 282.3 286 277.5 280.3 284.8z"/><path fill="#fce974" d="M297.1 287.3L302.8 280.3 296.9 275.4 291.2 282.5z"/><path fill="#fce874" d="M291.5 282.7L297.2 275.7 291.3 270.9 285.6 277.9z"/><path fill="#fde374" d="M302.5 280.7L308.2 273.9 302.3 269.1 296.6 275.8z"/><path fill="#fde274" d="M296.9 276.1L302.6 269.3 296.7 264.6 291 271.3z"/><path class="m" stroke="#53480a" d="M291.7 293.9 299.8 283.6 307.9 273.9 302.3 269.4 296.7 264.9 288.7 274.5 280.6 284.7 286.1 289.3z"/><path fill="#ffa26f" d="M351.7 250.3L357.4 245.3 351.3 240.5 345.6 245.4z"/><path fill="#ff9d6f" d="M345.9 245.8L351.6 240.8 345.6 236 339.9 241z"/><path fill="#ff966e" d="M357.1 245.7L362.8 241 356.7 236.1 350.9 240.8z"/><path fill="#ff926e" d="M351.3 241.2L357 236.5 350.9 231.7 345.2 236.3z"/><path fill="#ff8c6b" d="M362.5 241.3L368.2 236.9 362 232 356.3 236.4z"/><path fill="#ff886c" d="M356.7 236.8L362.4 232.4 356.3 227.6 350.6 232z"/><path class="m" stroke="#541904" d="M351.7 250 359.8 243.1 367.8 236.8 362 232.3 356.3 227.9 348.3 234.1 340.2 241 345.9 245.4z"/><path fill="#c9bb1b" d="M591.4 290.1L596.3 291.9 589.4 286.2 584.4 284.4z"/><path fill="#ccba1b" d="M584.9 284.9L589.8 286.7 582.9 281.1 577.9 279.2z"/><path fill="#bbb91c" d="M596.2 292.1L601.1 294.2 594.2 288.5 589.3 286.4z"/><path fill="#beb71b" d="M589.7 286.9L594.6 289 587.7 283.3 582.8 281.2z"/><path fill="#aeb61d" d="M601 294.3L605.9 296.6 598.9 290.9 594.1 288.6z"/><path fill="#b1b51c" d="M594.5 289.1L599.4 291.4 592.5 285.8 587.6 283.4z"/><path class="m" stroke="#4c4a0b" d="M591.2 289.8 598.5 292.8 605.6 296.4 599.1 291.2 592.6 286.1 585.5 282.5 578.2 279.4 584.7 284.6z"/><path fill="#fd6a5a" d="M395.6 235.4L401.3 232 395 227.1 389.4 230.5z"/><path fill="#fc675a" d="M389.7 230.9L395.4 227.5 389.2 222.6 383.5 226z"/><path fill="#fc6054" d="M401 232.3L406.6 229.2 400.4 224.2 394.7 227.4z"/><path fill="#fc5c55" d="M395.1 227.8L400.7 224.6 394.5 219.7 388.9 222.9z"/><path fill="#fb564e" d="M406.3 229.5L411.9 226.6 405.7 221.6 400 224.5z"/><path fill="#fb554e" d="M400.4 224.9L406 222 399.8 217.1 394.2 220z"/><path class="m" stroke="#530905" d="M395.6 235.1 403.6 230.5 411.6 226.5 405.7 222 399.8 217.5 391.9 221.5 383.9 226 389.7 230.5z"/><path fill="#fedd74" d="M307.9 274.3L313.6 267.8 307.7 262.9 301.9 269.5z"/><path fill="#fedc74" d="M302.3 269.8L308 263.2 302.1 258.5 296.4 265z"/><path fill="#ffd774" d="M313.3 268.2L319 261.9 313 257.1 307.3 263.3z"/><path fill="#ffd474" d="M307.7 263.6L313.4 257.4 307.4 252.6 301.7 258.9z"/><path fill="#ffce74" d="M318.7 262.3L324.4 256.3 318.4 251.5 312.7 257.5z"/><path fill="#ffcb73" d="M313.1 257.8L318.8 251.8 312.8 247.1 307.1 253z"/><path class="m" stroke="#543d06" d="M307.9 273.9 316 264.8 324.1 256.3 318.4 251.8 312.8 247.4 304.8 255.9 296.7 264.9 302.3 269.4z"/><path fill="#99b71f" d="M618.9 307.3L623.7 309.9 616.6 304.1 611.9 301.5z"/><path fill="#9db51f" d="M612.3 302L617.1 304.6 610.1 298.8 605.3 296.2z"/><path fill="#8bb421" d="M623.6 309.9L628.4 312.8 621.3 307 616.6 304.2z"/><path fill="#8fb320" d="M617.1 304.6L621.8 307.5 614.8 301.8 610 298.9z"/><path fill="#78ad23" d="M628.3 312.8L633 315.9 625.9 310.1 621.2 307.1z"/><path fill="#7dad22" d="M621.8 307.5L626.4 310.6 619.4 304.9 614.7 301.8z"/><path class="m" stroke="#3e4e0e" d="M618.7 307 625.8 311.1 632.7 315.7 626.2 310.4 619.6 305.2 612.7 300.5 605.6 296.4 612.1 301.7z"/><path fill="#ff5715" d="M495.2 242.6L500.6 242.3 494 237 488.6 237.3z"/><path fill="#ff4f16" d="M489 237.8L494.4 237.5 487.9 232.3 482.5 232.6z"/><path fill="#ff5d12" d="M500.4 242.5L505.7 242.4 499.1 237.1 493.8 237.2z"/><path fill="#ff5613" d="M494.2 237.7L499.5 237.6 492.9 232.4 487.6 232.5z"/><path fill="#fb6611" d="M505.5 242.6L510.8 242.7 504.2 237.5 498.9 237.3z"/><path fill="#fa5c10" d="M499.3 237.8L504.6 238 498 232.8 492.7 232.6z"/><path class="m" stroke="#541c03" d="M495.2 242.3 502.8 242.1 510.5 242.6 504.3 237.8 498.1 233.1 490.5 232.7 482.8 232.7 489 237.5z"/><path fill="#ff8168" d="M367.8 237.2L373.5 233 367.4 228.1 361.7 232.3z"/><path fill="#fe7e69" d="M362.1 232.7L367.7 228.5 361.6 223.7 355.9 227.9z"/><path fill="#fe7765" d="M373.2 233.3L378.9 229.4 372.7 224.6 367 228.5z"/><path fill="#fd7465" d="M367.4 228.8L373.1 224.9 366.9 220.1 361.3 224.1z"/><path fill="#fd6d60" d="M378.6 229.7L384.2 226.1 378 221.2 372.4 224.9z"/><path fill="#fc6961" d="M372.8 225.3L378.4 221.6 372.3 216.8 366.6 220.5z"/><path class="m" stroke="#530d04" d="M367.8 236.8 375.9 231.1 383.9 226 378.1 221.6 372.3 217.2 364.3 222.3 356.3 227.9 362 232.3z"/><path fill="#fe4122" d="M467.4 235L472.8 233.9 466.3 228.7 460.9 229.8z"/><path fill="#fd3b23" d="M461.2 230.3L466.7 229.2 460.3 224.1 454.8 225.2z"/><path fill="#fe411e" d="M472.6 234.1L478 233.2 471.5 228.1 466.1 228.9z"/><path fill="#fd3b1e" d="M466.4 229.4L471.9 228.6 465.4 223.5 460 224.3z"/><path fill="#ff431a" d="M477.7 233.5L483.1 232.9 476.6 227.7 471.2 228.3z"/><path fill="#fe3d1a" d="M471.6 228.8L477 228.2 470.6 223.1 465.1 223.7z"/><path class="m" stroke="#541004" d="M467.3 234.6 475.1 233.4 482.8 232.7 476.7 228.1 470.6 223.5 462.9 224.1 455.1 225.3 461.2 229.9z"/><path fill="#ffc373" d="M324.1 256.7L329.8 250.9 323.8 246.1 318.1 251.9z"/><path fill="#ffbe73" d="M318.4 252.2L324.1 246.4 318.2 241.7 312.5 247.4z"/><path fill="#ffb472" d="M329.5 251.3L335.2 245.8 329.2 241 323.4 246.5z"/><path fill="#ffaf72" d="M323.8 246.8L329.5 241.4 323.5 236.6 317.8 242.1z"/><path fill="#ffa671" d="M334.8 246.2L340.6 240.9 334.5 236.2 328.8 241.4z"/><path fill="#ffa171" d="M329.2 241.7L334.9 236.5 328.9 231.8 323.2 237z"/><path class="m" stroke="#542804" d="M324.1 256.3 332.1 248.3 340.2 241 334.5 236.5 328.9 232.2 320.9 239.5 312.8 247.4 318.4 251.8z"/><path fill="#f68711" d="M523.1 252.6L528.3 253 521.6 247.7 516.4 247.3z"/><path fill="#f67c11" d="M516.8 247.7L522.1 248.1 515.4 242.8 510.1 242.4z"/><path fill="#f09211" d="M528.1 253.2L533.3 253.9 526.6 248.5 521.4 247.8z"/><path fill="#ef8810" d="M521.8 248.3L527.1 249 520.4 243.7 515.2 243z"/><path fill="#ea9a11" d="M533.1 254L538.3 254.9 531.6 249.6 526.4 248.7z"/><path fill="#ea9410" d="M526.9 249.2L532 250.1 525.4 244.8 520.2 243.9z"/><path class="m" stroke="#543105" d="M523 252.3 530.5 253.3 538 254.8 531.7 249.9 525.5 245.1 518 243.6 510.5 242.6 516.7 247.4z"/><path fill="#fb4034" d="M439.5 229.7L445 227.8 438.6 222.8 433.1 224.7z"/><path fill="#fb3c34" d="M433.5 225.1L439 223.2 432.6 218.3 427.1 220.1z"/><path fill="#fb3b2e" d="M444.7 228.1L450.3 226.5 443.8 221.4 438.3 223z"/><path fill="#fb372e" d="M438.7 223.5L444.2 221.9 437.9 216.9 432.3 218.5z"/><path fill="#fb3728" d="M450 226.7L455.5 225.4 449 220.4 443.6 221.7z"/><path fill="#fb3229" d="M443.9 222.1L449.4 220.8 443.1 215.8 437.6 217.2z"/><path class="m" stroke="#530905" d="M439.4 229.4 447.3 227 455.1 225.3 449.1 220.7 443.1 216.2 435.3 217.9 427.4 220.2 433.4 224.7z"/><path fill="#68e07f" d="M232.6 357.8L238.2 348.3 232.5 343.4 226.9 352.9z"/><path fill="#6ae17e" d="M227.2 353.1L232.9 343.6 227.2 338.8 221.6 348.3z"/><path fill="#7ae47b" d="M237.9 348.8L243.5 339.5 237.8 334.6 232.2 343.9z"/><path fill="#7ce47a" d="M232.5 344.1L238.2 334.8 232.5 330 226.9 339.2z"/><path fill="#8be777" d="M243.2 340L248.8 330.9 243.1 326.1 237.5 335.1z"/><path fill="#8de776" d="M237.8 335.3L243.5 326.3 237.8 321.5 232.2 330.5z"/><path class="m" stroke="#184818" d="M232.6 357.5 240.5 344 248.5 331 243.1 326.4 237.8 321.8 229.9 334.7 221.9 348.1 227.2 352.8z"/><path fill="#a0ea74" d="M248.5 331.4L254.2 322.6 248.5 317.7 242.8 326.5z"/><path fill="#a3eb74" d="M243.1 326.8L248.8 318 243.1 313.2 237.5 322z"/><path fill="#b5ee72" d="M253.9 323L259.5 314.5 253.8 309.7 248.1 318.2z"/><path fill="#b9ef71" d="M248.5 318.4L254.1 309.9 248.4 305.2 242.8 313.7z"/><path fill="#caf270" d="M259.2 315L264.9 306.7 259.1 301.9 253.4 310.1z"/><path fill="#cdf26f" d="M253.8 310.4L259.4 302.1 253.7 297.4 248.1 305.6z"/><path class="m" stroke="#324c11" d="M248.5 331 256.5 318.6 264.5 306.8 259.1 302.2 253.7 297.7 245.7 309.5 237.8 321.8 243.1 326.4z"/><path fill="#48dea7" d="M216.7 386.4L222.3 376.1 216.7 371.2 211.1 381.4z"/><path fill="#48dea4" d="M211.5 381.6L217 371.4 211.4 366.5 205.9 376.7z"/><path fill="#4fdd95" d="M222 376.6L227.6 366.6 222 361.7 216.4 371.7z"/><path fill="#50dd93" d="M216.7 371.9L222.3 361.9 216.7 357 211.1 367z"/><path fill="#56dd85" d="M227.3 367.1L232.9 357.3 227.2 352.4 221.6 362.2z"/><path fill="#57dd83" d="M222 362.4L227.6 352.6 221.9 347.8 216.4 357.5z"/><path class="m" stroke="#084626" d="M216.7 386 224.6 371.5 232.6 357.5 227.2 352.8 221.9 348.1 214.1 362.1 206.2 376.5 211.5 381.3z"/><path fill="#e5ac14" d="M550.8 265L555.9 266.1 549.1 260.7 544 259.5z"/><path fill="#e5a613" d="M544.4 260L549.6 261.2 542.8 255.8 537.7 254.6z"/><path fill="#dead15" d="M555.8 266.3L560.8 267.7 554.1 262.2 549 260.8z"/><path fill="#deaa14" d="M549.4 261.3L554.5 262.7 547.7 257.3 542.7 255.9z"/><path fill="#d7b016" d="M560.7 267.8L565.7 269.5 558.9 264 553.9 262.4z"/><path fill="#d8ac15" d="M554.3 262.9L559.4 264.5 552.6 259.1 547.6 257.5z"/><path class="m" stroke="#544107" d="M550.7 264.7 558.1 266.7 565.4 269.3 559.1 264.3 552.8 259.4 545.4 256.8 538 254.8 544.3 259.7z"/><path fill="#d8f170" d="M264.5 307.1L270.2 299.1 264.4 294.3 258.8 302.3z"/><path fill="#daf170" d="M259.1 302.6L264.8 294.5 259 289.8 253.4 297.8z"/><path fill="#e3ef71" d="M269.9 299.5L275.6 291.7 269.8 287 264.1 294.7z"/><path fill="#e5ee70" d="M264.5 295L270.1 287.2 264.4 282.5 258.7 290.3z"/><path fill="#edec72" d="M275.3 292.2L281 284.6 275.1 279.9 269.5 287.4z"/><path fill="#efec71" d="M269.8 287.7L275.5 280.2 269.7 275.5 264 282.9z"/><path class="m" stroke="#474c0c" d="M264.5 306.8 272.6 295.5 280.6 284.7 275.1 280.2 269.7 275.8 261.7 286.5 253.7 297.7 259.1 302.2z"/><path fill="#59a429" d="M646.2 326.7L650.8 330.1 643.7 324.2 639 320.9z"/><path fill="#5fa528" d="M639.6 321.3L644.2 324.6 637.1 318.8 632.4 315.5z"/><path fill="#469d2c" d="M650.8 330.1L655.3 333.6 648.2 327.8 643.6 324.2z"/><path fill="#4c9e2b" d="M644.2 324.7L648.7 328.2 641.6 322.4 637 318.8z"/><path fill="#3a9930" d="M655.3 333.6L659.8 337.4 652.7 331.6 648.2 327.8z"/><path fill="#3e9a2f" d="M648.7 328.2L653.2 332 646.1 326.2 641.6 322.4z"/><path class="m" stroke="#224914" d="M646 326.5 652.8 331.6 659.5 337.2 652.9 331.8 646.3 326.4 639.6 320.8 632.7 315.7 639.3 321.1z"/><path fill="#fb4f48" d="M411.6 226.8L417.2 224.2 410.9 219.3 405.3 221.9z"/><path fill="#fb4e48" d="M405.7 222.3L411.3 219.7 405.1 214.8 399.5 217.4z"/><path fill="#fb4841" d="M416.9 224.5L422.5 222.1 416.2 217.2 410.6 219.5z"/><path fill="#fb4741" d="M411 220L416.6 217.6 410.3 212.7 404.8 215.1z"/><path fill="#fb413a" d="M422.2 222.4L427.8 220.3 421.5 215.4 415.9 217.5z"/><path fill="#fb403b" d="M416.3 217.9L421.8 215.8 415.6 210.9 410 213z"/><path class="m" stroke="#520805" d="M411.6 226.5 419.5 223.1 427.4 220.2 421.5 215.7 415.6 211.3 407.7 214.1 399.8 217.5 405.7 222z"/><path fill="#33dbdf" d="M201 417L206.5 406.1 201 401.1 195.5 412z"/><path fill="#33dcdd" d="M195.8 412.2L201.3 401.2 195.8 396.3 190.3 407.2z"/><path fill="#39decd" d="M206.2 406.6L211.8 395.9 206.2 390.9 200.7 401.6z"/><path fill="#3adeca" d="M201 401.8L206.5 391.1 201 386.1 195.5 396.8z"/><path fill="#40deb9" d="M211.5 396.4L217 385.9 211.5 380.9 205.9 391.4z"/><path fill="#41deb7" d="M206.2 391.6L211.8 381.1 206.2 376.2 200.7 386.6z"/><path class="m" stroke="#01463f" d="M201 416.7 208.9 401.1 216.7 386 211.5 381.3 206.2 376.5 198.4 391.5 190.6 407 195.8 411.8z"/><path fill="#f7ea73" d="M280.6 285.1L286.3 277.8 280.5 273.1 274.8 280.3z"/><path fill="#f8ea72" d="M275.1 280.6L280.8 273.3 275 268.7 269.4 275.9z"/><path fill="#fce673" d="M286 278.2L291.7 271.2 285.8 266.5 280.1 273.5z"/><path fill="#fde573" d="M280.5 273.8L286.2 266.8 280.4 262.1 274.7 269.1z"/><path fill="#fee073" d="M291.4 271.6L297.1 264.9 291.2 260.2 285.5 266.9z"/><path fill="#fedf73" d="M285.8 267.2L291.5 260.4 285.7 255.8 280 262.5z"/><path class="m" stroke="#534709" d="M280.6 284.7 288.7 274.5 296.7 264.9 291.2 260.5 285.7 256.1 277.7 265.7 269.7 275.8 275.1 280.2z"/><path fill="#cfb81a" d="M578.4 279.7L583.4 281.6 576.5 276 571.5 274.1z"/><path fill="#d1b619" d="M572 274.6L576.9 276.5 570.1 271 565.1 269.1z"/><path fill="#c2b61b" d="M583.3 281.7L588.2 283.8 581.3 278.3 576.4 276.1z"/><path fill="#c5b41a" d="M576.8 276.6L581.7 278.8 574.9 273.2 570 271.1z"/><path fill="#b4b41b" d="M588.1 283.9L592.9 286.3 586 280.7 581.2 278.4z"/><path fill="#b7b21b" d="M581.6 278.9L586.5 281.2 579.7 275.7 574.8 273.3z"/><path class="m" stroke="#4f490b" d="M578.2 279.4 585.5 282.5 592.6 286.1 586.2 281 579.8 276 572.7 272.4 565.4 269.3 571.8 274.3z"/><path fill="#ff9970" d="M340.2 241.3L345.9 236.3 339.9 231.6 334.2 236.5z"/><path fill="#ff9670" d="M334.5 236.9L340.2 231.9 334.2 227.2 328.5 232.2z"/><path fill="#ff8f6e" d="M345.6 236.7L351.3 232 345.2 227.3 339.5 231.9z"/><path fill="#ff8b6e" d="M339.9 232.3L345.6 227.6 339.6 222.9 333.9 227.6z"/><path fill="#ff846c" d="M351 232.4L356.6 227.9 350.6 223.2 344.9 227.6z"/><path fill="#fe816c" d="M345.3 228L350.9 223.5 344.9 218.9 339.2 223.3z"/><path class="m" stroke="#541504" d="M340.2 241 348.3 234.1 356.3 227.9 350.6 223.5 344.9 219.2 336.9 225.4 328.9 232.2 334.5 236.5z"/><path fill="#fc635b" d="M383.9 226.4L389.6 223 383.4 218.1 377.7 221.5z"/><path fill="#fb615b" d="M378.1 221.9L383.7 218.5 377.6 213.8 371.9 217.1z"/><path fill="#fb5b55" d="M389.2 223.3L394.9 220.1 388.7 215.3 383 218.4z"/><path fill="#fb5a55" d="M383.4 218.8L389 215.7 382.9 210.9 377.2 214.1z"/><path fill="#fb544e" d="M394.5 220.4L400.2 217.6 393.9 212.7 388.3 215.6z"/><path fill="#fb534f" d="M388.7 216L394.3 213.1 388.1 208.4 382.5 211.2z"/><path class="m" stroke="#520805" d="M383.9 226 391.9 221.5 399.8 217.5 394 213.1 388.2 208.7 380.2 212.7 372.3 217.2 378.1 221.6z"/><path fill="#ffda73" d="M296.7 265.3L302.4 258.8 296.5 254.1 290.9 260.6z"/><path fill="#ffd973" d="M291.2 260.9L296.9 254.4 291 249.7 285.4 256.2z"/><path fill="#ffd273" d="M302.1 259.2L307.8 252.9 301.9 248.3 296.2 254.5z"/><path fill="#ffcf73" d="M296.6 254.8L302.3 248.6 296.4 243.9 290.7 250.1z"/><path fill="#ffc973" d="M307.5 253.3L313.2 247.4 307.2 242.7 301.6 248.6z"/><path fill="#ffc572" d="M301.9 249L307.6 243 301.7 238.4 296 244.3z"/><path class="m" stroke="#543a06" d="M296.7 264.9 304.8 255.9 312.8 247.4 307.3 243 301.7 238.7 293.7 247.1 285.7 256.1 291.2 260.5z"/><path fill="#a0b41e" d="M605.8 296.7L610.6 299.3 603.6 293.6 598.8 291z"/><path fill="#a3b31d" d="M599.3 291.5L604.1 294.1 597.2 288.5 592.4 285.9z"/><path fill="#93b21f" d="M610.5 299.4L615.3 302.2 608.3 296.6 603.5 293.7z"/><path fill="#96b11e" d="M604 294.2L608.8 297 601.8 291.4 597.1 288.6z"/><path fill="#83ae21" d="M615.2 302.3L619.9 305.4 612.9 299.7 608.2 296.6z"/><path fill="#88af1f" d="M608.7 297.1L613.4 300.2 606.5 294.6 601.8 291.5z"/><path class="m" stroke="#414d0d" d="M605.6 296.4 612.7 300.5 619.6 305.2 613.2 300 606.7 294.9 599.7 290.2 592.6 286.1 599.1 291.2z"/><path fill="#ff4816" d="M482.9 233.1L488.3 232.8 481.7 227.6 476.4 227.9z"/><path fill="#ff4017" d="M476.8 228.4L482.1 228.1 475.7 223 470.3 223.3z"/><path fill="#ff4e13" d="M488 233L493.3 232.9 486.8 227.7 481.5 227.8z"/><path fill="#ff4714" d="M481.9 228.3L487.2 228.2 480.7 223.1 475.4 223.2z"/><path fill="#fa5510" d="M493.1 233.1L498.4 233.3 491.9 228.1 486.6 227.9z"/><path fill="#f94d11" d="M487 228.4L492.3 228.6 485.8 223.5 480.5 223.3z"/><path class="m" stroke="#541604" d="M482.8 232.7 490.5 232.7 498.1 233.1 492 228.5 485.9 223.9 478.3 223.4 470.6 223.5 476.7 228.1z"/><path fill="#fc3523" d="M455.2 225.6L460.6 224.5 454.2 219.5 448.8 220.6z"/><path fill="#fb3024" d="M449.1 221L454.6 220 448.2 215 442.8 216.1z"/><path fill="#fc351f" d="M460.4 224.8L465.8 223.9 459.4 218.9 454 219.7z"/><path fill="#fb2f1f" d="M454.3 220.2L459.8 219.4 453.4 214.4 448 215.2z"/><path fill="#fd371b" d="M465.5 224.2L470.9 223.6 464.5 218.6 459.1 219.1z"/><path fill="#fc311b" d="M459.5 219.6L464.9 219 458.5 214.1 453.1 214.6z"/><path class="m" stroke="#530b05" d="M455.1 225.3 462.9 224.1 470.6 223.5 464.6 218.9 458.6 214.4 450.9 215 443.1 216.2 449.1 220.7z"/><path fill="#fe7a69" d="M356.3 228.3L362 224.1 355.9 219.4 350.2 223.5z"/><path fill="#fd776a" d="M350.6 223.9L356.3 219.7 350.2 215.1 344.6 219.2z"/><path fill="#fc7065" d="M361.6 224.4L367.3 220.5 361.2 215.8 355.6 219.7z"/><path fill="#fc6d66" d="M355.9 220.1L361.6 216.2 355.5 211.5 349.9 215.4z"/><path fill="#fc6761" d="M367 220.8L372.6 217.2 366.5 212.5 360.9 216.1z"/><path fill="#fc6661" d="M361.3 216.5L366.9 212.9 360.8 208.2 355.2 211.8z"/><path class="m" stroke="#530905" d="M356.3 227.9 364.3 222.3 372.3 217.2 366.5 212.8 360.8 208.6 352.9 213.6 344.9 219.2 350.6 223.5z"/><path fill="#f57110" d="M510.5 242.9L515.8 243.3 509.2 238.1 503.9 237.7z"/><path fill="#f4670f" d="M504.3 238.2L509.6 238.6 503 233.4 497.8 233z"/><path fill="#ef7e10" d="M515.6 243.5L520.8 244.2 514.2 238.9 509 238.3z"/><path fill="#ee730f" d="M509.4 238.8L514.6 239.4 508 234.2 502.8 233.6z"/><path fill="#e98b10" d="M520.6 244.4L525.8 245.3 519.2 240 514 239.1z"/><path fill="#e8810f" d="M514.4 239.6L519.6 240.5 513 235.3 507.8 234.4z"/><path class="m" stroke="#542a04" d="M510.5 242.6 518 243.6 525.5 245.1 519.3 240.4 513.1 235.7 505.6 234.1 498.1 233.1 504.3 237.8z"/><path fill="#ffba73" d="M312.8 247.8L318.5 242 312.6 237.4 306.9 243.1z"/><path fill="#ffb572" d="M307.3 243.4L313 237.7 307.1 233.1 301.4 238.8z"/><path fill="#ffab72" d="M318.2 242.4L323.9 237 317.9 232.3 312.3 237.7z"/><path fill="#ffa671" d="M312.6 238.1L318.3 232.6 312.4 228 306.7 233.5z"/><path fill="#ff9d71" d="M323.5 237.3L329.2 232.1 323.3 227.5 317.6 232.7z"/><path fill="#ff9a71" d="M318 233L323.6 227.8 317.7 223.2 312 228.4z"/><path class="m" stroke="#542304" d="M312.8 247.4 320.9 239.5 328.9 232.2 323.3 227.8 317.7 223.6 309.7 230.9 301.7 238.7 307.3 243z"/><path fill="#fb3b34" d="M427.5 220.5L433 218.7 426.7 213.8 421.2 215.6z"/><path fill="#fa3a34" d="M421.5 216L427.1 214.2 420.8 209.3 415.3 211.2z"/><path fill="#fa362e" d="M432.7 219L438.2 217.4 431.9 212.4 426.4 214z"/><path fill="#fa352e" d="M426.8 214.5L432.3 212.9 426 208 420.5 209.6z"/><path fill="#fa3129" d="M438 217.6L443.4 216.3 437.1 211.4 431.6 212.7z"/><path fill="#fa3029" d="M432 213.1L437.5 211.8 431.2 207 425.7 208.3z"/><path class="m" stroke="#520705" d="M427.4 220.2 435.3 217.9 443.1 216.2 437.2 211.7 431.2 207.3 423.4 209 415.6 211.3 421.5 215.7z"/><path fill="#6ce17d" d="M221.9 348.5L227.5 339 221.9 334.2 216.4 343.7z"/><path fill="#6ee17d" d="M216.7 343.9L222.3 334.4 216.7 329.7 211.1 339.1z"/><path fill="#7ee479" d="M227.2 339.5L232.8 330.2 227.2 325.5 221.6 334.7z"/><path fill="#80e578" d="M221.9 334.9L227.5 325.7 221.9 321 216.4 330.2z"/><path fill="#8fe775" d="M232.5 330.7L238.1 321.7 232.5 317 226.9 325.9z"/><path fill="#92e875" d="M227.2 326.2L232.8 317.2 227.2 312.5 221.6 321.5z"/><path class="m" stroke="#1a4817" d="M221.9 348.1 229.9 334.7 237.8 321.8 232.5 317.3 227.2 312.9 219.3 325.7 211.5 339 216.7 343.5z"/><path fill="#a6eb73" d="M237.8 322.2L243.4 313.4 237.8 308.7 232.1 317.4z"/><path fill="#a9ec72" d="M232.5 317.7L238.1 308.9 232.5 304.3 226.9 313z"/><path fill="#bcef71" d="M243.1 313.9L248.7 305.4 243.1 300.7 237.4 309.2z"/><path fill="#bff070" d="M237.8 309.4L243.4 300.9 237.7 296.3 232.1 304.7z"/><path fill="#d0f36f" d="M248.4 305.9L254 297.6 248.4 292.9 242.7 301.2z"/><path fill="#d2f26e" d="M243.1 301.4L248.7 293.2 243 288.5 237.4 296.8z"/><path class="m" stroke="#354d10" d="M237.8 321.8 245.7 309.5 253.7 297.7 248.4 293.3 243 288.9 235.1 300.6 227.2 312.9 232.5 317.3z"/><path fill="#e4a012" d="M538.1 255.1L543.3 256.3 536.6 250.9 531.4 249.7z"/><path fill="#e49a11" d="M531.8 250.2L537 251.4 530.3 246.1 525.2 244.9z"/><path fill="#dea613" d="M543.1 256.4L548.2 257.8 541.5 252.5 536.4 251.1z"/><path fill="#dea112" d="M536.8 251.5L541.9 253 535.2 247.7 530.1 246.3z"/><path fill="#d8a914" d="M548 258L553.1 259.6 546.3 254.2 541.3 252.6z"/><path fill="#d8a513" d="M541.7 253.1L546.8 254.7 540.1 249.5 535 247.8z"/><path class="m" stroke="#543e06" d="M538 254.8 545.4 256.8 552.8 259.4 546.5 254.6 540.2 249.8 532.9 247.2 525.5 245.1 531.7 249.9z"/><path fill="#49dda2" d="M206.2 376.9L211.8 366.7 206.2 361.8 200.7 372z"/><path fill="#49dda0" d="M201 372.2L206.5 362 201 357.3 195.5 367.4z"/><path fill="#50dd91" d="M211.4 367.2L217 357.2 211.4 352.4 205.9 362.3z"/><path fill="#51dd8e" d="M206.2 362.5L211.8 352.6 206.2 347.8 200.7 357.8z"/><path fill="#59de82" d="M216.7 357.7L222.3 348 216.7 343.2 211.1 352.9z"/><path fill="#5bde81" d="M211.4 353.1L217 343.4 211.5 338.7 205.9 348.3z"/><path class="m" stroke="#084624" d="M206.2 376.5 214.1 362.1 221.9 348.1 216.7 343.5 211.5 339 203.6 352.9 195.8 367.3 201 371.9z"/><path fill="#64a626" d="M633 316L637.6 319.3 630.5 313.5 625.9 310.2z"/><path fill="#6aa625" d="M626.4 310.7L631 314 624 308.3 619.4 305z"/><path fill="#519f29" d="M637.6 319.3L642.1 322.9 635 317.1 630.5 313.5z"/><path fill="#579f28" d="M631 314L635.6 317.6 628.5 311.9 624 308.3z"/><path fill="#429b2d" d="M642.1 322.8L646.6 326.7 639.5 320.9 635 317.1z"/><path fill="#459b2c" d="M635.6 317.5L640.1 321.4 633 315.7 628.5 311.9z"/><path class="m" stroke="#274a13" d="M632.7 315.7 639.6 320.8 646.3 326.4 639.8 321.1 633.3 315.9 626.5 310.3 619.6 305.2 626.2 310.4z"/><path fill="#dcf06f" d="M253.7 298.1L259.4 290.1 253.7 285.4 248 293.4z"/><path fill="#def06f" d="M248.4 293.6L254 285.7 248.3 281 242.7 289z"/><path fill="#e7ee70" d="M259 290.5L264.7 282.8 259 278.1 253.3 285.8z"/><path fill="#e8ed70" d="M253.7 286.1L259.3 278.4 253.6 273.8 248 281.5z"/><path fill="#f1eb71" d="M264.4 283.2L270 275.7 264.3 271.1 258.6 278.6z"/><path fill="#f3eb71" d="M259 278.8L264.6 271.4 258.9 266.8 253.3 274.2z"/><path class="m" stroke="#484b0c" d="M253.7 297.7 261.7 286.5 269.7 275.8 264.3 271.4 258.9 267.1 251 277.7 243 288.9 248.4 293.3z"/><path fill="#fb4d48" d="M399.8 217.8L405.4 215.2 399.2 210.4 393.6 213z"/><path fill="#fb4c48" d="M394 213.4L399.6 210.8 393.4 206.1 387.8 208.7z"/><path fill="#fb4641" d="M405.1 215.5L410.7 213.2 404.5 208.3 398.9 210.7z"/><path fill="#fa4541" d="M399.3 211.1L404.9 208.8 398.7 204 393.1 206.3z"/><path fill="#fa3f3b" d="M410.4 213.4L416 211.3 409.7 206.5 404.2 208.6z"/><path fill="#fa3e3b" d="M404.5 209L410.1 207 403.9 202.2 398.3 204.3z"/><path class="m" stroke="#520705" d="M399.8 217.5 407.7 214.1 415.6 211.3 409.7 206.9 403.9 202.6 396.1 205.4 388.2 208.7 394 213.1z"/><path fill="#33dddb" d="M190.6 407.4L196.1 396.5 190.6 391.6 185.2 402.4z"/><path fill="#33deda" d="M185.5 402.6L190.9 391.7 185.5 386.9 180 397.7z"/><path fill="#3adec8" d="M195.8 397L201.3 386.3 195.8 381.4 190.3 392.1z"/><path fill="#3bdec5" d="M190.6 392.3L196.1 381.6 190.7 376.8 185.2 387.4z"/><path fill="#42deb4" d="M201 386.8L206.5 376.4 201 371.5 195.5 381.9z"/><path fill="#42deb2" d="M195.8 382.1L201.3 371.7 195.8 366.9 190.3 377.3z"/><path class="m" stroke="#02463d" d="M190.6 407 198.4 391.5 206.2 376.5 201 371.9 195.8 367.3 188.1 382.2 180.4 397.6 185.5 402.3z"/><path fill="#fae972" d="M269.7 276.2L275.4 268.9 269.6 264.3 263.9 271.5z"/><path fill="#fce971" d="M264.3 271.8L269.9 264.6 264.2 260 258.6 267.2z"/><path fill="#fde372" d="M275 269.4L280.7 262.4 274.9 257.8 269.3 264.7z"/><path fill="#fde272" d="M269.6 265L275.3 258 269.5 253.5 263.9 260.4z"/><path fill="#fedd72" d="M280.4 262.8L286.1 256.1 280.3 251.5 274.6 258.2z"/><path fill="#fedc72" d="M274.9 258.5L280.6 251.8 274.8 247.2 269.2 253.9z"/><path class="m" stroke="#534509" d="M269.7 275.8 277.7 265.7 285.7 256.1 280.3 251.8 274.8 247.6 266.9 257.1 258.9 267.1 264.3 271.4z"/><path fill="#d1b218" d="M565.6 269.6L570.6 271.5 563.8 266 558.8 264.1z"/><path fill="#d1af17" d="M559.2 264.6L564.2 266.5 557.4 261.1 552.5 259.2z"/><path fill="#c8b319" d="M570.4 271.6L575.4 273.7 568.5 268.3 563.6 266.1z"/><path fill="#cab118" d="M564.1 266.6L569 268.8 562.2 263.4 557.3 261.2z"/><path fill="#bab11a" d="M575.3 273.8L580.1 276.2 573.3 270.8 568.4 268.4z"/><path fill="#beb019" d="M568.9 268.9L573.8 271.3 567 265.9 562.1 263.5z"/><path class="m" stroke="#52490a" d="M565.4 269.3 572.7 272.4 579.8 276 573.5 271.1 567.2 266.2 560 262.5 552.8 259.4 559.1 264.3z"/><path fill="#ff9270" d="M328.9 232.5L334.6 227.6 328.6 222.9 322.9 227.9z"/><path fill="#ff8f70" d="M323.3 228.2L329 223.3 323 218.7 317.4 223.6z"/><path fill="#ff886f" d="M334.2 227.9L339.9 223.3 333.9 218.6 328.3 223.3z"/><path fill="#fe856f" d="M328.6 223.6L334.3 219 328.4 214.4 322.7 219z"/><path fill="#fe7e6d" d="M339.6 223.6L345.3 219.2 339.3 214.6 333.6 219z"/><path fill="#fd7b6d" d="M334 219.3L339.6 214.9 333.7 210.4 328 214.8z"/><path class="m" stroke="#541104" d="M328.9 232.2 336.9 225.4 344.9 219.2 339.3 214.9 333.7 210.7 325.7 216.9 317.7 223.6 323.3 227.8z"/><path fill="#fb615b" d="M372.3 217.5L377.9 214.1 371.8 209.4 366.2 212.8z"/><path fill="#fb605b" d="M366.6 213.2L372.2 209.8 366.1 205.2 360.5 208.5z"/><path fill="#fb5a55" d="M377.6 214.5L383.2 211.3 377.1 206.6 371.5 209.7z"/><path fill="#fb5955" d="M371.9 210.1L377.5 207 371.4 202.4 365.8 205.5z"/><path fill="#fb534f" d="M382.9 211.6L388.5 208.8 382.4 204.1 376.8 206.9z"/><path fill="#fb524f" d="M377.2 207.3L382.8 204.5 376.7 199.8 371.1 202.7z"/><path class="m" stroke="#520705" d="M372.3 217.2 380.2 212.7 388.2 208.7 382.4 204.4 376.7 200.2 368.8 204.1 360.8 208.6 366.5 212.8z"/><path fill="#ffd672" d="M285.7 256.5L291.4 250 285.6 245.4 279.9 251.9z"/><path fill="#ffd472" d="M280.3 252.2L285.9 245.7 280.1 241.2 274.5 247.6z"/><path fill="#ffcd72" d="M291.1 250.4L296.7 244.2 290.9 239.7 285.2 245.8z"/><path fill="#ffca72" d="M285.6 246.1L291.3 240 285.5 235.4 279.8 241.6z"/><path fill="#ffc172" d="M296.4 244.6L302.1 238.7 296.2 234.1 290.6 240z"/><path fill="#ffbc72" d="M290.9 240.4L296.6 234.4 290.8 229.9 285.1 235.8z"/><path class="m" stroke="#543705" d="M285.7 256.1 293.7 247.1 301.7 238.7 296.2 234.5 290.8 230.3 282.8 238.6 274.8 247.6 280.3 251.8z"/><path fill="#a7b11c" d="M592.8 286.4L597.7 289 590.7 283.4 585.9 280.8z"/><path fill="#aab01c" d="M586.4 281.3L591.2 283.9 584.4 278.4 579.6 275.8z"/><path fill="#99b01d" d="M597.6 289.1L602.3 291.9 595.4 286.4 590.7 283.5z"/><path fill="#9cae1d" d="M591.2 284L595.9 286.9 589 281.4 584.3 278.5z"/><path fill="#8cae1e" d="M602.3 292L607 295.1 600.1 289.5 595.4 286.4z"/><path fill="#8fad1e" d="M595.9 286.9L600.6 290 593.7 284.5 589 281.4z"/><path class="m" stroke="#444d0d" d="M592.6 286.1 599.7 290.2 606.7 294.9 600.3 289.8 593.9 284.8 586.9 280.2 579.8 276 586.2 281z"/><path fill="#fe3a17" d="M470.7 223.8L476.1 223.5 469.6 218.5 464.3 218.8z"/><path fill="#fd3418" d="M464.6 219.3L470 218.9 463.6 214 458.2 214.3z"/><path fill="#fe3f14" d="M475.8 223.7L481.1 223.6 474.7 218.6 469.4 218.7z"/><path fill="#fd3915" d="M469.8 219.1L475.1 219.1 468.7 214.1 463.4 214.2z"/><path fill="#f94611" d="M480.9 223.8L486.2 224 479.7 219 474.5 218.8z"/><path fill="#f83f12" d="M474.9 219.3L480.1 219.5 473.7 214.5 468.4 214.3z"/><path class="m" stroke="#541204" d="M470.6 223.5 478.3 223.4 485.9 223.9 479.8 219.3 473.8 214.9 466.2 214.4 458.6 214.4 464.6 218.9z"/><path fill="#fa2d24" d="M443.2 216.5L448.6 215.4 442.3 210.5 436.8 211.6z"/><path fill="#fa2c24" d="M437.2 212.1L442.7 211 436.4 206.1 430.9 207.2z"/><path fill="#fa2a20" d="M448.3 215.7L453.8 214.9 447.4 210 442 210.8z"/><path fill="#fa2820" d="M442.4 211.2L447.8 210.4 441.5 205.6 436.1 206.4z"/><path fill="#fb2b1c" d="M453.5 215.1L458.9 214.5 452.5 209.6 447.1 210.2z"/><path fill="#fa261d" d="M447.5 210.6L452.9 210.1 446.6 205.2 441.2 205.8z"/><path class="m" stroke="#520805" d="M443.1 216.2 450.9 215 458.6 214.4 452.6 210 446.7 205.6 439 206.2 431.2 207.3 437.2 211.7z"/><path fill="#f45d0f" d="M498.2 233.4L503.4 233.9 496.9 228.7 491.7 228.3z"/><path fill="#f3550e" d="M492.1 228.8L497.3 229.2 490.8 224.2 485.6 223.7z"/><path fill="#ee6a0e" d="M503.2 234.1L508.5 234.7 501.9 229.6 496.7 228.9z"/><path fill="#ed600d" d="M497.1 229.4L502.3 230.1 495.8 225 490.6 224.3z"/><path fill="#e8770e" d="M508.2 234.9L513.4 235.8 506.9 230.7 501.7 229.8z"/><path fill="#e76e0d" d="M502.1 230.3L507.3 231.2 500.8 226.1 495.6 225.2z"/><path class="m" stroke="#542304" d="M498.1 233.1 505.6 234.1 513.1 235.7 507 231 500.9 226.5 493.4 224.9 485.9 223.9 492 228.5z"/><path fill="#fd746a" d="M344.9 219.6L350.6 215.4 344.6 210.8 338.9 214.9z"/><path fill="#fc716a" d="M339.3 215.3L344.9 211.2 339 206.6 333.3 210.7z"/><path fill="#fc6c66" d="M350.2 215.8L355.9 211.9 349.9 207.3 344.2 211.1z"/><path fill="#fc6b66" d="M344.6 211.5L350.2 207.6 344.3 203.1 338.6 206.9z"/><path fill="#fb6661" d="M355.6 212.2L361.2 208.6 355.2 204 349.5 207.6z"/><path fill="#fb6561" d="M349.9 208L355.5 204.4 349.5 199.8 343.9 203.4z"/><path class="m" stroke="#520805" d="M344.9 219.2 352.9 213.6 360.8 208.6 355.2 204.3 349.5 200.2 341.6 205.2 333.7 210.7 339.3 214.9z"/><path fill="#ffb172" d="M301.7 239.1L307.4 233.4 301.6 228.8 295.9 234.5z"/><path fill="#ffad72" d="M296.2 234.8L301.9 229.2 296.1 224.7 290.4 230.3z"/><path fill="#ffa271" d="M307.1 233.8L312.7 228.4 306.9 223.8 301.2 229.2z"/><path fill="#ff9e71" d="M301.6 229.5L307.2 224.1 301.4 219.6 295.7 225z"/><path fill="#ff9671" d="M312.4 228.7L318.1 223.6 312.2 219 306.5 224.2z"/><path fill="#ff9371" d="M306.9 224.5L312.5 219.4 306.7 214.9 301 220z"/><path class="m" stroke="#541e03" d="M301.7 238.7 309.7 230.9 317.7 223.6 312.2 219.4 306.7 215.2 298.7 222.5 290.8 230.3 296.2 234.5z"/><path fill="#fa3934" d="M415.6 211.6L421.2 209.8 414.9 205 409.4 206.8z"/><path fill="#fa3834" d="M409.8 207.2L415.3 205.4 409.1 200.7 403.6 202.5z"/><path fill="#fa332e" d="M420.9 210L426.4 208.5 420.1 203.7 414.6 205.2z"/><path fill="#fa322f" d="M415 205.7L420.5 204.1 414.3 199.4 408.8 200.9z"/><path fill="#fa2f29" d="M426.1 208.7L431.6 207.4 425.3 202.6 419.8 203.9z"/><path fill="#fa2e29" d="M420.2 204.4L425.7 203 419.5 198.3 414 199.6z"/><path class="m" stroke="#520705" d="M415.6 211.3 423.4 209 431.2 207.3 425.4 202.9 419.5 198.7 411.7 200.3 403.9 202.6 409.7 206.9z"/><path fill="#70e27c" d="M211.5 339.4L217 329.9 211.5 325.3 206 334.7z"/><path fill="#72e27b" d="M206.3 334.9L211.8 325.5 206.3 320.9 200.8 330.3z"/><path fill="#82e577" d="M216.7 330.4L222.3 321.2 216.7 316.6 211.2 325.7z"/><path fill="#84e577" d="M211.5 326L217 316.8 211.5 312.2 206 321.3z"/><path fill="#95e874" d="M221.9 321.7L227.5 312.7 222 308.1 216.4 317z"/><path fill="#98e973" d="M216.7 317.3L222.3 308.3 216.8 303.8 211.2 312.7z"/><path class="m" stroke="#1c4816" d="M211.5 339 219.3 325.7 227.2 312.9 222 308.5 216.8 304.1 208.9 316.9 201.1 330.1 206.3 334.5z"/><path fill="#e39510" d="M525.6 245.4L530.7 246.6 524.1 241.4 519 240.2z"/><path fill="#e38f0f" d="M519.4 240.7L524.5 241.8 517.9 236.7 512.8 235.5z"/><path fill="#dd9b11" d="M530.6 246.7L535.7 248.2 529 242.9 523.9 241.5z"/><path fill="#dd9610" d="M524.4 242L529.5 243.4 522.8 238.2 517.8 236.8z"/><path fill="#d8a212" d="M535.5 248.3L540.5 250 533.9 244.7 528.8 243.1z"/><path fill="#d79d11" d="M529.3 243.6L534.3 245.2 527.7 240 522.7 238.4z"/><path class="m" stroke="#543a06" d="M525.5 245.1 532.9 247.2 540.2 249.8 534 245 527.9 240.4 520.5 237.7 513.1 235.7 519.3 240.4z"/><path fill="#acec71" d="M227.2 313.2L232.8 304.5 227.2 299.9 221.6 308.6z"/><path fill="#afed71" d="M222 308.8L227.5 300.1 222 295.6 216.4 304.3z"/><path fill="#c1f06f" d="M232.5 305L238.1 296.5 232.5 291.9 226.9 300.4z"/><path fill="#c4f16e" d="M227.2 300.6L232.8 292.2 227.2 287.7 221.7 296.1z"/><path fill="#d3f26e" d="M237.7 297L243.4 288.8 237.7 284.2 232.1 292.4z"/><path fill="#d5f16d" d="M232.5 292.6L238.1 284.5 232.5 279.9 226.9 288.1z"/><path class="m" stroke="#374d0f" d="M227.2 312.9 235.1 300.6 243 288.9 237.7 284.6 232.5 280.3 224.6 291.9 216.8 304.1 222 308.5z"/><path fill="#6fa724" d="M619.9 305.4L624.5 308.7 617.5 303.1 612.9 299.8z"/><path fill="#75a822" d="M613.4 300.2L618 303.6 611.1 298 606.4 294.6z"/><path fill="#5ca027" d="M624.5 308.7L629.1 312.3 622 306.7 617.5 303.1z"/><path fill="#61a125" d="M618 303.6L622.6 307.1 615.6 301.6 611 298z"/><path fill="#4a9c2a" d="M629.1 312.3L633.6 316.1 626.6 310.5 622 306.7z"/><path fill="#509d29" d="M622.6 307.1L627.1 310.9 620.1 305.4 615.6 301.6z"/><path class="m" stroke="#2c4b12" d="M619.6 305.2 626.5 310.3 633.3 315.9 626.8 310.7 620.4 305.6 613.6 300 606.7 294.9 613.2 300z"/><path fill="#4add9d" d="M195.8 367.6L201.3 357.5 195.9 352.7 190.4 362.9z"/><path fill="#4add9b" d="M190.7 363.1L196.2 352.9 190.8 348.3 185.3 358.4z"/><path fill="#51dd8c" d="M201 358L206.6 348 201.1 343.3 195.6 353.2z"/><path fill="#52dd8a" d="M195.9 353.4L201.4 343.5 195.9 338.9 190.4 348.8z"/><path fill="#5dde80" d="M206.2 348.5L211.8 338.9 206.3 334.2 200.8 343.8z"/><path fill="#5fdf80" d="M201.1 344L206.6 334.4 201.1 329.8 195.6 339.4z"/><path class="m" stroke="#094522" d="M195.8 367.3 203.6 352.9 211.5 339 206.3 334.5 201.1 330.1 193.3 343.9 185.6 358.2 190.7 362.7z"/><path fill="#dfef6f" d="M243 289.2L248.7 281.3 243 276.7 237.4 284.7z"/><path fill="#e1ef6e" d="M237.7 284.9L243.3 277 237.7 272.5 232.1 280.4z"/><path fill="#eaed6f" d="M248.3 281.7L254 274 248.3 269.5 242.7 277.2z"/><path fill="#ecec6f" d="M243 277.4L248.6 269.8 243 265.3 237.4 272.9z"/><path fill="#f4eb70" d="M253.6 274.5L259.3 267 253.6 262.5 248 269.9z"/><path fill="#f6ea70" d="M248.3 270.2L253.9 262.8 248.3 258.3 242.7 265.7z"/><path class="m" stroke="#4a4b0b" d="M243 288.9 251 277.7 258.9 267.1 253.6 262.9 248.3 258.7 240.4 269.2 232.5 280.3 237.7 284.6z"/><path fill="#fb4b48" d="M388.2 209.1L393.8 206.5 387.6 201.8 382.1 204.4z"/><path fill="#fa4b48" d="M382.4 204.8L388 202.2 381.9 197.5 376.3 200.1z"/><path fill="#fa4441" d="M393.5 206.8L399 204.4 392.9 199.7 387.3 202.1z"/><path fill="#fa4341" d="M387.7 202.5L393.3 200.2 387.1 195.5 381.6 197.8z"/><path fill="#fa3e3b" d="M398.7 204.7L404.3 202.6 398.1 197.9 392.6 200z"/><path fill="#fa3d3b" d="M392.9 200.4L398.5 198.4 392.4 193.7 386.8 195.8z"/><path class="m" stroke="#520605" d="M388.2 208.7 396.1 205.4 403.9 202.6 398.1 198.3 392.4 194.1 384.5 196.8 376.7 200.2 382.4 204.4z"/><path fill="#33ded8" d="M180.4 397.9L185.8 387.1 180.4 382.3 175 393.1z"/><path fill="#34ded6" d="M175.3 393.3L180.7 382.5 175.3 377.7 169.9 388.5z"/><path fill="#3bdec3" d="M185.5 387.6L191 377 185.5 372.2 180.1 382.8z"/><path fill="#3cdec1" d="M180.4 383L185.9 372.4 180.5 367.7 175 378.2z"/><path fill="#43deb0" d="M190.7 377.5L196.2 367.1 190.7 362.4 185.2 372.7z"/><path fill="#43ddae" d="M185.5 372.9L191 362.5 185.6 357.9 180.2 368.2z"/><path class="m" stroke="#02463b" d="M180.4 397.6 188.1 382.2 195.8 367.3 190.7 362.7 185.6 358.2 177.9 373 170.2 388.4 175.3 392.9z"/><path fill="#d1ab16" d="M552.9 259.7L557.9 261.6 551.2 256.3 546.2 254.4z"/><path fill="#d1a815" d="M546.6 254.9L551.6 256.8 544.9 251.5 539.9 249.6z"/><path fill="#cbae17" d="M557.8 261.7L562.7 263.9 556 258.5 551 256.4z"/><path fill="#cbab16" d="M551.5 256.9L556.4 259 549.7 253.8 544.8 251.6z"/><path fill="#c0ae19" d="M562.6 264L567.5 266.4 560.7 261 555.8 258.6z"/><path fill="#c3ad18" d="M556.3 259.1L561.2 261.5 554.5 256.2 549.6 253.9z"/><path class="m" stroke="#534609" d="M552.8 259.4 560 262.5 567.2 266.2 560.9 261.3 554.7 256.5 547.5 252.9 540.2 249.8 546.5 254.6z"/><path fill="#fce871" d="M258.9 267.5L264.6 260.3 258.9 255.8 253.2 262.9z"/><path fill="#fce670" d="M253.6 263.2L259.2 256 253.6 251.6 247.9 258.7z"/><path fill="#fde171" d="M264.2 260.7L269.9 253.8 264.2 249.3 258.5 256.2z"/><path fill="#fedf71" d="M258.9 256.5L264.5 249.5 258.8 245.1 253.2 252z"/><path fill="#ffda71" d="M269.5 254.2L275.2 247.5 269.5 243 263.8 249.7z"/><path fill="#ffd971" d="M264.2 250L269.8 243.3 264.1 238.9 258.5 245.5z"/><path class="m" stroke="#534408" d="M258.9 267.1 266.9 257.1 274.8 247.6 269.5 243.4 264.1 239.2 256.2 248.7 248.3 258.7 253.6 262.9z"/><path fill="#ff8c70" d="M317.7 223.9L323.4 219 317.5 214.5 311.8 219.4z"/><path fill="#ff8971" d="M312.2 219.7L317.9 214.8 312 210.4 306.3 215.2z"/><path fill="#fe826f" d="M323.1 219.4L328.7 214.8 322.8 210.2 317.2 214.9z"/><path fill="#fd7f70" d="M317.5 215.2L323.2 210.6 317.3 206.1 311.6 210.7z"/><path fill="#fd786d" d="M328.4 215.1L334 210.7 328.1 206.2 322.5 210.6z"/><path fill="#fc756e" d="M322.8 210.9L328.5 206.6 322.6 202.1 316.9 206.5z"/><path class="m" stroke="#530e04" d="M317.7 223.6 325.7 216.9 333.7 210.7 328.1 206.6 322.6 202.5 314.6 208.6 306.7 215.2 312.2 219.4z"/><path fill="#fb5f5b" d="M360.9 208.9L366.5 205.5 360.4 200.9 354.8 204.3z"/><path fill="#fb5f5c" d="M355.2 204.7L360.8 201.3 354.8 196.8 349.2 200.1z"/><path fill="#fb5855" d="M366.2 205.9L371.8 202.8 365.7 198.2 360.1 201.2z"/><path fill="#fb5855" d="M360.5 201.6L366.1 198.6 360.1 194 354.5 197.1z"/><path fill="#fb514f" d="M371.4 203.1L377 200.2 371 195.6 365.4 198.5z"/><path fill="#fa504f" d="M365.7 198.9L371.3 196 365.3 191.5 359.7 194.3z"/><path class="m" stroke="#520605" d="M360.8 208.6 368.8 204.1 376.7 200.2 371 196 365.3 191.9 357.5 195.7 349.5 200.2 355.2 204.3z"/><path fill="#ffd271" d="M274.8 247.9L280.5 241.5 274.8 237 269.1 243.4z"/><path fill="#ffd071" d="M269.5 243.7L275.1 237.3 269.4 232.9 263.8 239.3z"/><path fill="#ffc871" d="M280.2 241.9L285.8 235.7 280.1 231.3 274.4 237.4z"/><path fill="#ffc571" d="M274.8 237.7L280.4 231.6 274.7 227.2 269.1 233.3z"/><path fill="#ffb871" d="M285.5 236.1L291.1 230.2 285.4 225.8 279.7 231.7z"/><path fill="#ffb471" d="M280.1 232L285.7 226.1 280 221.7 274.3 227.6z"/><path class="m" stroke="#543505" d="M274.8 247.6 282.8 238.6 290.8 230.3 285.4 226.1 280 222 272 230.4 264.1 239.2 269.5 243.4z"/><path fill="#adaf1b" d="M580 276.3L584.9 278.9 578 273.5 573.2 270.9z"/><path fill="#b0ae1a" d="M573.7 271.3L578.5 274 571.7 268.6 566.9 266z"/><path fill="#9fad1c" d="M584.8 279L589.6 281.8 582.7 276.4 577.9 273.6z"/><path fill="#a2ac1b" d="M578.5 274L583.2 276.9 576.4 271.5 571.6 268.7z"/><path fill="#92ab1d" d="M589.5 281.9L594.2 285 587.4 279.6 582.6 276.5z"/><path fill="#95aa1c" d="M583.2 276.9L587.9 280 581.1 274.7 576.3 271.6z"/><path class="m" stroke="#474c0c" d="M579.8 276 586.9 280.2 593.9 284.8 587.6 279.8 581.3 275 574.3 270.3 567.2 266.2 573.5 271.1z"/><path fill="#fc2e18" d="M458.6 214.8L464 214.4 457.6 209.5 452.3 209.8z"/><path fill="#fb2919" d="M452.7 210.3L458 210 451.7 205.2 446.3 205.5z"/><path fill="#fb3315" d="M463.7 214.7L469.1 214.6 462.7 209.7 457.4 209.7z"/><path fill="#fa2d16" d="M457.8 210.2L463.1 210.2 456.8 205.3 451.4 205.4z"/><path fill="#f73812" d="M468.8 214.8L474.1 215 467.8 210.1 462.5 209.9z"/><path fill="#f53213" d="M462.9 210.4L468.2 210.6 461.8 205.7 456.5 205.5z"/><path class="m" stroke="#530e04" d="M458.6 214.4 466.2 214.4 473.8 214.9 467.8 210.4 461.9 206.1 454.3 205.5 446.7 205.6 452.6 210z"/><path fill="#fa2a24" d="M431.3 207.6L436.7 206.6 430.5 201.8 425 202.8z"/><path fill="#fa2924" d="M425.4 203.3L430.9 202.2 424.6 197.5 419.2 198.5z"/><path fill="#fa2720" d="M436.5 206.8L441.9 206 435.6 201.2 430.2 202z"/><path fill="#fa2620" d="M430.6 202.5L436 201.7 429.8 196.9 424.3 197.7z"/><path fill="#fa251d" d="M441.6 206.3L447 205.7 440.7 200.9 435.3 201.4z"/><path fill="#fa241d" d="M435.7 201.9L441.1 201.4 434.9 196.6 429.5 197.2z"/><path class="m" stroke="#520705" d="M431.2 207.3 439 206.2 446.7 205.6 440.8 201.2 434.9 197 427.2 197.5 419.5 198.7 425.4 202.9z"/><path fill="#f34e0f" d="M486 224.2L491.2 224.6 484.8 219.6 479.5 219.2z"/><path fill="#f2470f" d="M479.9 219.7L485.2 220.1 478.8 215.1 473.5 214.7z"/><path fill="#ed570d" d="M491 224.8L496.2 225.5 489.8 220.5 484.5 219.8z"/><path fill="#ec500d" d="M485 220.3L490.2 221 483.8 216 478.5 215.3z"/><path fill="#e7650d" d="M496 225.7L501.2 226.6 494.7 221.6 489.6 220.7z"/><path fill="#e65c0c" d="M490 221.2L495.2 222.1 488.7 217.1 483.5 216.2z"/><path class="m" stroke="#541d03" d="M485.9 223.9 493.4 224.9 500.9 226.5 494.8 221.9 488.8 217.5 481.3 215.9 473.8 214.9 479.8 219.3z"/><path fill="#fc706a" d="M333.7 211.1L339.3 207 333.4 202.5 327.8 206.6z"/><path fill="#fc6f6a" d="M328.1 206.9L333.7 202.8 327.8 198.4 322.2 202.5z"/><path fill="#fc6b66" d="M339 207.3L344.6 203.4 338.7 198.9 333 202.8z"/><path fill="#fb6a66" d="M333.4 203.2L339 199.3 333.1 194.9 327.5 198.7z"/><path fill="#fb6561" d="M344.3 203.8L349.9 200.2 343.9 195.7 338.3 199.3z"/><path fill="#fb6461" d="M338.7 199.6L344.3 196.1 338.4 191.6 332.8 195.2z"/><path class="m" stroke="#520705" d="M333.7 210.7 341.6 205.2 349.5 200.2 344 196 338.4 192 330.5 196.9 322.6 202.5 328.1 206.6z"/><path fill="#ffa871" d="M290.8 230.6L296.4 225 290.6 220.5 285 226.2z"/><path fill="#ffa471" d="M285.4 226.5L291 220.8 285.3 216.5 279.6 222.1z"/><path fill="#ff9b71" d="M296.1 225.4L301.7 220 295.9 215.5 290.3 220.9z"/><path fill="#ff9871" d="M290.7 221.2L296.3 215.9 290.5 211.5 284.9 216.8z"/><path fill="#ff9071" d="M301.4 220.3L307 215.2 301.2 210.8 295.6 215.9z"/><path fill="#ff8d72" d="M296 216.2L301.6 211.1 295.8 206.8 290.2 211.9z"/><path class="m" stroke="#541a03" d="M290.8 230.3 298.7 222.5 306.7 215.2 301.2 211.1 295.8 207.1 287.9 214.3 280 222 285.4 226.1z"/><path fill="#fa3734" d="M404 202.9L409.5 201.1 403.3 196.4 397.8 198.2z"/><path fill="#fa3635" d="M398.2 198.6L403.7 196.8 397.6 192.2 392 194z"/><path fill="#fa322f" d="M409.2 201.4L414.7 199.8 408.5 195.1 403 196.7z"/><path fill="#fa312f" d="M403.4 197.1L408.9 195.5 402.7 190.9 397.2 192.5z"/><path fill="#fa2d29" d="M414.4 200.1L419.8 198.7 413.7 194.1 408.2 195.4z"/><path fill="#fa2c29" d="M408.6 195.8L414 194.5 407.9 189.9 402.4 191.2z"/><path class="m" stroke="#520605" d="M403.9 202.6 411.7 200.3 419.5 198.7 413.7 194.4 407.9 190.2 400.2 191.9 392.4 194.1 398.1 198.3z"/><path fill="#e2860e" d="M513.2 236L518.4 237.2 511.8 232 506.7 230.9z"/><path fill="#e27d0e" d="M507.1 231.4L512.2 232.5 505.7 227.5 500.6 226.3z"/><path fill="#dc910f" d="M518.2 237.3L523.3 238.7 516.7 233.6 511.6 232.2z"/><path fill="#dc8b0e" d="M512.1 232.7L517.2 234.1 510.6 229 505.5 227.6z"/><path fill="#d79810" d="M523.1 238.9L528.2 240.5 521.6 235.4 516.5 233.8z"/><path fill="#d6930f" d="M517 234.3L522 235.9 515.5 230.9 510.5 229.2z"/><path class="m" stroke="#543605" d="M513.1 235.7 520.5 237.7 527.9 240.4 521.7 235.7 515.6 231.2 508.3 228.6 500.9 226.5 507 231z"/><path fill="#7aa821" d="M607 295.1L611.6 298.4 604.7 292.9 600 289.6z"/><path fill="#7fa920" d="M600.6 290L605.2 293.4 598.3 287.9 593.6 284.6z"/><path fill="#67a124" d="M611.6 298.4L616.2 302 609.2 296.5 604.6 292.9z"/><path fill="#6ca223" d="M605.2 293.4L609.8 297 602.8 291.5 598.3 287.9z"/><path fill="#559e28" d="M616.2 302L620.7 305.8 613.7 300.4 609.2 296.5z"/><path fill="#5a9f27" d="M609.8 296.9L614.3 300.8 607.4 295.4 602.8 291.5z"/><path class="m" stroke="#314c11" d="M606.7 294.9 613.6 300 620.4 305.6 614 300.5 607.7 295.5 600.8 289.9 593.9 284.8 600.3 289.8z"/><path fill="#74e27a" d="M201.1 330.5L206.6 321.1 201.2 316.5 195.7 325.9z"/><path fill="#76e379" d="M196 326.1L201.5 316.7 196.1 312.3 190.6 321.6z"/><path fill="#86e676" d="M206.3 321.6L211.9 312.4 206.4 307.9 200.9 317z"/><path fill="#88e675" d="M201.2 317.2L206.7 308.1 201.3 303.6 195.8 312.7z"/><path fill="#9ae972" d="M211.5 312.9L217.1 304 211.6 299.5 206.1 308.4z"/><path fill="#9dea72" d="M206.4 308.6L211.9 299.7 206.4 295.3 200.9 304.1z"/><path class="m" stroke="#1e4916" d="M201.1 330.1 208.9 316.9 216.8 304.1 211.6 299.8 206.4 295.6 198.7 308.3 190.9 321.4 196 325.8z"/><path fill="#b1ed70" d="M216.8 304.5L222.3 295.8 216.8 291.3 211.3 300z"/><path fill="#b4ee6f" d="M211.6 300.2L217.1 291.6 211.6 287.1 206.1 295.7z"/><path fill="#c7f16e" d="M222 296.3L227.6 287.9 222 283.4 216.5 291.8z"/><path fill="#caf26d" d="M216.8 292L222.4 283.6 216.9 279.2 211.3 287.6z"/><path fill="#d7f16d" d="M227.2 288.4L232.8 280.2 227.3 275.7 221.7 283.9z"/><path fill="#d8f16d" d="M222 284.1L227.6 276 222.1 271.6 216.5 279.7z"/><path class="m" stroke="#3a4e0f" d="M216.8 304.1 224.6 291.9 232.5 280.3 227.3 276.1 222.1 271.9 214.2 283.5 206.4 295.6 211.6 299.8z"/><path fill="#4bdd99" d="M185.6 358.6L191.1 348.5 185.7 343.8 180.2 353.9z"/><path fill="#4bdd97" d="M180.5 354.1L186 344 180.6 339.5 175.2 349.5z"/><path fill="#52dd88" d="M190.8 349L196.2 339.1 190.8 334.5 185.4 344.3z"/><path fill="#52dd86" d="M185.7 344.5L191.1 334.7 185.8 330.2 180.3 340z"/><path fill="#61df7f" d="M195.9 339.6L201.4 330 196 325.4 190.5 335z"/><path fill="#63df7e" d="M190.8 335.2L196.3 325.6 190.9 321.1 185.4 330.7z"/><path class="m" stroke="#094520" d="M185.6 358.2 193.3 343.9 201.1 330.1 196 325.8 190.9 321.4 183.2 335.2 175.5 349.4 180.5 353.8z"/><path fill="#e3ee6e" d="M232.5 280.6L238.1 272.7 232.5 268.3 226.9 276.2z"/><path fill="#e4ee6d" d="M227.3 276.4L232.8 268.5 227.3 264.2 221.7 272z"/><path fill="#edec6f" d="M237.7 273.2L243.3 265.5 237.8 261.1 232.2 268.7z"/><path fill="#efec6e" d="M232.5 269L238.1 261.4 232.5 257 227 264.6z"/><path fill="#f7ea6f" d="M243 266L248.6 258.6 243 254.2 237.4 261.5z"/><path fill="#f9e96f" d="M237.8 261.8L243.3 254.4 237.8 250.1 232.2 257.4z"/><path class="m" stroke="#4c4a0b" d="M232.5 280.3 240.4 269.2 248.3 258.7 243 254.5 237.8 250.4 229.9 260.9 222.1 271.9 227.3 276.1z"/><path fill="#fa4a48" d="M376.7 200.5L382.3 198 376.2 193.4 370.6 195.9z"/><path fill="#fa4948" d="M371 196.3L376.6 193.8 370.5 189.2 365 191.8z"/><path fill="#fa4342" d="M382 198.2L387.5 195.9 381.4 191.3 375.9 193.6z"/><path fill="#fa4242" d="M376.3 194.1L381.8 191.8 375.8 187.2 370.2 189.5z"/><path fill="#fa3c3b" d="M387.2 196.2L392.7 194.2 386.6 189.6 381.1 191.6z"/><path fill="#fa3b3b" d="M381.5 192L387 190 381 185.5 375.4 187.5z"/><path class="m" stroke="#520505" d="M376.7 200.2 384.5 196.8 392.4 194.1 386.7 189.9 381 185.8 373.2 188.6 365.3 191.9 371 196z"/><path fill="#d1a514" d="M540.4 250.1L545.4 252 538.7 246.8 533.7 244.9z"/><path fill="#d1a113" d="M534.2 245.4L539.2 247.2 532.6 242.1 527.6 240.2z"/><path fill="#cba815" d="M545.3 252.1L550.2 254.2 543.5 249 538.6 246.9z"/><path fill="#cba414" d="M539.1 247.4L544 249.5 537.4 244.3 532.4 242.2z"/><path fill="#c4ab17" d="M550.1 254.4L555 256.7 548.3 251.5 543.4 249.1z"/><path fill="#c4a816" d="M543.9 249.6L548.8 252 542.1 246.8 537.2 244.5z"/><path class="m" stroke="#534408" d="M540.2 249.8 547.5 252.9 554.7 256.5 548.5 251.8 542.3 247.1 535.1 243.5 527.9 240.4 534 245z"/><path fill="#34ded4" d="M170.2 388.7L175.6 377.9 170.3 373.2 164.9 384z"/><path fill="#35ded1" d="M165.2 384.2L170.6 373.4 165.3 368.8 159.9 379.5z"/><path fill="#3cdebf" d="M175.3 378.4L180.8 367.9 175.4 363.2 170 373.8z"/><path fill="#3ddebd" d="M170.3 373.9L175.7 363.4 170.4 358.8 165 369.3z"/><path fill="#44ddac" d="M180.5 368.4L185.9 358 180.5 353.4 175.1 363.7z"/><path fill="#44ddaa" d="M175.4 363.9L180.8 353.6 175.5 349 170.1 359.3z"/><path class="m" stroke="#034639" d="M170.2 388.4 177.9 373 185.6 358.2 180.5 353.8 175.5 349.4 167.9 364.1 160.2 379.4 165.2 383.8z"/><path fill="#fde570" d="M248.3 259L253.9 251.8 248.3 247.5 242.7 254.6z"/><path fill="#fde46f" d="M243 254.9L248.6 247.7 243 243.4 237.4 250.5z"/><path fill="#fede70" d="M253.6 252.3L259.2 245.4 253.5 241 247.9 247.9z"/><path fill="#fedd70" d="M248.3 248.2L253.9 241.3 248.3 236.9 242.7 243.8z"/><path fill="#ffd870" d="M258.8 245.8L264.5 239.2 258.8 234.8 253.2 241.4z"/><path fill="#ffd670" d="M253.5 241.7L259.1 235.1 253.5 230.8 247.9 237.4z"/><path class="m" stroke="#544208" d="M248.3 258.7 256.2 248.7 264.1 239.2 258.8 235.1 253.5 231.1 245.6 240.5 237.8 250.4 243 254.5z"/><path fill="#fe8671" d="M306.7 215.6L312.3 210.7 306.5 206.3 300.9 211.2z"/><path fill="#fe8371" d="M301.2 211.5L306.9 206.6 301.1 202.3 295.5 207.1z"/><path fill="#fd7c70" d="M312 211.1L317.6 206.5 311.8 202.1 306.2 206.7z"/><path fill="#fd7a70" d="M306.5 207L312.2 202.4 306.4 198.1 300.7 202.6z"/><path fill="#fc746e" d="M317.3 206.8L322.9 202.5 317.1 198.1 311.5 202.4z"/><path fill="#fc736e" d="M311.8 202.8L317.4 198.4 311.6 194.1 306 198.4z"/><path class="m" stroke="#530b05" d="M306.7 215.2 314.6 208.6 322.6 202.5 317.1 198.4 311.6 194.4 303.7 200.5 295.8 207.1 301.2 211.1z"/><path fill="#fb5e5c" d="M349.6 200.5L355.2 197.2 349.2 192.7 343.6 196z"/><path fill="#fb5d5c" d="M344 196.4L349.6 193.1 343.6 188.6 338 191.9z"/><path fill="#fb5756" d="M354.8 197.5L360.4 194.4 354.4 189.9 348.9 193z"/><path fill="#fa5656" d="M349.2 193.4L354.8 190.3 348.9 185.9 343.3 188.9z"/><path fill="#fa504f" d="M360.1 194.7L365.7 191.9 359.7 187.4 354.1 190.2z"/><path fill="#fa4f4f" d="M354.5 190.6L360.1 187.8 354.1 183.4 348.5 186.2z"/><path class="m" stroke="#520505" d="M349.5 200.2 357.5 195.7 365.3 191.9 359.7 187.8 354.1 183.7 346.3 187.6 338.4 192 344 196z"/><path fill="#b3ac1a" d="M567.4 266.4L572.2 269.1 565.5 263.7 560.6 261.1z"/><path fill="#b6ab19" d="M561.1 261.6L565.9 264.2 559.2 259 554.4 256.3z"/><path fill="#a5ab1b" d="M572.1 269.1L576.9 272 570.1 266.7 565.4 263.8z"/><path fill="#a8aa1a" d="M565.9 264.3L570.6 267.2 563.9 261.9 559.1 259z"/><path fill="#98a91c" d="M576.9 272.1L581.6 275.2 574.8 269.9 570.1 266.8z"/><path fill="#9aa81b" d="M570.6 267.2L575.3 270.3 568.6 265.1 563.8 262z"/><path class="m" stroke="#494b0c" d="M567.2 266.2 574.3 270.3 581.3 275 575 270.1 568.8 265.3 561.8 260.7 554.7 256.5 560.9 261.3z"/><path fill="#ffcd70" d="M264.1 239.6L269.7 233.2 264.1 228.8 258.5 235.2z"/><path fill="#ffcb70" d="M258.8 235.5L264.4 229.1 258.8 224.8 253.2 231.2z"/><path fill="#ffc171" d="M269.4 233.6L275 227.5 269.3 223.1 263.7 229.2z"/><path fill="#ffbd70" d="M264.1 229.5L269.7 223.4 264 219.1 258.4 225.2z"/><path fill="#ffb071" d="M274.7 227.9L280.3 222 274.6 217.7 269 223.5z"/><path fill="#ffac71" d="M269.3 223.8L275 218 269.3 213.7 263.7 219.5z"/><path class="m" stroke="#543105" d="M264.1 239.2 272 230.4 280 222 274.6 218 269.3 214 261.4 222.3 253.5 231.1 258.8 235.1z"/><path fill="#fa231a" d="M446.7 205.9L452.1 205.6 445.8 200.8 440.5 201.1z"/><path fill="#fa221a" d="M440.8 201.6L446.2 201.3 440 196.6 434.6 196.8z"/><path fill="#f82716" d="M451.8 205.8L457.2 205.8 450.9 201 445.6 201z"/><path fill="#f72217" d="M445.9 201.5L451.3 201.5 445 196.7 439.7 196.8z"/><path fill="#f42d13" d="M456.9 206L462.2 206.2 455.9 201.4 450.6 201.2z"/><path fill="#f22714" d="M451 201.7L456.3 201.9 450.1 197.1 444.8 196.9z"/><path class="m" stroke="#530a05" d="M446.7 205.6 454.3 205.5 461.9 206.1 456 201.7 450.1 197.5 442.5 197 434.9 197 440.8 201.2z"/><path fill="#fa2824" d="M419.6 199L425 198 418.8 193.3 413.4 194.3z"/><path fill="#f92725" d="M413.7 194.8L419.2 193.7 413 189.1 407.6 190.1z"/><path fill="#fa2520" d="M424.7 198.2L430.1 197.4 423.9 192.7 418.5 193.5z"/><path fill="#f92420" d="M418.9 194L424.3 193.2 418.2 188.5 412.7 189.3z"/><path fill="#fa231d" d="M429.9 197.6L435.3 197.1 429 192.4 423.7 192.9z"/><path fill="#fa211d" d="M424 193.4L429.4 192.9 423.3 188.2 417.9 188.8z"/><path class="m" stroke="#520605" d="M419.5 198.7 427.2 197.5 434.9 197 429.1 192.8 423.3 188.6 415.6 189.1 407.9 190.2 413.7 194.4z"/><path fill="#f14010" d="M473.9 215.2L479.2 215.6 472.8 210.7 467.5 210.3z"/><path fill="#f13910" d="M467.9 210.8L473.2 211.2 466.8 206.4 461.6 205.9z"/><path fill="#ec490d" d="M478.9 215.8L484.2 216.5 477.8 211.6 472.5 210.9z"/><path fill="#eb420e" d="M473 211.4L478.2 212.1 471.8 207.2 466.6 206.6z"/><path fill="#e6530c" d="M483.9 216.7L489.1 217.6 482.7 212.7 477.6 211.8z"/><path fill="#e54c0c" d="M478 212.3L483.2 213.2 476.8 208.4 471.6 207.4z"/><path class="m" stroke="#541804" d="M473.8 214.9 481.3 215.9 488.8 217.5 482.8 213.1 476.9 208.7 469.4 207.1 461.9 206.1 467.8 210.4z"/><path fill="#fc6f6a" d="M322.6 202.8L328.2 198.7 322.3 194.3 316.7 198.4z"/><path fill="#fc6e6b" d="M317.1 198.8L322.7 194.7 316.9 190.4 311.3 194.4z"/><path fill="#fb6966" d="M327.9 199.1L333.5 195.2 327.6 190.9 322 194.7z"/><path fill="#fb6966" d="M322.4 195L328 191.2 322.1 186.9 316.5 190.7z"/><path fill="#fb6361" d="M333.1 195.6L338.7 192 332.9 187.6 327.3 191.2z"/><path fill="#fb6361" d="M327.6 191.6L333.2 188 327.4 183.7 321.8 187.2z"/><path class="m" stroke="#520605" d="M322.6 202.5 330.5 196.9 338.4 192 332.9 188 327.4 184 319.5 188.9 311.6 194.4 317.1 198.4z"/><path fill="#ffa171" d="M280 222.4L285.6 216.8 279.9 212.4 274.3 218z"/><path fill="#ff9d71" d="M274.6 218.4L280.2 212.8 274.6 208.5 269 214.1z"/><path fill="#ff9571" d="M285.3 217.2L290.9 211.8 285.2 207.5 279.5 212.8z"/><path fill="#ff9272" d="M279.9 213.1L285.5 207.8 279.8 203.5 274.2 208.9z"/><path fill="#ff8a72" d="M290.5 212.2L296.2 207.1 290.4 202.8 284.8 207.9z"/><path fill="#ff8872" d="M285.2 208.2L290.8 203.1 285.1 198.8 279.5 203.9z"/><path class="m" stroke="#541704" d="M280 222 287.9 214.3 295.8 207.1 290.4 203.1 285.1 199.2 277.2 206.3 269.3 214 274.6 218z"/><path fill="#fa3535" d="M392.4 194.4L397.9 192.6 391.8 188 386.3 189.8z"/><path fill="#f93535" d="M386.7 190.3L392.2 188.5 386.1 183.9 380.6 185.7z"/><path fill="#f9302f" d="M397.6 192.9L403.1 191.3 397 186.8 391.5 188.3z"/><path fill="#f92f2f" d="M391.9 188.7L397.4 187.2 391.3 182.7 385.8 184.2z"/><path fill="#f92b29" d="M402.8 191.6L408.3 190.3 402.2 185.7 396.7 187z"/><path fill="#f92a29" d="M397.1 187.5L402.5 186.2 396.5 181.7 391 182.9z"/><path class="m" stroke="#520505" d="M392.4 194.1 400.2 191.9 407.9 190.2 402.2 186.1 396.5 182 388.8 183.6 381 185.8 386.7 189.9z"/><path fill="#e1740d" d="M501 226.8L506.2 228 499.7 222.9 494.5 221.8z"/><path fill="#e16b0c" d="M495 222.3L500.1 223.4 493.7 218.5 488.5 217.3z"/><path fill="#db830e" d="M506 228.1L511.1 229.5 504.6 224.5 499.5 223.1z"/><path fill="#db7b0d" d="M499.9 223.6L505 225 498.6 220.1 493.5 218.6z"/><path fill="#d68e0f" d="M510.9 229.7L515.9 231.3 509.4 226.3 504.4 224.7z"/><path fill="#d5890e" d="M504.8 225.2L509.9 226.8 503.4 221.9 498.4 220.2z"/><path class="m" stroke="#543105" d="M500.9 226.5 508.3 228.6 515.6 231.2 509.6 226.7 503.6 222.2 496.2 219.6 488.8 217.5 494.8 221.9z"/><path fill="#84aa1e" d="M594.2 285L598.8 288.4 592 283 587.3 279.6z"/><path fill="#87a91e" d="M587.8 280.1L592.5 283.4 585.7 278.1 581 274.7z"/><path fill="#71a322" d="M598.8 288.4L603.4 292 596.5 286.6 591.9 283z"/><path fill="#76a420" d="M592.5 283.4L597.1 287 590.2 281.7 585.6 278.1z"/><path fill="#5fa026" d="M603.4 291.9L607.9 295.8 601 290.4 596.5 286.6z"/><path fill="#64a124" d="M597.1 287L601.6 290.8 594.8 285.5 590.2 281.7z"/><path class="m" stroke="#364d10" d="M593.9 284.8 600.8 289.9 607.7 295.5 601.3 290.6 595.1 285.7 588.2 280.1 581.3 275 587.6 279.8z"/><path fill="#78e378" d="M190.9 321.8L196.4 312.5 191 308 185.5 317.3z"/><path fill="#79e378" d="M185.9 317.5L191.3 308.2 186 303.9 180.5 313.1z"/><path fill="#89e674" d="M196.1 313L201.6 303.9 196.2 299.4 190.7 308.5z"/><path fill="#8be673" d="M191 308.7L196.5 299.6 191.1 295.3 185.7 304.3z"/><path fill="#a0ea71" d="M201.3 304.3L206.8 295.5 201.3 291.1 195.8 299.9z"/><path fill="#a2eb70" d="M196.2 300.1L201.7 291.3 196.3 287 190.8 295.8z"/><path class="m" stroke="#1f4915" d="M190.9 321.4 198.7 308.3 206.4 295.6 201.3 291.4 196.3 287.3 188.5 299.9 180.8 313 185.9 317.2z"/><path fill="#b7ee6e" d="M206.4 296L212 287.4 206.5 283 201 291.6z"/><path fill="#b9ef6e" d="M201.3 291.8L206.9 283.2 201.4 278.9 195.9 287.4z"/><path fill="#ccf26c" d="M211.6 287.8L217.2 279.5 211.7 275.1 206.2 283.4z"/><path fill="#cff26c" d="M206.5 283.7L212 275.3 206.6 271 201.1 279.3z"/><path fill="#daf06c" d="M216.9 279.9L222.4 271.8 216.9 267.5 211.4 275.6z"/><path fill="#dbf06c" d="M211.7 275.8L217.3 267.7 211.8 263.4 206.3 271.5z"/><path class="m" stroke="#3c4e0e" d="M206.4 295.6 214.2 283.5 222.1 271.9 216.9 267.8 211.8 263.8 204 275.3 196.3 287.3 201.3 291.4z"/><path fill="#4cdd95" d="M175.5 349.7L180.9 339.7 175.6 335.2 170.2 345.2z"/><path fill="#4cdd93" d="M170.5 345.4L175.9 335.4 170.6 330.9 165.2 340.9z"/><path fill="#53dd84" d="M180.6 340.2L186.1 330.4 180.7 325.9 175.3 335.7z"/><path fill="#53dd82" d="M175.6 335.9L181 326.1 175.7 321.7 170.3 331.4z"/><path fill="#65e07d" d="M185.8 330.9L191.2 321.3 185.9 316.8 180.4 326.4z"/><path fill="#66e07c" d="M180.7 326.6L186.2 317 180.8 312.6 175.4 322.2z"/><path class="m" stroke="#0a451f" d="M175.5 349.4 183.2 335.2 190.9 321.4 185.9 317.2 180.8 313 173.2 326.6 165.5 340.8 170.5 345z"/><path fill="#e6ee6d" d="M222.1 272.3L227.6 264.4 222.1 260.1 216.6 267.9z"/><path fill="#e7ed6d" d="M216.9 268.2L222.5 260.3 217 256 211.5 263.9z"/><path fill="#f0eb6e" d="M227.3 264.9L232.9 257.2 227.4 252.9 221.8 260.5z"/><path fill="#f2eb6d" d="M222.1 260.8L227.7 253.2 222.2 248.9 216.7 256.5z"/><path fill="#fae96f" d="M232.5 257.7L238.1 250.3 232.6 246 227 253.4z"/><path fill="#fce86e" d="M227.4 253.6L232.9 246.3 227.4 242 221.9 249.4z"/><path class="m" stroke="#4d4a0b" d="M222.1 271.9 229.9 260.9 237.8 250.4 232.6 246.4 227.4 242.4 219.6 252.8 211.8 263.8 216.9 267.8z"/><path fill="#fa4848" d="M365.3 192.2L370.9 189.6 364.9 185.2 359.4 187.7z"/><path fill="#fa4848" d="M359.7 188.1L365.3 185.6 359.3 181.2 353.8 183.7z"/><path fill="#fa4142" d="M370.6 189.9L376.1 187.6 370.1 183.2 364.6 185.5z"/><path fill="#fa4042" d="M365 185.9L370.5 183.6 364.5 179.2 359 181.4z"/><path fill="#fa3a3b" d="M375.8 187.9L381.3 185.9 375.3 181.4 369.8 183.4z"/><path fill="#f9393b" d="M370.2 183.9L375.7 181.8 369.7 177.4 364.2 179.4z"/><path class="m" stroke="#520505" d="M365.3 191.9 373.2 188.6 381 185.8 375.3 181.8 369.7 177.8 361.9 180.5 354.1 183.7 359.7 187.8z"/><path fill="#d19e12" d="M528 240.7L533 242.6 526.4 237.5 521.4 235.6z"/><path fill="#d19b11" d="M521.9 236.1L526.9 238 520.3 232.9 515.3 231z"/><path fill="#cba113" d="M532.9 242.7L537.8 244.8 531.2 239.7 526.3 237.6z"/><path fill="#cb9e13" d="M526.8 238.1L531.7 240.2 525.1 235.2 520.2 233z"/><path fill="#c4a515" d="M537.7 245L542.6 247.3 536 242.2 531.1 239.8z"/><path fill="#c4a214" d="M531.6 240.3L536.5 242.7 529.9 237.7 525 235.3z"/><path class="m" stroke="#544208" d="M527.9 240.4 535.1 243.5 542.3 247.1 536.2 242.5 530.1 238 522.9 234.3 515.6 231.2 521.7 235.7z"/><path fill="#35ded0" d="M160.2 379.7L165.6 369 160.4 364.4 155 375.1z"/><path fill="#36dece" d="M155.3 375.3L160.7 364.6 155.4 360.1 150.1 370.8z"/><path fill="#3ddebb" d="M165.3 369.5L170.7 359 165.4 354.4 160 364.9z"/><path fill="#3dddb9" d="M160.3 365.1L165.7 354.6 160.5 350.1 155.1 360.6z"/><path fill="#44dda8" d="M170.4 359.5L175.8 349.2 170.5 344.7 165.1 355z"/><path fill="#45dda6" d="M165.4 355.1L170.8 344.9 165.5 340.4 160.2 350.7z"/><path class="m" stroke="#034637" d="M160.2 379.4 167.9 364.1 175.5 349.4 170.5 345 165.5 340.8 157.9 355.4 150.4 370.6 155.3 374.9z"/><path fill="#fde26f" d="M237.8 250.8L243.4 243.6 237.8 239.4 232.2 246.5z"/><path fill="#fde16e" d="M232.6 246.7L238.2 239.6 232.6 235.4 227.1 242.5z"/><path fill="#fedb6f" d="M243 244.1L248.6 237.2 243 232.9 237.5 239.8z"/><path fill="#feda6f" d="M237.8 240.1L243.4 233.2 237.9 229 232.3 235.8z"/><path fill="#ffd36f" d="M248.3 237.6L253.9 231 248.3 226.8 242.7 233.4z"/><path fill="#ffd16f" d="M243 233.6L248.6 227 243.1 222.8 237.5 229.4z"/><path class="m" stroke="#544107" d="M237.8 250.4 245.6 240.5 253.5 231.1 248.3 227.1 243.1 223.2 235.2 232.5 227.4 242.4 232.6 246.4z"/><path fill="#fd8172" d="M295.8 207.5L301.4 202.6 295.7 198.3 290.1 203.1z"/><path fill="#fd7e72" d="M290.4 203.5L296 198.6 290.3 194.4 284.7 199.2z"/><path fill="#fc7770" d="M301.1 203L306.7 198.4 300.9 194.1 295.3 198.7z"/><path fill="#fc7671" d="M295.7 199L301.3 194.4 295.6 190.2 290 194.8z"/><path fill="#fc736e" d="M306.4 198.8L312 194.4 306.2 190.1 300.6 194.4z"/><path fill="#fc726e" d="M301 194.8L306.6 190.5 300.8 186.2 295.2 190.5z"/><path class="m" stroke="#520805" d="M295.8 207.1 303.7 200.5 311.6 194.4 306.2 190.5 300.8 186.6 293 192.6 285.1 199.2 290.4 203.1z"/><path fill="#fb5d5c" d="M338.4 192.3L344 189 338.1 184.6 332.5 187.9z"/><path fill="#fb5c5c" d="M332.9 188.3L338.5 185 332.6 180.7 327 184z"/><path fill="#fa5656" d="M343.7 189.3L349.2 186.3 343.3 181.9 337.8 184.9z"/><path fill="#fa5556" d="M338.1 185.3L343.7 182.3 337.8 178 332.3 181z"/><path fill="#fa4e4f" d="M348.9 186.6L354.5 183.8 348.6 179.4 343 182.2z"/><path fill="#fa4e4f" d="M343.4 182.6L348.9 179.8 343 175.5 337.5 178.3z"/><path class="m" stroke="#520505" d="M338.4 192 346.3 187.6 354.1 183.7 348.6 179.8 343.1 175.9 335.2 179.7 327.4 184 332.9 188z"/><path fill="#b8aa18" d="M554.9 256.8L559.7 259.4 553 254.2 548.2 251.6z"/><path fill="#bba918" d="M548.7 252.1L553.5 254.7 546.9 249.6 542 246.9z"/><path fill="#aba819" d="M559.6 259.5L564.4 262.4 557.7 257.2 552.9 254.3z"/><path fill="#ada719" d="M553.5 254.8L558.2 257.7 551.6 252.5 546.8 249.7z"/><path fill="#9da71b" d="M564.4 262.4L569.1 265.5 562.4 260.4 557.7 257.3z"/><path fill="#a0a61a" d="M558.2 257.7L562.9 260.8 556.2 255.7 551.5 252.6z"/><path class="m" stroke="#4c4a0b" d="M554.7 256.5 561.8 260.7 568.8 265.3 562.6 260.6 556.5 256 549.4 251.3 542.3 247.1 548.5 251.8z"/><path fill="#ffc970" d="M253.5 231.5L259.1 225.1 253.5 220.8 247.9 227.2z"/><path fill="#ffc76f" d="M248.3 227.5L253.9 221.1 248.3 216.9 242.7 223.3z"/><path fill="#ffba70" d="M258.8 225.5L264.4 219.4 258.8 215.2 253.2 221.3z"/><path fill="#ffb670" d="M253.5 221.5L259.1 215.5 253.5 211.3 248 217.3z"/><path fill="#ffa970" d="M264 219.8L269.7 214 264 209.7 258.4 215.6z"/><path fill="#ffa570" d="M258.8 215.9L264.4 210 258.8 205.9 253.2 211.7z"/><path class="m" stroke="#542c04" d="M253.5 231.1 261.4 222.3 269.3 214 264 210.1 258.8 206.2 250.9 214.4 243.1 223.2 248.3 227.1z"/><path fill="#fa211a" d="M435 197.3L440.3 197 434.1 192.3 428.8 192.6z"/><path fill="#fa201a" d="M429.2 193.1L434.5 192.8 428.3 188.2 423 188.5z"/><path fill="#f62017" d="M440.1 197.2L445.4 197.2 439.2 192.5 433.9 192.6z"/><path fill="#f51e17" d="M434.2 193L439.6 193 433.4 188.4 428.1 188.4z"/><path fill="#f12214" d="M445.2 197.4L450.4 197.6 444.2 192.9 438.9 192.7z"/><path fill="#f01e15" d="M439.3 193.2L444.6 193.4 438.4 188.8 433.1 188.6z"/><path class="m" stroke="#520805" d="M434.9 197 442.5 197 450.1 197.5 444.3 193.3 438.5 189.1 430.9 188.6 423.3 188.6 429.1 192.8z"/><path fill="#f03310" d="M462 206.4L467.2 206.8 460.9 202.1 455.7 201.6z"/><path fill="#ee2e11" d="M456.1 202.1L461.3 202.5 455.1 197.8 449.8 197.3z"/><path fill="#ea3c0e" d="M467 207L472.2 207.7 465.9 202.9 460.7 202.2z"/><path fill="#ea360e" d="M461.1 202.7L466.3 203.4 460 198.7 454.8 198z"/><path fill="#e5460c" d="M472 207.9L477.2 208.9 470.9 204.1 465.7 203.1z"/><path fill="#e4400d" d="M466.1 203.6L471.3 204.6 465 199.8 459.8 198.9z"/><path class="m" stroke="#541304" d="M461.9 206.1 469.4 207.1 476.9 208.7 471 204.4 465.1 200.2 457.6 198.6 450.1 197.5 456 201.7z"/><path fill="#f92625" d="M408 190.6L413.4 189.5 407.3 185 401.9 186z"/><path fill="#f92525" d="M402.2 186.4L407.7 185.4 401.6 180.9 396.2 181.9z"/><path fill="#f92320" d="M413.1 189.8L418.5 189 412.4 184.4 407 185.2z"/><path fill="#f92220" d="M407.4 185.7L412.8 184.9 406.7 180.4 401.3 181.1z"/><path fill="#f9201d" d="M418.3 189.2L423.6 188.7 417.5 184.1 412.1 184.7z"/><path fill="#f91f1d" d="M412.5 185.1L417.9 184.6 411.8 180.1 406.4 180.6z"/><path class="m" stroke="#520605" d="M407.9 190.2 415.6 189.1 423.3 188.6 417.6 184.5 411.8 180.4 404.2 180.9 396.5 182 402.2 186.1z"/><path fill="#fb6e6b" d="M311.6 194.8L317.2 190.7 311.4 186.4 305.9 190.5z"/><path fill="#fb6d6b" d="M306.2 190.8L311.8 186.8 306.1 182.6 300.5 186.6z"/><path fill="#fb6866" d="M316.9 191.1L322.5 187.2 316.7 183 311.1 186.8z"/><path fill="#fb6866" d="M311.5 187.1L317 183.3 311.3 179.1 305.7 182.9z"/><path fill="#fb6261" d="M322.2 187.6L327.7 184 321.9 179.8 316.3 183.3z"/><path fill="#fb6261" d="M316.7 183.7L322.3 180.1 316.5 175.9 310.9 179.4z"/><path class="m" stroke="#520605" d="M311.6 194.4 319.5 188.9 327.4 184 321.9 180.1 316.5 176.3 308.7 181.2 300.8 186.6 306.2 190.5z"/><path fill="#8aa81d" d="M581.6 275.2L586.2 278.5 579.4 273.3 574.8 269.9z"/><path fill="#8da71c" d="M575.3 270.3L579.9 273.7 573.2 268.5 568.5 265.1z"/><path fill="#7ba51f" d="M586.2 278.5L590.8 282.1 584 276.9 579.4 273.3z"/><path fill="#7fa51e" d="M579.9 273.7L584.5 277.3 577.8 272.1 573.2 268.5z"/><path fill="#69a223" d="M590.8 282.1L595.3 285.9 588.5 280.7 584 276.9z"/><path fill="#6ea222" d="M584.6 277.3L589.1 281.1 582.3 275.9 577.8 272.1z"/><path class="m" stroke="#3b4e0e" d="M581.3 275 588.2 280.1 595.1 285.7 588.8 280.9 582.6 276.1 575.7 270.5 568.8 265.3 575 270.1z"/><path fill="#e0620c" d="M488.9 217.8L494.1 219 487.7 214.1 482.5 212.9z"/><path fill="#e05a0b" d="M482.9 213.4L488.1 214.6 481.7 209.7 476.6 208.5z"/><path fill="#da720c" d="M493.9 219.1L499 220.6 492.6 215.7 487.5 214.2z"/><path fill="#da6a0c" d="M487.9 214.7L493 216.2 486.6 211.3 481.5 209.9z"/><path fill="#d5830d" d="M498.8 220.7L503.9 222.4 497.4 217.5 492.4 215.8z"/><path fill="#d47b0d" d="M492.8 216.3L497.9 218 491.5 213.1 486.4 211.5z"/><path class="m" stroke="#542a04" d="M488.8 217.5 496.2 219.6 503.6 222.2 497.6 217.8 491.6 213.5 484.3 210.8 476.9 208.7 482.8 213.1z"/><path fill="#ff9b71" d="M269.3 214.4L274.9 208.8 269.3 204.6 263.7 210.1z"/><path fill="#ff9871" d="M264 210.4L269.6 204.9 264 200.7 258.4 206.3z"/><path fill="#ff8f72" d="M274.6 209.2L280.2 203.8 274.5 199.6 268.9 205z"/><path fill="#ff8d72" d="M269.3 205.3L274.9 200 269.2 195.8 263.7 201.1z"/><path fill="#fe8572" d="M279.8 204.2L285.4 199.2 279.8 195 274.2 200z"/><path fill="#fe8372" d="M274.5 200.3L280.1 195.3 274.5 191.1 268.9 196.2z"/><path class="m" stroke="#541404" d="M269.3 214 277.2 206.3 285.1 199.2 279.8 195.3 274.5 191.5 266.6 198.6 258.8 206.2 264 210.1z"/><path fill="#f93435" d="M381 186.2L386.5 184.4 380.5 179.9 375 181.7z"/><path fill="#f93335" d="M375.4 182.1L380.9 180.3 374.9 175.9 369.4 177.7z"/><path fill="#f92e2f" d="M386.2 184.6L391.7 183.1 385.7 178.6 380.2 180.2z"/><path fill="#f92d2f" d="M380.6 180.6L386 179.1 380 174.7 374.6 176.2z"/><path fill="#f92929" d="M391.4 183.4L396.8 182.1 390.8 177.6 385.4 178.9z"/><path fill="#f9282a" d="M385.7 179.3L391.2 178.1 385.2 173.7 379.7 174.9z"/><path class="m" stroke="#520405" d="M381 185.8 388.8 183.6 396.5 182 390.8 178 385.2 174 377.5 175.6 369.7 177.8 375.3 181.8z"/><path fill="#7be477" d="M180.8 313.3L186.3 304.1 181 299.7 175.5 309z"/><path fill="#7ce476" d="M175.9 309.2L181.3 299.9 176 295.7 170.6 304.9z"/><path fill="#8de773" d="M186 304.6L191.4 295.5 186.1 291.2 180.6 300.2z"/><path fill="#8ee772" d="M181 300.4L186.4 291.4 181.1 287.2 175.7 296.2z"/><path fill="#a5eb70" d="M191.1 296L196.6 287.2 191.2 282.9 185.8 291.7z"/><path fill="#a7eb6f" d="M186.1 291.9L191.6 283.1 186.2 278.9 180.8 287.6z"/><path class="m" stroke="#214915" d="M180.8 313 188.5 299.9 196.3 287.3 191.2 283.2 186.2 279.2 178.6 291.7 170.9 304.8 175.9 308.9z"/><path fill="#bbef6d" d="M196.3 287.7L201.8 279.1 196.4 274.8 190.9 283.4z"/><path fill="#beef6d" d="M191.2 283.6L196.7 275.1 191.4 270.8 185.9 279.4z"/><path fill="#d0f26b" d="M201.4 279.6L206.9 271.3 201.6 267 196.1 275.3z"/><path fill="#d2f26b" d="M196.4 275.5L201.9 267.2 196.5 263 191 271.3z"/><path fill="#ddef6c" d="M206.6 271.7L212.1 263.6 206.7 259.4 201.2 267.5z"/><path fill="#deef6b" d="M201.5 267.7L207.1 259.6 201.7 255.5 196.2 263.5z"/><path class="m" stroke="#3e4e0e" d="M196.3 287.3 204 275.3 211.8 263.8 206.7 259.8 201.7 255.8 193.9 267.3 186.2 279.2 191.2 283.2z"/><path fill="#4ddd92" d="M165.5 341.1L170.9 331.1 165.7 326.7 160.3 336.7z"/><path fill="#4ddd90" d="M160.6 336.9L166 326.9 160.8 322.6 155.4 332.6z"/><path fill="#54dd81" d="M170.6 331.6L176 321.9 170.8 317.5 165.4 327.3z"/><path fill="#56dd80" d="M165.7 327.4L171.1 317.7 165.8 313.4 160.4 323.1z"/><path fill="#68e07c" d="M175.7 322.4L181.2 312.8 175.9 308.5 170.4 318z"/><path fill="#6ae17b" d="M170.8 318.2L176.2 308.7 170.9 304.4 165.5 313.9z"/><path class="m" stroke="#0b451d" d="M165.5 340.8 173.2 326.6 180.8 313 175.9 308.9 170.9 304.8 163.3 318.3 155.7 332.4 160.6 336.6z"/><path fill="#d19610" d="M515.8 231.5L520.8 233.4 514.3 228.4 509.3 226.5z"/><path fill="#d0910f" d="M509.7 227L514.7 228.9 508.3 223.9 503.3 222z"/><path fill="#cb9b12" d="M520.7 233.5L525.6 235.7 519.1 230.7 514.1 228.5z"/><path fill="#cb9911" d="M514.6 229L519.6 231.2 513.1 226.2 508.1 224.1z"/><path fill="#c59f14" d="M525.5 235.8L530.4 238.2 523.9 233.2 519 230.8z"/><path fill="#c59c13" d="M519.4 231.3L524.3 233.7 517.8 228.7 512.9 226.3z"/><path class="m" stroke="#544007" d="M515.6 231.2 522.9 234.3 530.1 238 524.1 233.5 518 229 510.8 225.4 503.6 222.2 509.6 226.7z"/><path fill="#e8ed6c" d="M211.8 264.1L217.3 256.3 211.9 252.1 206.4 259.9z"/><path fill="#eaec6c" d="M206.7 260.1L212.2 252.3 206.8 248.1 201.3 255.9z"/><path fill="#f3ea6d" d="M217 256.7L222.5 249.2 217.1 245 211.6 252.5z"/><path fill="#f5ea6d" d="M211.9 252.8L217.4 245.2 212 241.1 206.5 248.6z"/><path fill="#fce76e" d="M222.2 249.6L227.8 242.3 222.3 238.1 216.8 245.4z"/><path fill="#fce66d" d="M217.1 245.7L222.6 238.3 217.2 234.2 211.7 241.5z"/><path class="m" stroke="#4f4a0b" d="M211.8 263.8 219.6 252.8 227.4 242.4 222.3 238.4 217.2 234.6 209.4 244.9 201.7 255.8 206.7 259.8z"/><path fill="#fa4749" d="M354.1 184.1L359.7 181.6 353.8 177.2 348.2 179.7z"/><path fill="#fa4649" d="M348.6 180.1L354.1 177.6 348.2 173.3 342.7 175.8z"/><path fill="#fa4042" d="M359.4 181.9L364.9 179.6 359 175.2 353.4 177.5z"/><path fill="#f93f42" d="M353.8 177.9L359.3 175.6 353.4 171.3 347.9 173.6z"/><path fill="#f9393b" d="M364.6 179.9L370.1 177.8 364.1 173.5 358.6 175.5z"/><path fill="#f9383b" d="M359 175.9L364.5 173.9 358.6 169.6 353.1 171.6z"/><path class="m" stroke="#520405" d="M354.1 183.7 361.9 180.5 369.7 177.8 364.2 173.8 358.6 169.9 350.9 172.6 343.1 175.9 348.6 179.8z"/><path fill="#36decc" d="M150.4 370.9L155.7 360.3 150.5 355.8 145.2 366.5z"/><path fill="#37deca" d="M145.5 366.6L150.8 356 145.7 351.6 140.4 362.2z"/><path fill="#3eddb7" d="M155.4 360.8L160.8 350.3 155.6 345.9 150.2 356.3z"/><path fill="#3eddb5" d="M150.5 356.5L155.9 346.1 150.7 341.7 145.4 352.1z"/><path fill="#45dda4" d="M160.5 350.8L165.8 340.6 160.6 336.2 155.3 346.4z"/><path fill="#46dda2" d="M155.6 346.6L160.9 336.4 155.7 332 150.4 342.2z"/><path class="m" stroke="#044636" d="M150.4 370.6 157.9 355.4 165.5 340.8 160.6 336.6 155.7 332.4 148.2 347 140.7 362 145.5 366.3z"/><path fill="#fde06e" d="M227.4 242.7L233 235.6 227.5 231.5 221.9 238.5z"/><path fill="#fedf6e" d="M222.3 238.8L227.8 231.7 222.4 227.6 216.9 234.6z"/><path fill="#ffd96e" d="M232.6 236.1L238.2 229.3 232.7 225.1 227.1 231.9z"/><path fill="#ffd86e" d="M227.5 232.2L233 225.4 227.6 221.3 222 228z"/><path fill="#ffcf6e" d="M237.9 229.7L243.4 223.1 237.9 219 232.4 225.5z"/><path fill="#ffce6e" d="M232.7 225.8L238.3 219.2 232.8 215.1 227.2 221.7z"/><path class="m" stroke="#544007" d="M227.4 242.4 235.2 232.5 243.1 223.2 237.9 219.3 232.8 215.5 225 224.8 217.2 234.6 222.3 238.4z"/><path fill="#fd7c72" d="M285.1 199.5L290.7 194.7 285 190.5 279.4 195.3z"/><path fill="#fc7a72" d="M279.8 195.7L285.3 190.9 279.7 186.7 274.1 191.5z"/><path fill="#fc7671" d="M290.3 195.1L295.9 190.5 290.2 186.3 284.6 190.9z"/><path fill="#fc7571" d="M285 191.2L290.6 186.7 284.9 182.5 279.4 187.1z"/><path fill="#fc716e" d="M295.6 190.9L301.2 186.6 295.5 182.4 289.9 186.7z"/><path fill="#fc716e" d="M290.2 187L295.8 182.8 290.1 178.6 284.6 182.9z"/><path class="m" stroke="#520805" d="M285.1 199.2 293 192.6 300.8 186.6 295.5 182.8 290.1 179 282.3 185 274.5 191.5 279.8 195.3z"/><path fill="#bea817" d="M542.5 247.4L547.4 250.1 540.7 245 535.9 242.3z"/><path fill="#bea516" d="M536.4 242.8L541.2 245.4 534.7 240.4 529.8 237.8z"/><path fill="#b0a618" d="M547.3 250.1L552.1 253 545.4 247.9 540.7 245z"/><path fill="#b3a518" d="M541.2 245.5L546 248.4 539.4 243.4 534.6 240.5z"/><path fill="#a2a519" d="M552 253L556.7 256.2 550.1 251.1 545.4 248z"/><path fill="#a5a419" d="M545.9 248.4L550.6 251.5 544 246.5 539.3 243.4z"/><path class="m" stroke="#4f4a0b" d="M542.3 247.1 549.4 251.3 556.5 256 550.3 251.3 544.3 246.8 537.2 242.1 530.1 238 536.2 242.5z"/><path fill="#fa5b5c" d="M327.4 184.4L333 181.1 327.1 176.8 321.6 180.1z"/><path fill="#fa5b5c" d="M321.9 180.5L327.5 177.2 321.7 173 316.2 176.2z"/><path fill="#fa5456" d="M332.6 181.4L338.2 178.4 332.4 174.1 326.8 177.1z"/><path fill="#fa5456" d="M327.2 177.5L332.7 174.5 326.9 170.3 321.4 173.3z"/><path fill="#fa4d4f" d="M337.9 178.7L343.4 175.9 337.6 171.6 332 174.4z"/><path fill="#fa4d4f" d="M332.4 174.8L337.9 172 332.1 167.8 326.6 170.6z"/><path class="m" stroke="#520405" d="M327.4 184 335.2 179.7 343.1 175.9 337.6 172 332.1 168.2 324.3 171.9 316.5 176.3 321.9 180.1z"/><path fill="#ffc56f" d="M243.1 223.5L248.7 217.2 243.1 213.1 237.6 219.4z"/><path fill="#ffc16f" d="M237.9 219.7L243.5 213.4 238 209.3 232.4 215.6z"/><path fill="#ffb36f" d="M248.3 217.6L253.9 211.6 248.3 207.4 242.8 213.5z"/><path fill="#ffaf6f" d="M243.1 213.8L248.7 207.7 243.2 203.7 237.6 209.7z"/><path fill="#ffa270" d="M253.5 212L259.1 206.2 253.6 202 248 207.8z"/><path fill="#ff9e6f" d="M248.3 208.1L253.9 202.3 248.4 198.3 242.8 204.1z"/><path class="m" stroke="#542904" d="M243.1 223.2 250.9 214.4 258.8 206.2 253.6 202.4 248.4 198.6 240.6 206.8 232.8 215.5 237.9 219.3z"/><path fill="#fa1f1a" d="M423.4 188.9L428.7 188.7 422.6 184.1 417.2 184.4z"/><path fill="#f91e1a" d="M417.6 184.8L423 184.5 416.9 180 411.5 180.3z"/><path fill="#f41d17" d="M428.5 188.9L433.8 188.8 427.6 184.3 422.3 184.3z"/><path fill="#f41c17" d="M422.7 184.8L428 184.7 421.9 180.2 416.6 180.2z"/><path fill="#ef1d15" d="M433.5 189.1L438.8 189.3 432.7 184.7 427.4 184.5z"/><path fill="#ee1c15" d="M427.8 185L433.1 185.2 426.9 180.7 421.7 180.4z"/><path class="m" stroke="#520705" d="M423.3 188.6 430.9 188.6 438.5 189.1 432.7 185 427 181 419.5 180.4 411.8 180.4 417.6 184.5z"/><path fill="#ed2911" d="M450.2 197.8L455.5 198.3 449.2 193.6 444 193.1z"/><path fill="#eb2412" d="M444.4 193.6L449.6 194.1 443.4 189.5 438.2 189z"/><path fill="#e9300f" d="M455.2 198.5L460.5 199.2 454.2 194.5 449 193.8z"/><path fill="#e72b0f" d="M449.4 194.3L454.6 195 448.4 190.4 443.2 189.7z"/><path fill="#e43a0d" d="M460.2 199.4L465.4 200.3 459.2 195.6 454 194.7z"/><path fill="#e3340d" d="M454.4 195.2L459.6 196.1 453.4 191.5 448.2 190.5z"/><path class="m" stroke="#540f04" d="M450.1 197.5 457.6 198.6 465.1 200.2 459.3 196 453.5 191.8 446 190.2 438.5 189.1 444.3 193.3z"/><path fill="#f92425" d="M396.5 182.4L402 181.3 395.9 176.9 390.5 177.9z"/><path fill="#f92325" d="M390.9 178.3L396.3 177.3 390.3 172.9 384.9 173.9z"/><path fill="#f92120" d="M401.7 181.6L407.1 180.8 401 176.3 395.6 177.1z"/><path fill="#f92020" d="M396 177.6L401.4 176.8 395.4 172.4 390 173.1z"/><path fill="#f91e1d" d="M406.8 181L412.2 180.5 406.1 176.1 400.7 176.6z"/><path fill="#f91d1d" d="M401.1 177L406.5 176.5 400.5 172.1 395.1 172.6z"/><path class="m" stroke="#520505" d="M396.5 182 404.2 180.9 411.8 180.4 406.2 176.4 400.5 172.5 392.9 173 385.2 174 390.8 178z"/><path fill="#90a61c" d="M569.1 265.6L573.7 268.9 567 263.8 562.3 260.4z"/><path fill="#92a41b" d="M562.9 260.8L567.5 264.2 560.8 259.1 556.2 255.7z"/><path fill="#83a61d" d="M573.7 268.9L578.3 272.5 571.6 267.4 567 263.8z"/><path fill="#86a51d" d="M567.5 264.2L572.1 267.8 565.4 262.7 560.8 259.1z"/><path fill="#73a321" d="M578.3 272.5L582.9 276.3 576.1 271.2 571.6 267.4z"/><path fill="#78a420" d="M572.2 267.8L576.7 271.6 570 266.6 565.4 262.7z"/><path class="m" stroke="#3f4e0e" d="M568.8 265.3 575.7 270.5 582.6 276.1 576.4 271.4 570.3 266.7 563.4 261.1 556.5 256 562.6 260.6z"/><path fill="#fb6d6b" d="M300.8 186.9L306.4 182.9 300.7 178.7 295.1 182.8z"/><path fill="#fb6c6b" d="M295.5 183.1L301 179.1 295.4 175 289.8 179z"/><path fill="#fb6766" d="M306.1 183.3L311.6 179.5 305.9 175.3 300.3 179.1z"/><path fill="#fb6766" d="M300.7 179.4L306.3 175.7 300.6 171.5 295 175.3z"/><path fill="#fb6161" d="M311.3 179.8L316.9 176.3 311.1 172.1 305.6 175.6z"/><path fill="#fb6162" d="M305.9 176L311.5 172.5 305.8 168.4 300.2 171.9z"/><path class="m" stroke="#520505" d="M300.8 186.6 308.7 181.2 316.5 176.3 311.1 172.5 305.8 168.7 298 173.6 290.1 179 295.5 182.8z"/><path fill="#df510b" d="M477 209L482.1 210.2 475.8 205.4 470.7 204.2z"/><path fill="#de4b0b" d="M471.1 204.7L476.2 205.9 469.9 201.2 464.8 200z"/><path fill="#d9620b" d="M482 210.4L487.1 211.8 480.7 207 475.6 205.6z"/><path fill="#d95a0b" d="M476 206.1L481.1 207.5 474.8 202.8 469.7 201.4z"/><path fill="#d4730c" d="M486.9 212L491.9 213.6 485.6 208.9 480.5 207.2z"/><path fill="#d46b0b" d="M481 207.7L486 209.3 479.7 204.6 474.7 202.9z"/><path class="m" stroke="#542404" d="M476.9 208.7 484.3 210.8 491.6 213.5 485.7 209.2 479.8 204.9 472.5 202.3 465.1 200.2 471 204.4z"/><path fill="#f93235" d="M369.8 178.1L375.2 176.3 369.3 172 363.8 173.7z"/><path fill="#f93235" d="M364.2 174.2L369.7 172.4 363.8 168.1 358.3 169.8z"/><path fill="#f92c2f" d="M374.9 176.6L380.4 175.1 374.4 170.7 369 172.2z"/><path fill="#f92c2f" d="M369.4 172.7L374.8 171.2 368.9 166.9 363.4 168.4z"/><path fill="#f9272a" d="M380.1 175.4L385.5 174.1 379.6 169.7 374.1 171z"/><path fill="#f8262a" d="M374.5 171.4L380 170.2 374 165.9 368.6 167.1z"/><path class="m" stroke="#520405" d="M369.7 177.8 377.5 175.6 385.2 174 379.6 170.1 374.1 166.2 366.4 167.8 358.6 169.9 364.2 173.8z"/><path fill="#ff9571" d="M258.8 206.6L264.4 201 258.8 196.9 253.2 202.4z"/><path fill="#ff9371" d="M253.6 202.7L259.1 197.2 253.6 193.1 248 198.7z"/><path fill="#ff8a72" d="M264 201.4L269.6 196.1 264 192 258.4 197.3z"/><path fill="#ff8872" d="M258.8 197.6L264.4 192.3 258.8 188.3 253.2 193.5z"/><path fill="#fd8173" d="M269.2 196.5L274.8 191.5 269.2 187.4 263.7 192.4z"/><path fill="#fd7f73" d="M264 192.7L269.6 187.7 264 183.6 258.5 188.6z"/><path class="m" stroke="#541104" d="M258.8 206.2 266.6 198.6 274.5 191.5 269.2 187.7 264 184 256.2 191 248.4 198.6 253.6 202.4z"/><path fill="#7ee476" d="M170.9 305.1L176.3 295.9 171.1 291.7 165.7 300.9z"/><path fill="#7fe475" d="M166 301.1L171.4 291.9 166.2 287.7 160.8 296.9z"/><path fill="#91e771" d="M176 296.4L181.4 287.4 176.2 283.2 170.7 292.2z"/><path fill="#93e871" d="M171.1 292.4L176.5 283.4 171.2 279.2 165.8 288.2z"/><path fill="#a9ec6f" d="M181.1 287.9L186.6 279.1 181.3 274.9 175.8 283.7z"/><path fill="#abec6e" d="M176.2 283.9L181.6 275.1 176.3 271 170.9 279.7z"/><path class="m" stroke="#234a14" d="M170.9 304.8 178.6 291.7 186.2 279.2 181.3 275.3 176.3 271.4 168.7 283.8 161.1 296.8 166 300.7z"/><path fill="#c0f06c" d="M186.2 279.6L191.7 271.1 186.4 266.9 180.9 275.4z"/><path fill="#c2f06b" d="M181.3 275.6L186.7 267.1 181.4 263 176 271.5z"/><path fill="#d3f16b" d="M191.4 271.5L196.8 263.3 191.5 259.1 186.1 267.4z"/><path fill="#d4f16a" d="M186.4 267.6L191.8 259.3 186.5 255.3 181.1 263.5z"/><path fill="#dfef6b" d="M196.5 263.7L202 255.7 196.7 251.6 191.2 259.6z"/><path fill="#e1ee6b" d="M191.5 259.8L197 251.8 191.7 247.7 186.2 255.7z"/><path class="m" stroke="#404e0d" d="M186.2 279.2 193.9 267.3 201.7 255.8 196.7 251.9 191.7 248.1 184 259.5 176.3 271.4 181.3 275.3z"/><path fill="#d08c0e" d="M503.7 222.5L508.7 224.4 502.3 219.5 497.3 217.6z"/><path fill="#cf880e" d="M497.7 218.1L502.7 220 496.3 215.2 491.3 213.3z"/><path fill="#ca9510" d="M508.6 224.6L513.5 226.7 507.1 221.8 502.1 219.7z"/><path fill="#ca900f" d="M502.6 220.2L507.6 222.3 501.1 217.5 496.2 215.3z"/><path fill="#c59912" d="M513.4 226.8L518.3 229.2 511.9 224.3 507 221.9z"/><path fill="#c49711" d="M507.4 222.4L512.3 224.8 505.9 220 501 217.6z"/><path class="m" stroke="#543d06" d="M503.6 222.2 510.8 225.4 518 229 512.1 224.6 506.1 220.3 498.9 216.6 491.6 213.5 497.6 217.8z"/><path fill="#4ddd8e" d="M155.7 332.7L161.1 322.8 155.9 318.5 150.5 328.4z"/><path fill="#4edd8d" d="M150.8 328.6L156.2 318.7 151 314.5 145.7 324.4z"/><path fill="#57dd80" d="M160.8 323.3L166.1 313.6 160.9 309.3 155.6 319z"/><path fill="#59de7f" d="M155.9 319.2L161.2 309.5 156.1 305.3 150.7 315z"/><path fill="#6be17a" d="M165.8 314.1L171.2 304.6 166 300.4 160.6 309.8z"/><path fill="#6de17a" d="M160.9 310L166.3 300.6 161.1 296.4 155.7 305.8z"/><path class="m" stroke="#0c461d" d="M155.7 332.4 163.3 318.3 170.9 304.8 166 300.7 161.1 296.8 153.5 310.2 146 324.2 150.8 328.3z"/><path fill="#f94649" d="M343.1 176.2L348.6 173.7 342.8 169.4 337.2 171.9z"/><path fill="#f94549" d="M337.6 172.3L343.1 169.8 337.3 165.6 331.8 168.1z"/><path fill="#f93e42" d="M348.3 174L353.8 171.7 347.9 167.5 342.4 169.7z"/><path fill="#f93e42" d="M342.8 170.1L348.3 167.9 342.5 163.7 337 165.9z"/><path fill="#f9373b" d="M353.5 172L359 170 353.1 165.7 347.6 167.7z"/><path fill="#f8373b" d="M348 168.2L353.5 166.2 347.6 161.9 342.1 163.9z"/><path class="m" stroke="#520305" d="M343.1 175.9 350.9 172.6 358.6 169.9 353.1 166.1 347.6 162.3 339.9 165 332.1 168.2 337.6 172z"/><path fill="#ebec6c" d="M201.7 256.2L207.2 248.4 201.8 244.3 196.3 252z"/><path fill="#ecec6b" d="M196.6 252.3L202.1 244.5 196.8 240.4 191.3 248.2z"/><path fill="#f6ea6c" d="M206.8 248.8L212.3 241.3 207 237.2 201.5 244.7z"/><path fill="#f7e96c" d="M201.8 245L207.3 237.4 202 233.4 196.5 240.9z"/><path fill="#fce56d" d="M212 241.8L217.5 234.5 212.1 230.4 206.6 237.7z"/><path fill="#fde46d" d="M207 237.9L212.5 230.6 207.1 226.6 201.6 233.9z"/><path class="m" stroke="#50490a" d="M201.7 255.8 209.4 244.9 217.2 234.6 212.1 230.7 207.1 227 199.4 237.2 191.7 248.1 196.7 251.9z"/><path fill="#37dec8" d="M140.7 362.4L146 351.8 140.8 347.4 135.6 358z"/><path fill="#37dec7" d="M135.9 358.2L141.1 347.6 136 343.3 130.8 353.9z"/><path fill="#3fddb4" d="M145.7 352.3L151 341.9 145.8 337.6 140.5 347.9z"/><path fill="#3fddb2" d="M140.8 348.1L146.1 337.7 141 333.5 135.7 343.8z"/><path fill="#46dda0" d="M150.7 342.4L156 332.2 150.8 327.9 145.5 338.1z"/><path fill="#46dd9f" d="M145.8 338.3L151.1 328.1 146 323.9 140.7 334z"/><path class="m" stroke="#044634" d="M140.7 362 148.2 347 155.7 332.4 150.8 328.3 146 324.2 138.5 338.7 131.1 353.7 135.9 357.8z"/><path fill="#fede6d" d="M217.2 234.9L222.7 227.9 217.3 223.8 211.8 230.8z"/><path fill="#fedd6d" d="M212.1 231.1L217.6 224.1 212.3 220 206.8 227z"/><path fill="#ffd76d" d="M222.4 228.3L227.9 221.5 222.5 217.5 217 224.2z"/><path fill="#ffd56d" d="M217.3 224.5L222.8 217.7 217.4 213.7 211.9 220.5z"/><path fill="#ffcc6e" d="M227.6 222L233.1 215.4 227.7 211.4 222.1 217.9z"/><path fill="#ffca6d" d="M222.5 218.2L228 211.6 222.6 207.6 217.1 214.1z"/><path class="m" stroke="#543e07" d="M217.2 234.6 225 224.8 232.8 215.5 227.7 211.7 222.6 208 214.8 217.2 207.1 227 212.1 230.7z"/><path fill="#fc7872" d="M274.5 191.8L280.1 187 274.4 183 268.9 187.7z"/><path fill="#fc7872" d="M269.2 188.1L274.8 183.3 269.2 179.2 263.7 184z"/><path fill="#fc7571" d="M279.7 187.4L285.3 182.9 279.7 178.8 274.1 183.3z"/><path fill="#fc7471" d="M274.4 183.7L280 179.1 274.4 175.1 268.9 179.6z"/><path fill="#fb706e" d="M284.9 183.2L290.5 179 284.9 174.9 279.3 179.2z"/><path fill="#fb706e" d="M279.7 179.5L285.2 175.2 279.6 171.2 274.1 175.5z"/><path class="m" stroke="#520705" d="M274.5 191.5 282.3 185 290.1 179 284.9 175.2 279.6 171.6 271.8 177.5 264 184 269.2 187.7z"/><path fill="#bea315" d="M530.3 238.3L535.2 240.9 528.6 235.9 523.8 233.3z"/><path fill="#bea015" d="M524.3 233.8L529.1 236.4 522.6 231.5 517.7 228.8z"/><path fill="#b5a417" d="M535.1 241L539.9 243.8 533.3 238.9 528.5 236z"/><path fill="#b7a317" d="M529 236.5L533.8 239.3 527.3 234.4 522.5 231.5z"/><path fill="#a7a318" d="M539.8 243.9L544.6 247 538 242 533.2 238.9z"/><path fill="#aaa218" d="M533.8 239.4L538.5 242.5 532 237.6 527.2 234.5z"/><path class="m" stroke="#51490a" d="M530.1 238 537.2 242.1 544.3 246.8 538.2 242.3 532.2 237.8 525.2 233.2 518 229 524.1 233.5z"/><path fill="#fa5a5c" d="M316.5 176.6L322.1 173.3 316.3 169.2 310.8 172.4z"/><path fill="#fa5a5c" d="M311.1 172.8L316.7 169.6 311 165.4 305.4 168.7z"/><path fill="#fa5356" d="M321.7 173.7L327.3 170.7 321.5 166.5 316 169.5z"/><path fill="#fa5356" d="M316.3 169.9L321.9 166.9 316.2 162.8 310.6 165.8z"/><path fill="#f94c4f" d="M326.9 171L332.5 168.2 326.7 164.1 321.2 166.8z"/><path fill="#f94c4f" d="M321.5 167.2L327.1 164.4 321.3 160.3 315.8 163.1z"/><path class="m" stroke="#520405" d="M316.5 176.3 324.3 171.9 332.1 168.2 326.7 164.4 321.3 160.7 313.6 164.4 305.8 168.7 311.1 172.5z"/><path fill="#ffbe6e" d="M232.8 215.8L238.3 209.6 232.9 205.5 227.3 211.8z"/><path fill="#ffbb6e" d="M227.7 212.1L233.2 205.8 227.8 201.8 222.3 208.1z"/><path fill="#ffac6f" d="M238 210L243.5 203.9 238 199.9 232.5 205.9z"/><path fill="#ffa96e" d="M232.8 206.2L238.4 200.2 232.9 196.2 227.4 202.2z"/><path fill="#ff9c6f" d="M243.2 204.4L248.7 198.6 243.2 194.6 237.7 200.3z"/><path fill="#ff9a6f" d="M238 200.6L243.6 194.9 238.1 190.9 232.6 196.6z"/><path class="m" stroke="#542504" d="M232.8 215.5 240.6 206.8 248.4 198.6 243.2 194.9 238.1 191.2 230.4 199.3 222.6 208 227.7 211.7z"/><path fill="#f81d1a" d="M411.9 180.8L417.3 180.5 411.2 176 405.8 176.3z"/><path fill="#f71c1a" d="M406.2 176.8L411.6 176.5 405.5 172.1 400.2 172.3z"/><path fill="#f31b17" d="M417 180.7L422.3 180.7 416.2 176.2 410.9 176.2z"/><path fill="#f21a17" d="M411.3 176.7L416.6 176.7 410.6 172.3 405.3 172.3z"/><path fill="#ed1a15" d="M422 180.9L427.3 181.1 421.3 176.7 416 176.4z"/><path fill="#ed1915" d="M416.3 176.9L421.6 177.1 415.6 172.7 410.3 172.5z"/><path class="m" stroke="#520605" d="M411.8 180.4 419.5 180.4 427 181 421.3 177 415.7 173.1 408.1 172.5 400.5 172.5 406.2 176.4z"/><path fill="#ea1f12" d="M438.6 189.5L443.8 189.9 437.7 185.4 432.4 184.9z"/><path fill="#e91b13" d="M432.8 185.4L438.1 185.8 431.9 181.3 426.7 180.9z"/><path fill="#e62610" d="M443.6 190.1L448.8 190.8 442.6 186.3 437.4 185.6z"/><path fill="#e42210" d="M437.8 186L443 186.8 436.9 182.2 431.7 181.5z"/><path fill="#e22f0e" d="M448.6 191L453.8 192 447.6 187.4 442.4 186.5z"/><path fill="#e12a0e" d="M442.8 186.9L448 187.9 441.9 183.4 436.7 182.4z"/><path class="m" stroke="#530c05" d="M438.5 189.1 446 190.2 453.5 191.8 447.7 187.7 442 183.7 434.5 182.1 427 181 432.7 185z"/><path fill="#f92325" d="M385.2 174.4L390.7 173.3 384.7 169 379.3 170z"/><path fill="#f92225" d="M379.6 170.4L385.1 169.4 379.1 165.1 373.7 166.1z"/><path fill="#f91f21" d="M390.4 173.6L395.8 172.8 389.8 168.5 384.4 169.2z"/><path fill="#f91e21" d="M384.8 169.7L390.2 168.9 384.2 164.6 378.8 165.4z"/><path fill="#f91c1d" d="M395.5 173.1L400.9 172.6 394.9 168.2 389.5 168.7z"/><path fill="#f91c1d" d="M389.9 169.2L395.2 168.7 389.3 164.4 383.9 164.9z"/><path class="m" stroke="#520405" d="M385.2 174 392.9 173 400.5 172.5 394.9 168.6 389.3 164.7 381.7 165.2 374.1 166.2 379.6 170.1z"/><path fill="#95a31b" d="M556.7 256.2L561.4 259.5 554.7 254.5 550.1 251.1z"/><path fill="#97a21a" d="M550.6 251.6L555.3 254.9 548.6 249.9 544 246.6z"/><path fill="#89a41c" d="M561.4 259.5L566 263.1 559.3 258.1 554.7 254.5z"/><path fill="#8ca31c" d="M555.3 254.9L559.9 258.5 553.2 253.6 548.6 250z"/><path fill="#7ca51f" d="M566 263.1L570.6 266.9 563.9 262 559.3 258.1z"/><path fill="#81a61e" d="M559.9 258.5L564.5 262.3 557.8 257.4 553.3 253.5z"/><path class="m" stroke="#414d0d" d="M556.5 256 563.4 261.1 570.3 266.7 564.2 262.1 558.1 257.6 551.2 251.9 544.3 246.8 550.3 251.3z"/><path fill="#de450b" d="M465.2 200.5L470.4 201.7 464.1 197 459 195.8z"/><path fill="#dd3f0b" d="M459.4 196.3L464.5 197.5 458.3 192.9 453.1 191.7z"/><path fill="#d8520a" d="M470.2 201.9L475.3 203.3 469 198.6 463.9 197.2z"/><path fill="#d84b0a" d="M464.3 197.7L469.4 199.1 463.2 194.5 458.1 193z"/><path fill="#d3640b" d="M475.1 203.4L480.1 205.1 473.9 200.4 468.8 198.8z"/><path fill="#d35c0a" d="M469.2 199.3L474.3 200.9 468.1 196.3 463 194.6z"/><path class="m" stroke="#541e03" d="M465.1 200.2 472.5 202.3 479.8 204.9 474 200.8 468.2 196.6 460.9 194 453.5 191.8 459.3 196z"/><path fill="#fb6c6b" d="M290.2 179.3L295.7 175.3 290.1 171.2 284.5 175.2z"/><path fill="#fb6b6b" d="M284.9 175.6L290.4 171.6 284.8 167.6 279.3 171.6z"/><path fill="#fb6666" d="M295.4 175.7L300.9 171.9 295.3 167.8 289.7 171.6z"/><path fill="#fb6666" d="M290.1 171.9L295.6 168.2 290 164.2 284.5 167.9z"/><path fill="#fa6062" d="M300.6 172.2L306.1 168.7 300.5 164.7 294.9 168.2z"/><path fill="#fa6062" d="M295.3 168.5L300.8 165 295.2 161 289.7 164.5z"/><path class="m" stroke="#520505" d="M290.1 179 298 173.6 305.8 168.7 300.5 165 295.2 161.4 287.4 166.2 279.6 171.6 284.9 175.2z"/><path fill="#f83135" d="M358.6 170.3L364.1 168.5 358.2 164.3 352.8 166z"/><path fill="#f83035" d="M353.1 166.4L358.6 164.7 352.8 160.5 347.3 162.2z"/><path fill="#f82b2f" d="M363.8 168.8L369.3 167.3 363.4 163 357.9 164.5z"/><path fill="#f82a2f" d="M358.3 165L363.7 163.5 357.9 159.3 352.5 160.8z"/><path fill="#f8262a" d="M369 167.6L374.4 166.3 368.5 162.1 363.1 163.3z"/><path fill="#f8252a" d="M363.4 163.7L368.9 162.5 363 158.3 357.6 159.5z"/><path class="m" stroke="#520305" d="M358.6 169.9 366.4 167.8 374.1 166.2 368.5 162.4 363 158.6 355.4 160.2 347.6 162.3 353.1 166.1z"/><path fill="#ff9071" d="M248.4 199L253.9 193.5 248.4 189.4 242.9 195z"/><path fill="#ff8e71" d="M243.2 195.3L248.8 189.7 243.3 185.8 237.8 191.3z"/><path fill="#fe8672" d="M253.6 193.8L259.1 188.6 253.6 184.6 248.1 189.8z"/><path fill="#fe8472" d="M248.4 190.1L254 184.9 248.5 180.9 243 186.2z"/><path fill="#fd7d73" d="M258.8 189L264.4 184 258.8 180 253.3 185z"/><path fill="#fc7b73" d="M253.6 185.3L259.2 180.3 253.7 176.3 248.1 181.3z"/><path class="m" stroke="#540f04" d="M248.4 198.6 256.2 191 264 184 258.8 180.3 253.7 176.7 245.9 183.7 238.1 191.2 243.2 194.9z"/><path fill="#cf830d" d="M491.8 213.8L496.8 215.7 490.4 210.9 485.4 209z"/><path fill="#ce7d0c" d="M485.9 209.5L490.9 211.4 484.5 206.7 479.5 204.8z"/><path fill="#ca8c0f" d="M496.7 215.8L501.6 218 495.2 213.2 490.3 211z"/><path fill="#c9880e" d="M490.7 211.5L495.7 213.7 489.4 209 484.4 206.8z"/><path fill="#c49410" d="M501.5 218.1L506.4 220.5 500 215.7 495.1 213.3z"/><path fill="#c4910f" d="M495.6 213.8L500.5 216.2 494.1 211.5 489.2 209.1z"/><path class="m" stroke="#543a06" d="M491.6 213.5 498.9 216.6 506.1 220.3 500.2 216 494.3 211.8 487.1 208.1 479.8 204.9 485.7 209.2z"/><path fill="#f94549" d="M332.1 168.5L337.7 166 331.9 161.9 326.4 164.4z"/><path fill="#f94449" d="M326.7 164.8L332.2 162.3 326.5 158.2 321 160.6z"/><path fill="#f93d42" d="M337.3 166.3L342.8 164.1 337 159.9 331.6 162.2z"/><path fill="#f83d42" d="M331.9 162.6L337.4 160.3 331.7 156.2 326.2 158.4z"/><path fill="#f8363b" d="M342.5 164.4L348 162.4 342.2 158.2 336.7 160.2z"/><path fill="#f8363c" d="M337.1 160.6L342.6 158.6 336.8 154.5 331.3 156.5z"/><path class="m" stroke="#510305" d="M332.1 168.2 339.9 165 347.6 162.3 342.2 158.6 336.8 154.9 329.1 157.5 321.3 160.7 326.7 164.4z"/><path fill="#fc7772" d="M264 184.3L269.6 179.6 264 175.6 258.5 180.3z"/><path fill="#fc7772" d="M258.8 180.7L264.4 175.9 258.9 172 253.3 176.7z"/><path fill="#fc7470" d="M269.2 179.9L274.8 175.4 269.2 171.5 263.7 176z"/><path fill="#fc7370" d="M264 176.3L269.6 171.8 264 167.9 258.5 172.4z"/><path fill="#fb6f6e" d="M274.4 175.8L280 171.6 274.4 167.6 268.9 171.8z"/><path fill="#fb6f6e" d="M269.2 172.2L274.7 167.9 269.2 164 263.7 168.2z"/><path class="m" stroke="#520705" d="M264 184 271.8 177.5 279.6 171.6 274.4 167.9 269.2 164.4 261.4 170.2 253.7 176.7 258.8 180.3z"/><path fill="#be9d14" d="M518.2 229.3L523.1 231.9 516.6 227.1 511.8 224.4z"/><path fill="#be9a13" d="M512.3 224.9L517.1 227.5 510.7 222.7 505.8 220.1z"/><path fill="#b9a116" d="M523 232L527.8 234.9 521.3 230 516.5 227.2z"/><path fill="#b99f15" d="M517 227.6L521.8 230.5 515.4 225.7 510.6 222.8z"/><path fill="#aca117" d="M527.8 234.9L532.5 238 526 233.2 521.3 230.1z"/><path fill="#aea017" d="M521.8 230.5L526.5 233.7 520 228.9 515.3 225.8z"/><path class="m" stroke="#53480a" d="M518 229 525.2 233.2 532.2 237.8 526.2 233.5 520.3 229.1 513.2 224.5 506.1 220.3 512.1 224.6z"/><path fill="#fa595c" d="M305.8 169.1L311.3 165.8 305.6 161.8 300.1 165z"/><path fill="#fa595c" d="M300.5 165.4L306 162.1 300.4 158.1 294.8 161.4z"/><path fill="#f95256" d="M311 166.1L316.5 163.2 310.8 159.1 305.3 162.1z"/><path fill="#f95256" d="M305.7 162.5L311.2 159.5 305.5 155.5 300 158.4z"/><path fill="#f94b50" d="M316.2 163.5L321.7 160.7 316 156.7 310.5 159.4z"/><path fill="#f94b50" d="M310.8 159.8L316.3 157.1 310.7 153.1 305.2 155.8z"/><path class="m" stroke="#520305" d="M305.8 168.7 313.6 164.4 321.3 160.7 316 157 310.7 153.4 302.9 157.1 295.2 161.4 300.5 165z"/><path fill="#f71b1a" d="M400.6 172.8L405.9 172.5 399.9 168.2 394.6 168.4z"/><path fill="#f61a1a" d="M395 168.9L400.3 168.6 394.3 164.3 389 164.6z"/><path fill="#f11917" d="M405.6 172.8L411 172.7 405 168.4 399.6 168.4z"/><path fill="#f01817" d="M400 168.9L405.3 168.9 399.4 164.5 394.1 164.6z"/><path fill="#ec1815" d="M410.7 173L416 173.2 410 168.8 404.7 168.6z"/><path fill="#eb1715" d="M405.1 169.1L410.4 169.3 404.4 165 399.1 164.8z"/><path class="m" stroke="#520605" d="M400.5 172.5 408.1 172.5 415.7 173.1 410 169.2 404.4 165.3 396.9 164.8 389.3 164.7 394.9 168.6z"/><path fill="#e81a13" d="M427.1 181.3L432.3 181.8 426.2 177.3 421 176.9z"/><path fill="#e71913" d="M421.4 177.3L426.6 177.8 420.6 173.4 415.3 172.9z"/><path fill="#e31d11" d="M432.1 182L437.3 182.7 431.2 178.2 426 177.5z"/><path fill="#e21a11" d="M426.4 178L431.6 178.7 425.6 174.3 420.3 173.6z"/><path fill="#df260e" d="M437.1 182.9L442.3 183.9 436.2 179.4 431 178.4z"/><path fill="#de210f" d="M431.4 178.9L436.6 179.9 430.5 175.5 425.3 174.5z"/><path class="m" stroke="#530905" d="M427 181 434.5 182.1 442 183.7 436.3 179.7 430.6 175.8 423.2 174.2 415.7 173.1 421.3 177z"/><path fill="#f82125" d="M374.1 166.6L379.5 165.6 373.6 161.3 368.2 162.3z"/><path fill="#f82025" d="M368.6 162.8L374 161.8 368.1 157.6 362.7 158.5z"/><path fill="#f81d21" d="M379.2 165.8L384.6 165.1 378.7 160.8 373.3 161.6z"/><path fill="#f81d21" d="M373.7 162L379.1 161.3 373.2 157.1 367.8 157.8z"/><path fill="#f81b1d" d="M384.3 165.3L389.7 164.8 383.8 160.6 378.4 161.1z"/><path fill="#f81a1d" d="M378.8 161.5L384.1 161 378.3 156.8 372.9 157.3z"/><path class="m" stroke="#520405" d="M374.1 166.2 381.7 165.2 389.3 164.7 383.8 160.9 378.3 157.2 370.7 157.6 363 158.6 368.5 162.4z"/><path fill="#9aa119" d="M544.5 247L549.2 250.4 542.6 245.4 537.9 242.1z"/><path fill="#9ca019" d="M538.5 242.5L543.2 245.9 536.6 241 531.9 237.6z"/><path fill="#8fa31b" d="M549.2 250.4L553.8 254 547.2 249.1 542.6 245.5z"/><path fill="#91a21b" d="M543.2 245.9L547.8 249.5 541.2 244.6 536.6 241z"/><path fill="#84a51d" d="M553.8 253.9L558.4 257.8 551.8 252.9 547.2 249z"/><path fill="#87a51d" d="M547.8 249.4L552.4 253.3 545.8 248.5 541.2 244.6z"/><path class="m" stroke="#444d0d" d="M544.3 246.8 551.2 251.9 558.1 257.6 552.1 253.1 546.1 248.6 539.2 243 532.2 237.8 538.2 242.3z"/><path fill="#dd3a0c" d="M453.6 192.2L458.7 193.4 452.5 188.8 447.4 187.6z"/><path fill="#dc340c" d="M447.8 188.1L452.9 189.3 446.8 184.8 441.6 183.6z"/><path fill="#d7460a" d="M458.5 193.5L463.6 195 457.4 190.4 452.3 189z"/><path fill="#d7410a" d="M452.7 189.4L457.8 190.9 451.7 186.4 446.6 184.9z"/><path fill="#d2550a" d="M463.4 195.1L468.5 196.8 462.3 192.2 457.2 190.5z"/><path fill="#d24e09" d="M457.7 191L462.7 192.7 456.6 188.2 451.5 186.5z"/><path class="m" stroke="#541a04" d="M453.5 191.8 460.9 194 468.2 196.6 462.4 192.5 456.7 188.5 449.3 185.9 442 183.7 447.7 187.7z"/><path fill="#fb6b6b" d="M279.6 171.9L285.2 167.9 279.6 164 274 167.9z"/><path fill="#fb6a6b" d="M274.4 168.3L279.9 164.3 274.4 160.4 268.9 164.4z"/><path fill="#fb6566" d="M284.8 168.3L290.4 164.5 284.8 160.6 279.2 164.3z"/><path fill="#fb6566" d="M279.6 164.7L285.1 160.9 279.6 157 274 160.7z"/><path fill="#fa5f62" d="M290 164.9L295.5 161.4 289.9 157.4 284.4 160.9z"/><path fill="#fa5f62" d="M284.8 161.3L290.3 157.8 284.7 153.9 279.2 157.4z"/><path class="m" stroke="#520405" d="M279.6 171.6 287.4 166.2 295.2 161.4 289.9 157.8 284.7 154.2 277 159 269.2 164.4 274.4 167.9z"/><path fill="#f83035" d="M347.7 162.6L353.1 160.9 347.3 156.8 341.9 158.5z"/><path fill="#f82f35" d="M342.2 158.9L347.7 157.2 341.9 153.1 336.5 154.8z"/><path fill="#f82a2f" d="M352.8 161.2L358.3 159.7 352.5 155.5 347 157z"/><path fill="#f7292f" d="M347.4 157.5L352.8 156 347 151.9 341.6 153.3z"/><path fill="#f8242a" d="M357.9 160L363.4 158.7 357.6 154.6 352.1 155.8z"/><path fill="#f7242a" d="M352.5 156.2L357.9 155 352.1 150.9 346.7 152.1z"/><path class="m" stroke="#510305" d="M347.6 162.3 355.4 160.2 363 158.6 357.6 154.9 352.2 151.3 344.5 152.8 336.8 154.9 342.2 158.6z"/><path fill="#ce760c" d="M480 205.3L485 207.2 478.7 202.5 473.7 200.6z"/><path fill="#cd6e0b" d="M474.1 201.1L479.2 203 472.9 198.4 467.9 196.4z"/><path fill="#c9840d" d="M484.9 207.3L489.8 209.4 483.5 204.8 478.6 202.6z"/><path fill="#c8800c" d="M479 203.1L484 205.3 477.7 200.7 472.7 198.5z"/><path fill="#c48d0f" d="M489.7 209.6L494.6 212 488.3 207.3 483.4 204.9z"/><path fill="#c3890e" d="M483.9 205.4L488.8 207.8 482.5 203.2 477.6 200.8z"/><path class="m" stroke="#543605" d="M479.8 204.9 487.1 208.1 494.3 211.8 488.5 207.6 482.7 203.5 475.5 199.8 468.2 196.6 474 200.8z"/><path fill="#f84449" d="M321.4 161L326.9 158.6 321.1 154.5 315.7 157z"/><path fill="#f84349" d="M316 157.4L321.5 154.9 315.8 150.9 310.3 153.4z"/><path fill="#f83c42" d="M326.5 158.9L332 156.6 326.3 152.6 320.8 154.8z"/><path fill="#f83c42" d="M321.2 155.2L326.7 153 321 149 315.5 151.2z"/><path fill="#f8353c" d="M331.7 156.9L337.2 154.9 331.4 150.9 326 152.9z"/><path fill="#f7353c" d="M326.3 153.3L331.8 151.3 326.1 147.3 320.6 149.3z"/><path class="m" stroke="#510205" d="M321.3 160.7 329.1 157.5 336.8 154.9 331.4 151.2 326.1 147.7 318.4 150.3 310.7 153.4 316 157z"/><path fill="#be9812" d="M506.3 220.6L511.2 223.2 504.8 218.4 499.9 215.8z"/><path fill="#be9511" d="M500.4 216.3L505.3 218.9 498.9 214.2 494 211.6z"/><path fill="#b99c14" d="M511.1 223.3L515.9 226.2 509.5 221.4 504.7 218.5z"/><path fill="#b99a14" d="M505.2 219L510 221.9 503.6 217.2 498.8 214.3z"/><path fill="#b09f16" d="M515.9 226.2L520.6 229.3 514.1 224.6 509.4 221.5z"/><path fill="#b39e16" d="M509.9 221.9L514.7 225 508.3 220.4 503.5 217.2z"/><path class="m" stroke="#534609" d="M506.1 220.3 513.2 224.5 520.3 229.1 514.4 224.8 508.5 220.6 501.5 215.9 494.3 211.8 500.2 216z"/><path fill="#fa595c" d="M295.2 161.7L300.7 158.5 295.1 154.5 289.6 157.8z"/><path fill="#f9585c" d="M289.9 158.1L295.5 154.9 289.9 151 284.4 154.2z"/><path fill="#f95256" d="M300.4 158.8L305.9 155.9 300.3 151.9 294.8 154.9z"/><path fill="#f95156" d="M295.1 155.2L300.6 152.3 295 148.4 289.5 151.3z"/><path fill="#f94a50" d="M305.5 156.2L311 153.5 305.4 149.5 299.9 152.2z"/><path fill="#f84a50" d="M300.3 152.6L305.8 149.9 300.2 146 294.7 148.7z"/><path class="m" stroke="#510305" d="M295.2 161.4 302.9 157.1 310.7 153.4 305.4 149.9 300.2 146.3 292.5 150 284.7 154.2 289.9 157.8z"/><path fill="#f5191a" d="M389.4 165.1L394.7 164.8 388.8 160.5 383.5 160.8z"/><path fill="#f4181a" d="M383.8 161.3L389.2 161 383.3 156.8 378 157z"/><path fill="#f01717" d="M394.4 165L399.8 165 393.8 160.8 388.5 160.8z"/><path fill="#ef1617" d="M388.9 161.2L394.2 161.2 388.3 157 383 157z"/><path fill="#ea1714" d="M399.5 165.2L404.8 165.5 398.8 161.2 393.6 161z"/><path fill="#ea1614" d="M393.9 161.5L399.2 161.7 393.3 157.5 388 157.2z"/><path class="m" stroke="#520505" d="M389.3 164.7 396.9 164.8 404.4 165.3 398.9 161.6 393.4 157.8 385.9 157.2 378.3 157.2 383.8 160.9z"/><path fill="#e71813" d="M415.7 173.4L421 173.9 415 169.5 409.7 169z"/><path fill="#e61713" d="M410.1 169.5L415.4 170 409.4 165.7 404.1 165.2z"/><path fill="#e11911" d="M420.7 174.1L426 174.8 419.9 170.4 414.7 169.7z"/><path fill="#e11811" d="M415.1 170.2L420.3 170.9 414.3 166.6 409.1 165.9z"/><path fill="#dd1d0f" d="M425.7 175L430.9 176 424.9 171.6 419.7 170.6z"/><path fill="#dc1910" d="M420.1 171.1L425.3 172.1 419.3 167.8 414.1 166.8z"/><path class="m" stroke="#520805" d="M415.7 173.1 423.2 174.2 430.6 175.8 425 171.9 419.4 168.1 411.9 166.5 404.4 165.3 410 169.2z"/><path fill="#9e9f18" d="M532.5 238.1L537.1 241.4 530.6 236.6 526 233.2z"/><path fill="#a19e18" d="M526.5 233.7L531.2 237 524.7 232.3 520 228.9z"/><path fill="#94a11a" d="M537.2 241.4L541.8 245 535.2 240.2 530.6 236.6z"/><path fill="#96a11a" d="M531.2 237L535.8 240.6 529.3 235.9 524.7 232.3z"/><path fill="#89a41c" d="M541.8 245L546.4 248.8 539.8 244.1 535.2 240.2z"/><path fill="#8ca31c" d="M535.8 240.6L540.4 244.4 533.9 239.8 529.3 235.9z"/><path class="m" stroke="#464c0c" d="M532.2 237.8 539.2 243 546.1 248.6 540.1 244.2 534.2 239.9 527.3 234.3 520.3 229.1 526.2 233.5z"/><path fill="#f82025" d="M363.1 159L368.5 158 362.7 153.8 357.2 154.8z"/><path fill="#f71f25" d="M357.6 155.3L363 154.3 357.2 150.2 351.8 151.2z"/><path fill="#f81c21" d="M368.2 158.3L373.6 157.5 367.7 153.4 362.3 154.1z"/><path fill="#f71b21" d="M362.7 154.5L368.1 153.8 362.3 149.7 356.9 150.4z"/><path fill="#f8191d" d="M373.3 157.8L378.6 157.3 372.8 153.1 367.4 153.6z"/><path fill="#f7181d" d="M367.8 154.1L373.1 153.6 367.3 149.5 362 150z"/><path class="m" stroke="#520305" d="M363 158.6 370.7 157.6 378.3 157.2 372.8 153.5 367.4 149.8 359.8 150.3 352.2 151.3 357.6 154.9z"/><path fill="#dc2f0c" d="M442.1 184L447.2 185.2 441.1 180.8 435.9 179.6z"/><path fill="#da2b0d" d="M436.4 180.1L441.5 181.3 435.4 176.8 430.3 175.6z"/><path fill="#d63b0b" d="M447 185.4L452.1 186.9 446 182.4 440.9 180.9z"/><path fill="#d6360b" d="M441.3 181.4L446.4 182.9 440.3 178.5 435.2 177z"/><path fill="#d14809" d="M451.9 187L457 188.7 450.8 184.2 445.8 182.5z"/><path fill="#d14309" d="M446.2 183L451.3 184.7 445.2 180.3 440.1 178.6z"/><path class="m" stroke="#541604" d="M442 183.7 449.3 185.9 456.7 188.5 451 184.5 445.3 180.6 438 178 430.6 175.8 436.3 179.7z"/><path fill="#f72f35" d="M336.8 155.2L342.3 153.5 336.6 149.5 331.1 151.2z"/><path fill="#f72e35" d="M331.5 151.6L336.9 149.9 331.2 145.9 325.8 147.6z"/><path fill="#f7292f" d="M342 153.8L347.4 152.3 341.7 148.3 336.2 149.7z"/><path fill="#f7282f" d="M336.6 150.2L342 148.7 336.3 144.7 330.9 146.1z"/><path fill="#f7232a" d="M347.1 152.6L352.5 151.3 346.8 147.3 341.3 148.5z"/><path fill="#f7232a" d="M341.7 149L347.1 147.7 341.4 143.7 336 144.9z"/><path class="m" stroke="#510205" d="M336.8 154.9 344.5 152.8 352.2 151.3 346.8 147.6 341.4 144.1 333.8 145.6 326.1 147.7 331.4 151.2z"/><path fill="#cd670b" d="M468.3 196.9L473.3 198.9 467.1 194.3 462.1 192.4z"/><path fill="#cc610a" d="M462.6 192.9L467.6 194.8 461.4 190.3 456.4 188.3z"/><path fill="#c87a0c" d="M473.2 199L478.2 201.1 471.9 196.6 467 194.4z"/><path fill="#c7730b" d="M467.4 194.9L472.4 197.1 466.2 192.5 461.2 190.4z"/><path fill="#c3850d" d="M478.1 201.3L483 203.6 476.7 199.1 471.8 196.7z"/><path fill="#c3810d" d="M472.3 197.2L477.2 199.6 471 195.1 466.1 192.7z"/><path class="m" stroke="#543205" d="M468.2 196.6 475.5 199.8 482.7 203.5 476.9 199.4 471.2 195.4 463.9 191.7 456.7 188.5 462.4 192.5z"/><path fill="#f84349" d="M310.7 153.8L316.2 151.3 310.5 147.4 305.1 149.8z"/><path fill="#f84249" d="M305.4 150.2L310.9 147.7 305.3 143.8 299.8 146.3z"/><path fill="#f83c42" d="M315.9 151.6L321.3 149.4 315.7 145.4 310.2 147.6z"/><path fill="#f73b42" d="M310.6 148.1L316 145.8 310.4 141.9 305 144.1z"/><path fill="#f7343c" d="M321 149.7L326.5 147.7 320.8 143.8 315.3 145.7z"/><path fill="#f7343c" d="M315.7 146.1L321.2 144.2 315.5 140.3 310.1 142.2z"/><path class="m" stroke="#510205" d="M310.7 153.4 318.4 150.3 326.1 147.7 320.8 144.1 315.5 140.6 307.9 143.2 300.2 146.3 305.4 149.9z"/><path fill="#be9311" d="M494.5 212.1L499.4 214.7 493 210 488.2 207.4z"/><path fill="#be9110" d="M488.7 207.9L493.5 210.5 487.2 205.9 482.4 203.3z"/><path fill="#b99713" d="M499.3 214.8L504.1 217.6 497.7 213 493 210.1z"/><path fill="#b99512" d="M493.5 210.6L498.3 213.5 491.9 208.9 487.1 206z"/><path fill="#b39b15" d="M504.1 217.7L508.8 220.8 502.4 216.2 497.7 213.1z"/><path fill="#b39914" d="M498.2 213.5L503 216.6 496.6 212.1 491.9 208.9z"/><path class="m" stroke="#534408" d="M494.3 211.8 501.5 215.9 508.5 220.6 502.7 216.4 496.9 212.3 489.8 207.6 482.7 203.5 488.5 207.6z"/><path fill="#f3171a" d="M378.3 157.5L383.7 157.3 377.8 153.1 372.5 153.3z"/><path fill="#f2161a" d="M372.9 153.8L378.2 153.6 372.4 149.5 367 149.7z"/><path fill="#ee1517" d="M383.4 157.5L388.7 157.5 382.8 153.3 377.5 153.3z"/><path fill="#ed1517" d="M377.9 153.8L383.2 153.8 377.4 149.7 372.1 149.7z"/><path fill="#e91514" d="M388.4 157.7L393.7 158 387.8 153.8 382.6 153.6z"/><path fill="#e81414" d="M382.9 154L388.2 154.3 382.4 150.2 377.1 149.9z"/><path class="m" stroke="#520405" d="M378.3 157.2 385.9 157.2 393.4 157.8 387.9 154.1 382.4 150.5 374.9 149.9 367.4 149.8 372.8 153.5z"/><path fill="#a39d17" d="M520.6 229.3L525.2 232.7 518.8 228 514.1 224.6z"/><path fill="#a59d17" d="M514.7 225L519.3 228.4 512.9 223.8 508.2 220.4z"/><path fill="#99a019" d="M525.3 232.7L529.9 236.3 523.4 231.6 518.8 228z"/><path fill="#9b9f19" d="M519.4 228.4L524 232 517.5 227.4 512.9 223.8z"/><path fill="#8ea31b" d="M529.9 236.2L534.5 240.1 528 235.5 523.4 231.6z"/><path fill="#91a21b" d="M524 231.9L528.6 235.8 522.1 231.2 517.5 227.4z"/><path class="m" stroke="#494b0c" d="M520.3 229.1 527.3 234.3 534.2 239.9 528.3 235.6 522.4 231.4 515.5 225.7 508.5 220.6 514.4 224.8z"/><path fill="#e51613" d="M404.5 165.7L409.8 166.2 403.8 161.9 398.6 161.4z"/><path fill="#e41513" d="M399 161.9L404.2 162.4 398.3 158.2 393 157.7z"/><path fill="#e01711" d="M409.5 166.4L414.7 167.1 408.8 162.8 403.6 162.1z"/><path fill="#df1611" d="M404 162.6L409.2 163.3 403.3 159.1 398 158.4z"/><path fill="#db1810" d="M414.5 167.3L419.7 168.2 413.7 164 408.5 163z"/><path fill="#da1710" d="M408.9 163.5L414.1 164.5 408.2 160.3 403 159.3z"/><path class="m" stroke="#520705" d="M404.4 165.3 411.9 166.5 419.4 168.1 413.8 164.3 408.3 160.6 400.8 159 393.4 157.8 398.9 161.6z"/><path fill="#f71f25" d="M352.2 151.6L357.6 150.6 351.8 146.6 346.4 147.6z"/><path fill="#f71e25" d="M346.8 148L352.2 147 346.5 143 341.1 144z"/><path fill="#f71b21" d="M357.3 150.9L362.7 150.2 356.9 146.1 351.5 146.8z"/><path fill="#f71a21" d="M351.9 147.3L357.3 146.6 351.5 142.6 346.2 143.3z"/><path fill="#f6181d" d="M362.4 150.4L367.7 149.9 361.9 145.9 356.6 146.4z"/><path fill="#f6171d" d="M357 146.8L362.3 146.3 356.6 142.3 351.2 142.8z"/><path class="m" stroke="#510305" d="M352.2 151.3 359.8 150.3 367.4 149.8 362 146.2 356.6 142.7 349 143.1 341.4 144.1 346.8 147.6z"/><path fill="#d9270d" d="M430.7 176.1L435.8 177.3 429.8 173 424.6 171.8z"/><path fill="#d8230e" d="M425.1 172.3L430.2 173.5 424.2 169.1 419 167.9z"/><path fill="#d5320b" d="M435.6 177.5L440.7 178.9 434.7 174.6 429.6 173.1z"/><path fill="#d52d0c" d="M430 173.6L435.1 175.1 429.1 170.8 424 169.3z"/><path fill="#d03e0a" d="M440.5 179.1L445.6 180.8 439.5 176.4 434.5 174.7z"/><path fill="#d03a0a" d="M434.9 175.2L440 176.9 433.9 172.6 428.9 170.9z"/><path class="m" stroke="#541204" d="M430.6 175.8 438 178 445.3 180.6 439.7 176.7 434.1 172.9 426.7 170.3 419.4 168.1 425 171.9z"/><path fill="#f72e35" d="M326.1 148L331.6 146.3 325.9 142.3 320.5 144.1z"/><path fill="#f72d35" d="M320.8 144.5L326.3 142.8 320.6 138.9 315.2 140.6z"/><path fill="#f7282f" d="M331.2 146.6L336.7 145.1 331 141.2 325.6 142.6z"/><path fill="#f6272f" d="M325.9 143L331.4 141.6 325.7 137.7 320.3 139.1z"/><path fill="#f7222a" d="M336.3 145.4L341.8 144.2 336.1 140.2 330.7 141.4z"/><path fill="#f6222a" d="M331 141.9L336.4 140.7 330.8 136.8 325.4 138z"/><path class="m" stroke="#510205" d="M326.1 147.7 333.8 145.6 341.4 144.1 336.1 140.6 330.8 137.1 323.2 138.6 315.5 140.6 320.8 144.1z"/><path fill="#cc5a0a" d="M456.8 188.8L461.8 190.8 455.7 186.3 450.7 184.4z"/><path fill="#cb5309" d="M451.1 184.9L456.1 186.8 450 182.4 445 180.4z"/><path fill="#c76d0b" d="M461.7 190.9L466.7 193 460.5 188.6 455.5 186.4z"/><path fill="#c7670b" d="M456 186.9L461 189.1 454.8 184.7 449.9 182.5z"/><path fill="#c27d0c" d="M466.5 193.2L471.5 195.5 465.3 191.1 460.4 188.7z"/><path fill="#c27a0c" d="M460.8 189.2L465.7 191.6 459.6 187.2 454.7 184.8z"/><path class="m" stroke="#542d04" d="M456.7 188.5 463.9 191.7 471.2 195.4 465.5 191.4 459.8 187.5 452.6 183.8 445.3 180.6 451 184.5z"/><path fill="#be8e0f" d="M482.9 203.7L487.7 206.4 481.5 201.8 476.6 199.2z"/><path fill="#be8b0f" d="M477.1 199.7L482 202.3 475.7 197.8 470.9 195.2z"/><path fill="#b89211" d="M487.7 206.4L492.5 209.3 486.2 204.8 481.4 201.9z"/><path fill="#b89011" d="M481.9 202.4L486.7 205.2 480.4 200.8 475.6 197.9z"/><path fill="#b39714" d="M492.4 209.4L497.2 212.5 490.8 208 486.1 204.9z"/><path fill="#b39513" d="M486.7 205.3L491.4 208.4 485.1 204 480.4 200.8z"/><path class="m" stroke="#544208" d="M482.7 203.5 489.8 207.6 496.9 212.3 491.1 208.2 485.4 204.2 478.3 199.5 471.2 195.4 476.9 199.4z"/><path fill="#a79c16" d="M508.8 220.8L513.5 224.2 507.1 219.6 502.4 216.2z"/><path fill="#aa9b16" d="M503 216.6L507.6 220 501.3 215.5 496.6 212.1z"/><path fill="#9d9f18" d="M513.5 224.1L518.1 227.8 511.7 223.2 507.1 219.6z"/><path fill="#a09e18" d="M507.7 219.9L512.3 223.6 505.9 219.1 501.3 215.5z"/><path fill="#93a11a" d="M518.2 227.7L522.7 231.6 516.3 227.1 511.7 223.2z"/><path fill="#95a11a" d="M512.3 223.5L516.9 227.4 510.5 223 505.9 219z"/><path class="m" stroke="#4b4b0b" d="M508.5 220.6 515.5 225.7 522.4 231.4 516.6 227.2 510.8 223 503.9 217.4 496.9 212.3 502.7 216.4z"/><path fill="#f2151a" d="M367.4 150.2L372.7 149.9 367 145.9 361.6 146.1z"/><path fill="#f1151a" d="M362 146.6L367.3 146.3 361.6 142.3 356.3 142.6z"/><path fill="#ed1417" d="M372.5 150.2L377.8 150.2 372 146.1 366.7 146.1z"/><path fill="#ec1317" d="M367 146.6L372.3 146.6 366.6 142.6 361.3 142.6z"/><path fill="#e71314" d="M377.5 150.4L382.8 150.6 377 146.6 371.7 146.3z"/><path fill="#e71214" d="M372.1 146.8L377.3 147 371.6 143 366.3 142.8z"/><path class="m" stroke="#520405" d="M367.4 149.8 374.9 149.9 382.4 150.5 377 146.9 371.6 143.4 364.1 142.8 356.6 142.7 362 146.2z"/><path fill="#e41512" d="M393.4 158.2L398.7 158.7 392.8 154.5 387.6 154z"/><path fill="#e31412" d="M387.9 154.5L393.2 155 387.4 150.9 382.1 150.4z"/><path fill="#de1511" d="M398.4 158.9L403.6 159.6 397.8 155.4 392.5 154.7z"/><path fill="#de1411" d="M392.9 155.2L398.2 155.9 392.3 151.8 387.1 151.1z"/><path fill="#d91610" d="M403.4 159.8L408.6 160.7 402.7 156.6 397.5 155.6z"/><path fill="#d91510" d="M397.9 156.1L403.1 157.1 397.2 153 392.1 152z"/><path class="m" stroke="#520605" d="M393.4 157.8 400.8 159 408.3 160.6 402.8 156.9 397.3 153.3 389.9 151.6 382.4 150.5 387.9 154.1z"/><path fill="#f71d25" d="M341.4 144.4L346.8 143.5 341.1 139.5 335.8 140.5z"/><path fill="#f61d25" d="M336.1 140.9L341.5 140 335.9 136.1 330.5 137z"/><path fill="#f71a21" d="M346.5 143.7L351.9 143 346.2 139.1 340.8 139.8z"/><path fill="#f61921" d="M341.2 140.2L346.6 139.5 340.9 135.6 335.5 136.3z"/><path fill="#f5171d" d="M351.6 143.3L356.9 142.8 351.2 138.8 345.9 139.3z"/><path fill="#f4161d" d="M346.2 139.8L351.6 139.3 345.9 135.4 340.6 135.8z"/><path class="m" stroke="#510205" d="M341.4 144.1 349 143.1 356.6 142.7 351.3 139.2 346 135.7 338.4 136.1 330.8 137.1 336.1 140.6z"/><path fill="#d71f0e" d="M419.5 168.4L424.6 169.6 418.6 165.4 413.5 164.2z"/><path fill="#d61b0e" d="M413.9 164.7L419 165.9 413.1 161.6 408 160.4z"/><path fill="#d3290c" d="M424.4 169.8L429.5 171.3 423.5 167 418.4 165.5z"/><path fill="#d2250c" d="M418.8 166L423.9 167.5 418 163.3 412.9 161.8z"/><path fill="#cf350a" d="M429.3 171.4L434.4 173.1 428.4 168.8 423.3 167.2z"/><path fill="#cf310a" d="M423.7 167.6L428.8 169.3 422.8 165.1 417.8 163.4z"/><path class="m" stroke="#540f04" d="M419.4 168.1 426.7 170.3 434.1 172.9 428.5 169.2 423 165.4 415.6 162.8 408.3 160.6 413.8 164.3z"/><path fill="#cb4d09" d="M445.4 180.9L450.5 182.9 444.4 178.5 439.4 176.6z"/><path fill="#cb4709" d="M439.8 177.1L444.8 179 438.8 174.7 433.8 172.8z"/><path fill="#c6600a" d="M450.3 183L455.3 185.1 449.2 180.8 444.2 178.6z"/><path fill="#c65a0a" d="M444.7 179.1L449.6 181.3 443.6 177 438.6 174.8z"/><path fill="#c1740b" d="M455.2 185.3L460.1 187.7 454 183.3 449 180.9z"/><path fill="#c16e0b" d="M449.5 181.4L454.4 183.8 448.4 179.5 443.4 177.1z"/><path class="m" stroke="#542804" d="M445.3 180.6 452.6 183.8 459.8 187.5 454.1 183.6 448.5 179.8 441.3 176.1 434.1 172.9 439.7 176.7z"/><path fill="#be870e" d="M471.4 195.6L476.2 198.3 470 193.8 465.2 191.2z"/><path fill="#bd840d" d="M465.7 191.7L470.5 194.3 464.3 189.9 459.5 187.3z"/><path fill="#b88e10" d="M476.2 198.3L481 201.2 474.7 196.8 469.9 193.9z"/><path fill="#b88c0f" d="M470.5 194.4L475.3 197.2 469 192.9 464.3 190z"/><path fill="#b39312" d="M480.9 201.3L485.7 204.4 479.4 200 474.7 196.9z"/><path fill="#b39012" d="M475.2 197.3L480 200.4 473.7 196.1 469 192.9z"/><path class="m" stroke="#544007" d="M471.2 195.4 478.3 199.5 485.4 204.2 479.7 200.2 474 196.3 466.9 191.6 459.8 187.5 465.5 191.4z"/><path fill="#ac9b16" d="M497.2 212.5L501.8 215.9 495.5 211.4 490.8 208z"/><path fill="#ae9a15" d="M491.4 208.4L496.1 211.8 489.8 207.4 485.1 204z"/><path fill="#a29d17" d="M501.9 215.8L506.5 219.5 500.1 215 495.5 211.4z"/><path fill="#a49d17" d="M496.1 211.7L500.7 215.4 494.4 211 489.8 207.4z"/><path fill="#98a019" d="M506.5 219.3L511.1 223.3 504.7 218.9 500.1 215z"/><path fill="#9aa019" d="M500.8 215.2L505.3 219.2 499 214.9 494.4 210.9z"/><path class="m" stroke="#4d4a0b" d="M496.9 212.3 503.9 217.4 510.8 223 505 219 499.3 214.9 492.4 209.3 485.4 204.2 491.1 208.2z"/><path fill="#f0141a" d="M356.6 143L362 142.8 356.3 138.8 350.9 139.1z"/><path fill="#ef141a" d="M351.3 139.5L356.6 139.3 350.9 135.4 345.6 135.6z"/><path fill="#eb1317" d="M361.7 143L367 143 361.3 139.1 356 139.1z"/><path fill="#ea1217" d="M356.3 139.5L361.6 139.5 355.9 135.6 350.6 135.6z"/><path fill="#e61214" d="M366.7 143.3L372 143.5 366.2 139.6 361 139.3z"/><path fill="#e51114" d="M361.3 139.8L366.6 140 360.9 136.1 355.6 135.9z"/><path class="m" stroke="#520305" d="M356.6 142.7 364.1 142.8 371.6 143.4 366.3 139.9 361 136.5 353.5 135.8 346 135.7 351.3 139.2z"/><path fill="#e21312" d="M382.5 150.9L387.7 151.3 381.9 147.3 376.7 146.8z"/><path fill="#e21212" d="M377.1 147.3L382.3 147.8 376.5 143.7 371.3 143.3z"/><path fill="#dd1311" d="M387.5 151.6L392.7 152.3 386.9 148.2 381.7 147.5z"/><path fill="#dc1311" d="M382 148L387.3 148.7 381.5 144.7 376.3 144z"/><path fill="#d81410" d="M392.4 152.5L397.6 153.4 391.8 149.4 386.6 148.4z"/><path fill="#d71310" d="M387 148.9L392.2 149.9 386.4 145.8 381.2 144.9z"/><path class="m" stroke="#520605" d="M382.4 150.5 389.9 151.6 397.3 153.3 391.9 149.7 386.5 146.2 379.1 144.5 371.6 143.4 377 146.9z"/><path fill="#d4170f" d="M408.4 160.9L413.5 162.1 407.6 158 402.5 156.8z"/><path fill="#d4160f" d="M402.9 157.3L408 158.5 402.1 154.3 397 153.1z"/><path fill="#d1220d" d="M413.3 162.3L418.4 163.8 412.5 159.6 407.4 158.2z"/><path fill="#d01e0d" d="M407.8 158.6L412.9 160.1 407 156 401.9 154.5z"/><path fill="#ce2d0b" d="M418.2 163.9L423.3 165.6 417.3 161.4 412.3 159.8z"/><path fill="#cd290b" d="M412.7 160.3L417.8 161.9 411.9 157.8 406.8 156.1z"/><path class="m" stroke="#530c05" d="M408.3 160.6 415.6 162.8 423 165.4 417.5 161.8 412 158.1 404.7 155.5 397.3 153.3 402.8 156.9z"/><path fill="#ca4309" d="M434.2 173.3L439.2 175.2 433.2 170.9 428.2 169z"/><path fill="#ca3f09" d="M428.6 169.5L433.7 171.4 427.7 167.2 422.7 165.3z"/><path fill="#c55509" d="M439.1 175.3L444 177.4 438 173.2 433 171z"/><path fill="#c54f09" d="M433.5 171.5L438.5 173.7 432.5 169.5 427.5 167.3z"/><path fill="#c0680a" d="M443.9 177.6L448.8 180 442.8 175.7 437.9 173.3z"/><path fill="#c0630a" d="M438.4 173.8L443.3 176.2 437.2 172 432.3 169.6z"/><path class="m" stroke="#542304" d="M434.1 172.9 441.3 176.1 448.5 179.8 443 176 437.4 172.3 430.2 168.6 423 165.4 428.5 169.2z"/><path fill="#bd800d" d="M460 187.7L464.8 190.4 458.7 186 453.8 183.4z"/><path fill="#bc7d0c" d="M454.4 183.9L459.2 186.5 453.1 182.2 448.2 179.6z"/><path fill="#b88a0f" d="M464.8 190.4L469.6 193.3 463.4 189 458.6 186.1z"/><path fill="#b8870e" d="M459.2 186.6L463.9 189.5 457.8 185.2 453 182.3z"/><path fill="#b38e11" d="M469.6 193.3L474.3 196.5 468.1 192.2 463.4 189.1z"/><path fill="#b38c10" d="M463.9 189.5L468.7 192.6 462.5 188.4 457.8 185.2z"/><path class="m" stroke="#543e07" d="M459.8 187.5 466.9 191.6 474 196.3 468.4 192.4 462.8 188.6 455.7 183.9 448.5 179.8 454.1 183.6z"/><path fill="#af9915" d="M485.7 204.4L490.3 207.8 484 203.4 479.4 200z"/><path fill="#b09714" d="M480 200.4L484.6 203.8 478.4 199.5 473.7 196.1z"/><path fill="#a69c17" d="M490.4 207.7L495 211.3 488.7 207 484.1 203.4z"/><path fill="#a89c16" d="M484.7 203.7L489.3 207.4 483 203.1 478.4 199.5z"/><path fill="#9c9f19" d="M495 211.2L499.6 215.1 493.3 210.9 488.7 207z"/><path fill="#9e9f18" d="M489.3 207.2L493.9 211.2 487.6 207 483.1 203z"/><path class="m" stroke="#4f4a0b" d="M485.4 204.2 492.4 209.3 499.3 214.9 493.6 211 488 207 481 201.4 474 196.3 479.7 200.2z"/><path fill="#e11112" d="M371.7 143.7L376.9 144.2 371.2 140.3 365.9 139.8z"/><path fill="#e01112" d="M366.3 140.2L371.6 140.7 365.9 136.8 360.6 136.3z"/><path fill="#dc1211" d="M376.7 144.4L381.9 145.2 376.1 141.2 370.9 140.5z"/><path fill="#db1111" d="M371.3 141L376.5 141.7 370.8 137.8 365.6 137z"/><path fill="#d71310" d="M381.6 145.4L386.8 146.3 381.1 142.4 375.9 141.4z"/><path fill="#d6120f" d="M376.3 141.9L381.4 142.9 375.7 138.9 370.5 138z"/><path class="m" stroke="#520505" d="M371.6 143.4 379.1 144.5 386.5 146.2 381.1 142.7 375.8 139.3 368.4 137.6 361 136.5 366.3 139.9z"/><path fill="#d3150f" d="M397.4 153.6L402.5 154.8 396.7 150.8 391.6 149.6z"/><path fill="#d3150e" d="M392 150.1L397.1 151.3 391.3 147.2 386.2 146z"/><path fill="#cf1b0d" d="M402.3 155L407.4 156.5 401.6 152.4 396.5 151z"/><path fill="#ce170d" d="M396.9 151.4L402 152.9 396.2 148.9 391.1 147.4z"/><path fill="#cc260b" d="M407.2 156.6L412.3 158.3 406.4 154.2 401.4 152.6z"/><path fill="#cb230c" d="M401.8 153.1L406.9 154.7 401 150.7 396 149z"/><path class="m" stroke="#530a05" d="M397.3 153.3 404.7 155.5 412 158.1 406.6 154.6 401.1 151 393.8 148.4 386.5 146.2 391.9 149.7z"/><path fill="#c93a09" d="M423.1 165.8L428.1 167.7 422.2 163.5 417.2 161.6z"/><path fill="#c93609" d="M417.6 162.1L422.6 164 416.7 159.9 411.7 158z"/><path fill="#c44a08" d="M428 167.8L432.9 170 427 165.8 422 163.6z"/><path fill="#c44508" d="M422.5 164.1L427.4 166.3 421.5 162.2 416.5 160z"/><path fill="#c05e0a" d="M432.8 170.1L437.7 172.5 431.7 168.3 426.8 165.9z"/><path fill="#bf5809" d="M427.3 166.4L432.2 168.8 426.3 164.7 421.4 162.3z"/><path class="m" stroke="#541e03" d="M423 165.4 430.2 168.6 437.4 172.3 431.9 168.6 426.5 165 419.2 161.3 412 158.1 417.5 161.8z"/><path fill="#bc7a0c" d="M448.8 180.1L453.6 182.7 447.5 178.4 442.7 175.8z"/><path fill="#bb760b" d="M443.2 176.3L448 178.9 442 174.7 437.1 172.1z"/><path fill="#b8840e" d="M453.6 182.7L458.3 185.6 452.2 181.4 447.4 178.5z"/><path fill="#b7810d" d="M448 179L452.8 181.9 446.7 177.7 441.9 174.8z"/><path fill="#b28a10" d="M458.3 185.6L463.1 188.8 456.9 184.6 452.2 181.5z"/><path fill="#b2890f" d="M452.8 181.9L457.5 185 451.4 180.9 446.7 177.7z"/><path class="m" stroke="#543c06" d="M448.5 179.8 455.7 183.9 462.8 188.6 457.2 184.8 451.7 181.1 444.6 176.4 437.4 172.3 443 176z"/><path fill="#b09513" d="M474.3 196.5L479 199.9 472.7 195.6 468.1 192.2z"/><path fill="#b09413" d="M468.7 192.6L473.3 196 467.1 191.8 462.5 188.4z"/><path fill="#aa9b16" d="M479 199.8L483.6 203.4 477.4 199.3 472.8 195.6z"/><path fill="#ac9b16" d="M473.4 195.9L478 199.6 471.8 195.4 467.2 191.8z"/><path fill="#a09e18" d="M483.7 203.3L488.2 207.2 482 203.1 477.4 199.1z"/><path fill="#a29d17" d="M478.1 199.4L482.6 203.4 476.4 199.3 471.8 195.3z"/><path class="m" stroke="#51490a" d="M474 196.3 481 201.4 488 207 482.3 203.1 476.7 199.3 469.8 193.7 462.8 188.6 468.4 192.4z"/><path fill="#d2140e" d="M386.6 146.5L391.7 147.7 386 143.8 380.8 142.6z"/><path fill="#d1130e" d="M381.2 143.1L386.3 144.2 380.6 140.3 375.5 139.1z"/><path fill="#cd150e" d="M391.5 147.9L396.6 149.4 390.8 145.4 385.7 143.9z"/><path fill="#cd150e" d="M386.1 144.4L391.2 145.9 385.5 141.9 380.4 140.5z"/><path fill="#ca200c" d="M396.4 149.5L401.5 151.2 395.7 147.2 390.6 145.6z"/><path fill="#c91d0c" d="M391 146.1L396.1 147.7 390.3 143.8 385.3 142.1z"/><path class="m" stroke="#520805" d="M386.5 146.2 393.8 148.4 401.1 151 395.8 147.6 390.4 144.1 383.1 141.4 375.8 139.3 381.1 142.7z"/><path fill="#c8330a" d="M412.1 158.5L417.1 160.4 411.3 156.3 406.2 154.4z"/><path fill="#c82f0a" d="M406.7 154.9L411.7 156.8 405.9 152.8 400.8 150.9z"/><path fill="#c34108" d="M417 160.5L422 162.7 416.1 158.6 411.1 156.5z"/><path fill="#c33d09" d="M411.5 156.9L416.5 159.1 410.7 155.1 405.7 152.9z"/><path fill="#bf5309" d="M421.8 162.8L426.8 165.2 420.8 161.1 415.9 158.7z"/><path fill="#be4f09" d="M416.4 159.2L421.3 161.6 415.4 157.6 410.5 155.2z"/><path class="m" stroke="#541b03" d="M412 158.1 419.2 161.3 426.5 165 421 161.4 415.6 157.9 408.4 154.2 401.1 151 406.6 154.6z"/><path fill="#bb720b" d="M437.6 172.6L442.5 175.2 436.5 171.1 431.6 168.4z"/><path fill="#bb6d0b" d="M432.1 168.9L437 171.5 431 167.4 426.2 164.8z"/><path fill="#b77e0d" d="M442.5 175.2L447.2 178.1 441.2 174 436.4 171.1z"/><path fill="#b67b0c" d="M436.9 171.6L441.7 174.5 435.7 170.4 430.9 167.5z"/><path fill="#b2870f" d="M447.2 178.1L451.9 181.3 445.9 177.2 441.1 174.1z"/><path fill="#b2850e" d="M441.7 174.5L446.4 177.6 440.4 173.6 435.7 170.4z"/><path class="m" stroke="#543906" d="M437.4 172.3 444.6 176.4 451.7 181.1 446.2 177.4 440.7 173.8 433.6 169.1 426.5 165 431.9 168.6z"/><path fill="#b09212" d="M463.1 188.7L467.7 192.2 461.6 188 456.9 184.6z"/><path fill="#b19012" d="M457.5 185L462.2 188.4 456 184.3 451.4 180.9z"/><path fill="#ae9a15" d="M467.8 192L472.4 195.7 466.2 191.7 461.6 188z"/><path fill="#af9915" d="M462.2 188.2L466.8 192 460.7 188 456.1 184.2z"/><path fill="#a49d17" d="M472.5 195.5L477 199.5 470.8 195.5 466.3 191.5z"/><path fill="#a69c17" d="M466.9 191.7L471.4 195.7 465.3 191.8 460.7 187.8z"/><path class="m" stroke="#53480a" d="M462.8 188.6 469.8 193.7 476.7 199.3 471.2 195.5 465.6 191.8 458.7 186.2 451.7 181.1 457.2 184.8z"/><path fill="#c72b0a" d="M401.3 151.4L406.3 153.3 400.5 149.3 395.5 147.4z"/><path fill="#c6280a" d="M395.9 147.9L400.9 149.8 395.2 145.9 390.1 144z"/><path fill="#c23a09" d="M406.1 153.4L411.1 155.6 405.3 151.6 400.3 149.4z"/><path fill="#c23609" d="M400.8 149.9L405.7 152.1 399.9 148.1 395 146z"/><path fill="#be4a08" d="M411 155.7L415.9 158.1 410 154.1 405.1 151.7z"/><path fill="#bd4508" d="M405.6 152.2L410.5 154.6 404.7 150.7 399.8 148.3z"/><path class="m" stroke="#541804" d="M401.1 151 408.4 154.2 415.6 157.9 410.2 154.4 404.9 151 397.7 147.3 390.4 144.1 395.8 147.6z"/><path fill="#ba680a" d="M426.7 165.3L431.5 167.9 425.6 163.8 420.7 161.2z"/><path fill="#ba630a" d="M421.2 161.7L426.1 164.3 420.2 160.3 415.3 157.7z"/><path fill="#b6780c" d="M431.5 167.9L436.3 170.8 430.3 166.8 425.5 163.9z"/><path fill="#b6750b" d="M426 164.4L430.8 167.2 424.9 163.3 420.1 160.4z"/><path fill="#b3830e" d="M436.3 170.8L441 174 434.9 170 430.2 166.9z"/><path fill="#b3800d" d="M430.8 167.2L435.5 170.4 429.5 166.5 424.8 163.3z"/><path class="m" stroke="#543705" d="M426.5 165 433.6 169.1 440.7 173.8 435.2 170.2 429.8 166.7 422.7 162 415.6 157.9 421 161.4z"/><path fill="#b18f11" d="M452 181.2L456.6 184.6 450.5 180.6 445.9 177.2z"/><path fill="#b18d11" d="M446.5 177.5L451.1 181 445 177 440.4 173.6z"/><path fill="#af9714" d="M456.7 184.5L461.3 188.2 455.2 184.3 450.6 180.6z"/><path fill="#b09614" d="M451.2 180.8L455.8 184.5 449.7 180.7 445.1 176.9z"/><path fill="#a89c16" d="M461.3 188L465.9 192 459.8 188.1 455.2 184.1z"/><path fill="#a99b16" d="M455.8 184.3L460.4 188.3 454.3 184.5 449.7 180.5z"/><path class="m" stroke="#534709" d="M451.7 181.1 458.7 186.2 465.6 191.8 460.1 188.1 454.7 184.5 447.7 178.9 440.7 173.8 446.2 177.4z"/><path fill="#b95e0a" d="M415.8 158.2L420.7 160.8 414.8 156.8 409.9 154.2z"/><path fill="#b95a09" d="M410.4 154.7L415.3 157.3 409.4 153.4 404.6 150.8z"/><path fill="#b5730b" d="M420.6 160.8L425.4 163.7 419.5 159.8 414.7 156.9z"/><path fill="#b56f0b" d="M415.3 157.3L420 160.2 414.1 156.4 409.4 153.5z"/><path fill="#b37e0d" d="M425.4 163.7L430.1 166.9 424.1 163 419.4 159.8z"/><path fill="#b37c0d" d="M420.1 160.2L424.7 163.4 418.8 159.6 414.1 156.4z"/><path class="m" stroke="#543505" d="M415.6 157.9 422.7 162 429.8 166.7 424.5 163.2 419.1 159.7 412 155.1 404.9 151 410.2 154.4z"/><path fill="#b18c10" d="M441 173.9L445.7 177.3 439.6 173.4 435 170z"/><path fill="#b28a10" d="M435.6 170.3L440.2 173.7 434.2 169.9 429.5 166.5z"/><path fill="#b09413" d="M445.7 177.1L450.3 180.9 444.2 177.1 439.6 173.3z"/><path fill="#b09313" d="M440.3 173.5L444.9 177.3 438.8 173.6 434.2 169.8z"/><path fill="#ab9b16" d="M450.4 180.6L454.9 184.7 448.9 181 444.3 176.9z"/><path fill="#ad9b15" d="M444.9 177L449.5 181.1 443.5 177.4 438.9 173.4z"/><path class="m" stroke="#534609" d="M440.7 173.8 447.7 178.9 454.7 184.5 449.2 180.9 443.8 177.3 436.9 171.8 429.8 166.7 435.2 170.2z"/><path fill="#b2890f" d="M430.2 166.7L434.8 170.2 428.8 166.5 424.2 163z"/><path fill="#b2880f" d="M424.8 163.2L429.4 166.7 423.5 163 418.8 159.5z"/><path fill="#b09212" d="M434.9 170L439.5 173.8 433.5 170.1 428.9 166.3z"/><path fill="#b19012" d="M429.5 166.5L434.1 170.3 428.1 166.7 423.5 162.9z"/><path fill="#ae9a15" d="M439.5 173.5L444.1 177.5 438.1 174 433.5 169.9z"/><path fill="#af9915" d="M434.1 169.9L438.7 174 432.8 170.5 428.2 166.4z"/><path class="m" stroke="#534408" d="M429.8 166.7 436.9 171.8 443.8 177.3 438.4 173.8 433.1 170.4 426.1 164.8 419.1 159.7 424.5 163.2z"/><circle cx="350.2" cy="568.7" r="5.5" fill="#ffc8c8" stroke="#602020" stroke-width="1"/><circle cx="395.9" cy="227.1" r="5.5" fill="#c8000a" stroke="#700000" stroke-width="1"/><circle cx="673.1" cy="346.3" r="5.5" fill="#c8000a" stroke="#700000" stroke-width="1"/><circle cx="135.7" cy="423" r="2.6" fill="#000"/><circle cx="133.2" cy="385.9" r="2.6" fill="#000"/><circle cx="130.8" cy="348.9" r="2.6" fill="#000"/><circle cx="128.3" cy="311.8" r="2.6" fill="#000"/><circle cx="125.8" cy="274.8" r="2.6" fill="#000"/><circle cx="123.3" cy="237.7" r="2.6" fill="#000"/><circle cx="120.8" cy="200.7" r="2.6" fill="#000"/><circle cx="118.4" cy="163.6" r="2.6" fill="#000"/><circle cx="141" cy="502.5" r="2.6" fill="#000"/><circle cx="141" cy="502.5" r="2.6" fill="#000"/><circle cx="167.3" cy="524.7" r="2.6" fill="#000"/><circle cx="193.6" cy="546.9" r="2.6" fill="#000"/><circle cx="219.8" cy="569" r="2.6" fill="#000"/><circle cx="246.1" cy="591.2" r="2.6" fill="#000"/><circle cx="272.3" cy="613.4" r="2.6" fill="#000"/><circle cx="298.6" cy="635.6" r="2.6" fill="#000"/><circle cx="324.8" cy="657.8" r="2.6" fill="#000"/><circle cx="351.1" cy="680" r="2.6" fill="#000"/><circle cx="351.1" cy="680" r="2.6" fill="#000"/><circle cx="428.1" cy="646.2" r="2.6" fill="#000"/><circle cx="505.1" cy="612.4" r="2.6" fill="#000"/><circle cx="582.1" cy="578.6" r="2.6" fill="#000"/><circle cx="659" cy="544.8" r="2.6" fill="#000"/><text x="124.7" y="416.8" font-size="16.5" text-anchor="end" fill="#333" font-family="Liberation Sans, sans-serif">4.2</text><text x="122.2" y="379.7" font-size="16.5" text-anchor="end" fill="#333" font-family="Liberation Sans, sans-serif">4.4</text><text x="119.8" y="342.7" font-size="16.5" text-anchor="end" fill="#333" font-family="Liberation Sans, sans-serif">4.6</text><text x="117.3" y="305.6" font-size="16.5" text-anchor="end" fill="#333" font-family="Liberation Sans, sans-serif">4.8</text><text x="114.8" y="268.6" font-size="16.5" text-anchor="end" fill="#333" font-family="Liberation Sans, sans-serif">5</text><text x="112.3" y="231.5" font-size="16.5" text-anchor="end" fill="#333" font-family="Liberation Sans, sans-serif">5.2</text><text x="109.8" y="194.5" font-size="16.5" text-anchor="end" fill="#333" font-family="Liberation Sans, sans-serif">5.4</text><text x="107.4" y="157.4" font-size="16.5" text-anchor="end" fill="#333" font-family="Liberation Sans, sans-serif">5.6</text><text x="129.8" y="520.7" font-size="16.5" text-anchor="end" fill="#333" font-family="Liberation Sans, sans-serif">360</text><text x="156.1" y="542.9" font-size="16.5" text-anchor="end" fill="#333" font-family="Liberation Sans, sans-serif">351</text><text x="182.4" y="565.1" font-size="16.5" text-anchor="end" fill="#333" font-family="Liberation Sans, sans-serif">342</text><text x="208.6" y="587.2" font-size="16.5" text-anchor="end" fill="#333" font-family="Liberation Sans, sans-serif">333</text><text x="234.9" y="609.4" font-size="16.5" text-anchor="end" fill="#333" font-family="Liberation Sans, sans-serif">324</text><text x="261.1" y="631.6" font-size="16.5" text-anchor="end" fill="#333" font-family="Liberation Sans, sans-serif">315</text><text x="287.4" y="653.8" font-size="16.5" text-anchor="end" fill="#333" font-family="Liberation Sans, sans-serif">306</text><text x="313.6" y="676" font-size="16.5" text-anchor="end" fill="#333" font-family="Liberation Sans, sans-serif">297</text><text x="339.9" y="698.2" font-size="16.5" text-anchor="end" fill="#333" font-family="Liberation Sans, sans-serif">288</text><text x="362.1" y="698.4" font-size="16.5" fill="#333" font-family="Liberation Sans, sans-serif">15</text><text x="439.1" y="664.6" font-size="16.5" fill="#333" font-family="Liberation Sans, sans-serif">20</text><text x="516.1" y="630.8" font-size="16.5" fill="#333" font-family="Liberation Sans, sans-serif">25</text><text x="593.1" y="597" font-size="16.5" fill="#333" font-family="Liberation Sans, sans-serif">30</text><text x="670" y="563.2" font-size="16.5" fill="#333" font-family="Liberation Sans, sans-serif">35</text><text x="46.2" y="645.8" font-size="18" fill="#333" font-family="Liberation Sans, sans-serif" textLength="182.8" lengthAdjust="spacingAndGlyphs">Ultrasonic power (W)</text><text x="447.1" y="686.8" font-size="18" fill="#333" font-family="Liberation Sans, sans-serif" textLength="290" lengthAdjust="spacingAndGlyphs" style="white-space:pre">Ratio of liquid to material  (mL/g)</text><text transform="translate(43.3 341) rotate(-90)" x="0" y="0" font-size="18" fill="#333" font-family="Liberation Sans, sans-serif" text-anchor="middle" textLength="74.7" lengthAdjust="spacingAndGlyphs">Yield (%)</text><text x="1" y="25.0" font-size="33.5" font-weight="bold" fill="#000" font-family="Liberation Sans, sans-serif">(A)</text><text x="1" y="764.3" font-size="33.5" font-weight="bold" fill="#000" font-family="Liberation Sans, sans-serif">(B)</text></svg></body></html>
